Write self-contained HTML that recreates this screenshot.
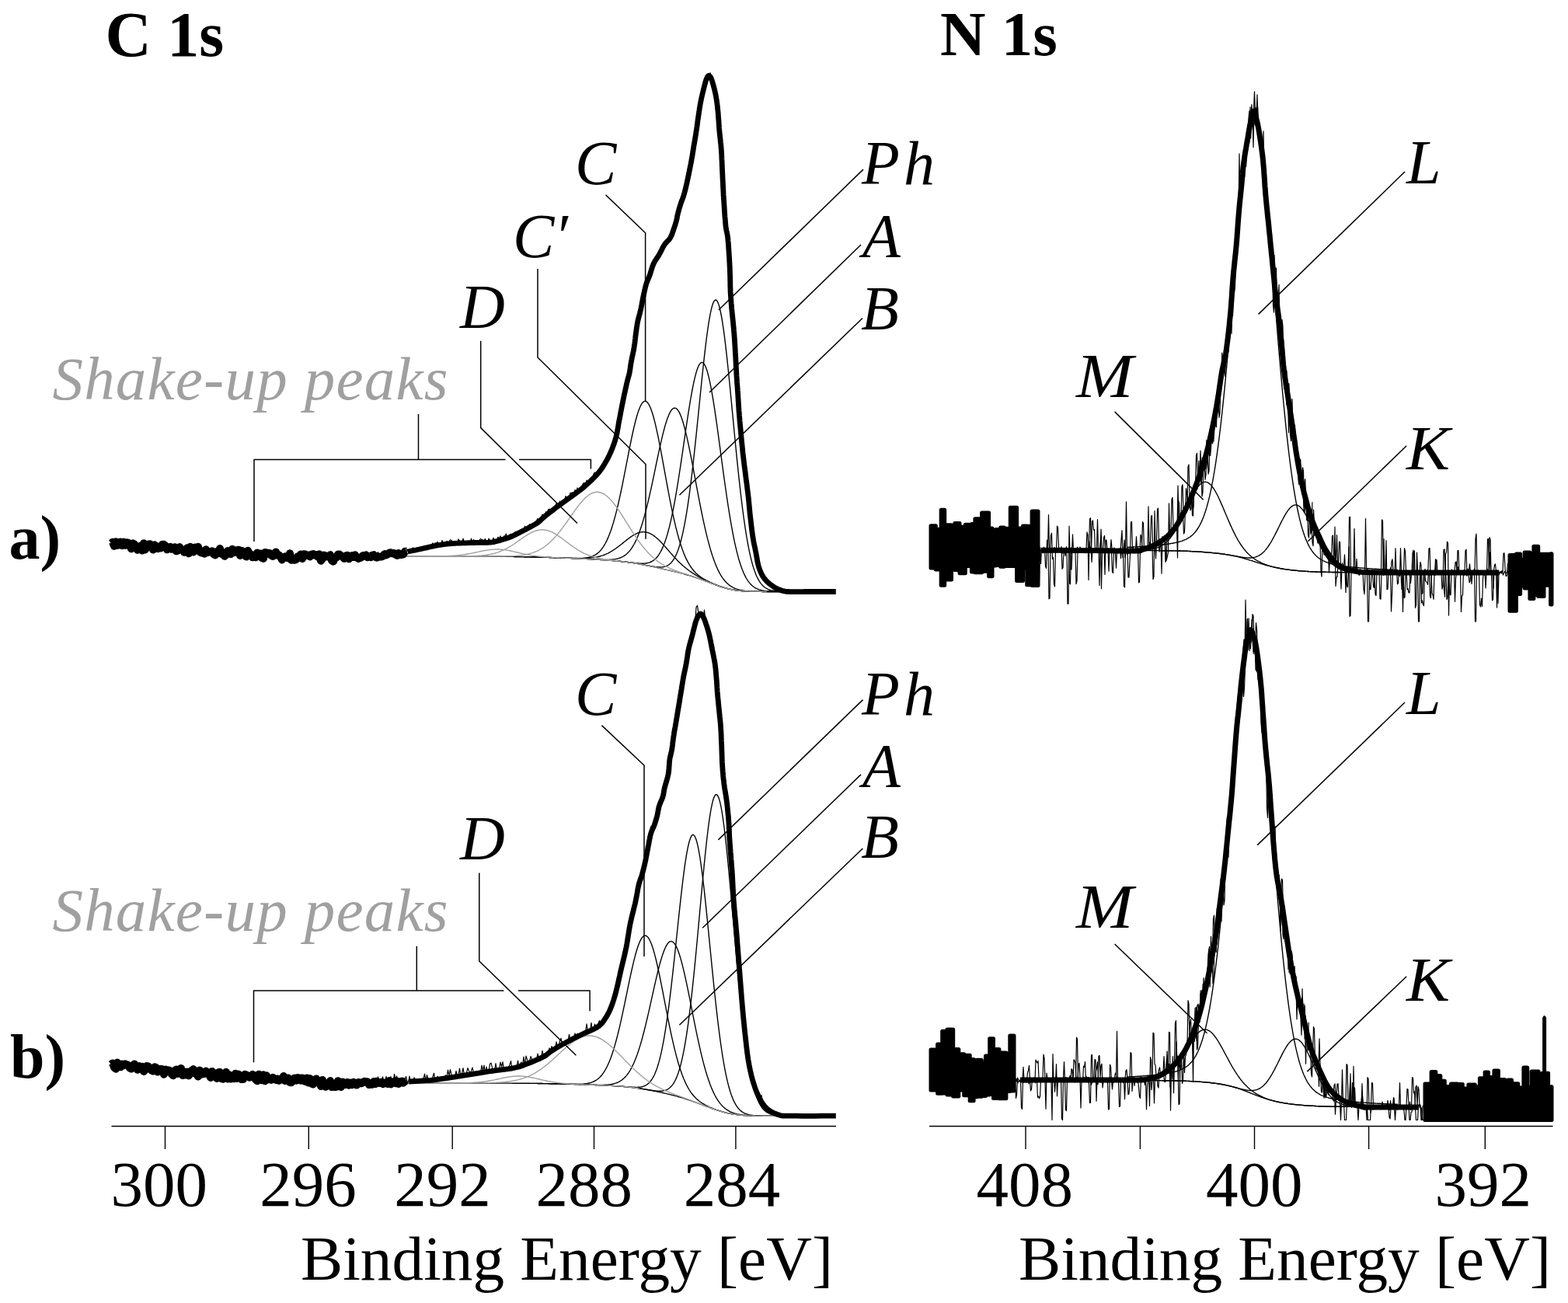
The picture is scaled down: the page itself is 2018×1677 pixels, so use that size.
<!DOCTYPE html>
<html><head><meta charset="utf-8"><title>XPS C 1s and N 1s spectra</title>
<style>html,body{margin:0;padding:0;background:#fff;}svg{display:block;}
text{font-family:"Liberation Serif","Times New Roman",serif;}</style></head>
<body><svg width="2018" height="1677" viewBox="0 0 2018 1677">
<rect width="2018" height="1677" fill="#fff"/>
<text x="135.5" y="71.5" font-size="82" font-weight="bold" font-style="normal" fill="#000">C 1s</text>
<text x="1210" y="71" font-size="81" font-weight="bold" font-style="normal" fill="#000">N 1s</text>
<text x="11.5" y="718.5" font-size="80" font-weight="bold" font-style="normal" fill="#000">a)</text>
<text x="13" y="1387" font-size="80" font-weight="bold" font-style="normal" fill="#000">b)</text>
<text x="142.6" y="1551.5" font-size="83" font-weight="normal" font-style="normal" fill="#000">300</text>
<text x="334.2" y="1551.5" font-size="83" font-weight="normal" font-style="normal" fill="#000">296</text>
<text x="507.3" y="1551.5" font-size="83" font-weight="normal" font-style="normal" fill="#000">292</text>
<text x="689.6" y="1551.5" font-size="83" font-weight="normal" font-style="normal" fill="#000">288</text>
<text x="879.8" y="1551.5" font-size="83" font-weight="normal" font-style="normal" fill="#000">284</text>
<text x="1256.6" y="1551.5" font-size="83" font-weight="normal" font-style="normal" fill="#000">408</text>
<text x="1551.9" y="1551.5" font-size="83" font-weight="normal" font-style="normal" fill="#000">400</text>
<text x="1846.6" y="1551.5" font-size="83" font-weight="normal" font-style="normal" fill="#000">392</text>
<text x="387" y="1646.5" font-size="81" font-weight="normal" font-style="normal" fill="#000" textLength="685" lengthAdjust="spacingAndGlyphs">Binding Energy [eV]</text>
<text x="1311" y="1646.5" font-size="81" font-weight="normal" font-style="normal" fill="#000" textLength="685" lengthAdjust="spacingAndGlyphs">Binding Energy [eV]</text>
<path d="M143.5 1449.5L1076 1449.5" fill="none" stroke="#000" stroke-width="1.4" stroke-linejoin="round" stroke-linecap="butt"/>
<path d="M1196 1449.5L1998.5 1449.5" fill="none" stroke="#000" stroke-width="1.4" stroke-linejoin="round" stroke-linecap="butt"/>
<path d="M212.5 1449.5L212.5 1479" fill="none" stroke="#000" stroke-width="1.4" stroke-linejoin="round" stroke-linecap="butt"/>
<path d="M397.3 1449.5L397.3 1479" fill="none" stroke="#000" stroke-width="1.4" stroke-linejoin="round" stroke-linecap="butt"/>
<path d="M582.2 1449.5L582.2 1479" fill="none" stroke="#000" stroke-width="1.4" stroke-linejoin="round" stroke-linecap="butt"/>
<path d="M764.5 1449.5L764.5 1479" fill="none" stroke="#000" stroke-width="1.4" stroke-linejoin="round" stroke-linecap="butt"/>
<path d="M946.9 1449.5L946.9 1479" fill="none" stroke="#000" stroke-width="1.4" stroke-linejoin="round" stroke-linecap="butt"/>
<path d="M1320 1449.5L1320 1479" fill="none" stroke="#000" stroke-width="1.4" stroke-linejoin="round" stroke-linecap="butt"/>
<path d="M1467.4 1449.5L1467.4 1479" fill="none" stroke="#000" stroke-width="1.4" stroke-linejoin="round" stroke-linecap="butt"/>
<path d="M1614.5 1449.5L1614.5 1479" fill="none" stroke="#000" stroke-width="1.4" stroke-linejoin="round" stroke-linecap="butt"/>
<path d="M1761.6 1449.5L1761.6 1479" fill="none" stroke="#000" stroke-width="1.4" stroke-linejoin="round" stroke-linecap="butt"/>
<path d="M1911.3 1449.5L1911.3 1479" fill="none" stroke="#000" stroke-width="1.4" stroke-linejoin="round" stroke-linecap="butt"/>
<path d="M520 716L521 716L522 716L523 716L524 716L525 716L526 716L527 716L528 716L529 716L530 716L531 716L532 716L533 716L534 716L535 716L536 716L537 716L538 716L539 716L540 716L541 716L542 716L543 716L544 716L545 716L546 716L547 716L548 716L549 716L550 716L551 716L552 716L553 716L554 716L555 716L556 716L557 716L558 716L559 716L560 716L561 716L562 716L563 716L564 716L565 716L566 716L567 716L568 716L569 716L570 716L571 716L572 716L573 716L574 716L575 716L576 716L577 716L578 716L579 716L580 716L581 716L582 716L583 716L584 716L585 716L586 716L587 716L588 716L589 716L590 716L591 716L592 716L593 716L594 716L595 716L596 716L597 716L598 716L599 716L600 716L601 716L602 716L603 716L604 716L605 716L606 716L607 716L608 716L609 716L610 716L611 716L612 716L613 716.1L614 716.1L615 716.1L616 716.1L617 716.1L618 716.1L619 716.1L620 716.1L621 716.1L622 716.1L623 716.1L624 716.1L625 716.1L626 716.1L627 716.1L628 716.1L629 716.1L630 716.1L631 716.1L632 716.1L633 716.2L634 716.2L635 716.2L636 716.2L637 716.2L638 716.2L639 716.2L640 716.2L641 716.2L642 716.2L643 716.2L644 716.2L645 716.3L646 716.3L647 716.3L648 716.3L649 716.3L650 716.3L651 716.3L652 716.3L653 716.3L654 716.3L655 716.4L656 716.4L657 716.4L658 716.4L659 716.4L660 716.4L661 716.4L662 716.5L663 716.5L664 716.5L665 716.5L666 716.5L667 716.5L668 716.5L669 716.6L670 716.6L671 716.6L672 716.6L673 716.6L674 716.6L675 716.7L676 716.7L677 716.7L678 716.7L679 716.7L680 716.8L681 716.8L682 716.8L683 716.8L684 716.8L685 716.9L686 716.9L687 716.9L688 716.9L689 717L690 717L691 717L692 717L693 717.1L694 717.1L695 717.1L696 717.1L697 717.2L698 717.2L699 717.2L700 717.3L701 717.3L702 717.3L703 717.4L704 717.4L705 717.4L706 717.4L707 717.5L708 717.5L709 717.5L710 717.6L711 717.6L712 717.6L713 717.7L714 717.7L715 717.7L716 717.8L717 717.8L718 717.8L719 717.9L720 717.9L721 717.9L722 718L723 718L724 718.1L725 718.1L726 718.1L727 718.2L728 718.2L729 718.2L730 718.3L731 718.3L732 718.4L733 718.4L734 718.4L735 718.5L736 718.5L737 718.6L738 718.6L739 718.7L740 718.7L741 718.8L742 718.8L743 718.8L744 718.9L745 718.9L746 719L747 719L748 719.1L749 719.1L750 719.2L751 719.2L752 719.3L753 719.3L754 719.4L755 719.4L756 719.5L757 719.5L758 719.6L759 719.6L760 719.7L761 719.8L762 719.8L763 719.9L764 719.9L765 720L766 720L767 720.1L768 720.2L769 720.2L770 720.3L771 720.3L772 720.4L773 720.5L774 720.5L775 720.6L776 720.6L777 720.7L778 720.8L779 720.8L780 720.9L781 721L782 721L783 721.1L784 721.2L785 721.3L786 721.3L787 721.4L788 721.5L789 721.6L790 721.6L791 721.7L792 721.8L793 721.9L794 722L795 722.1L796 722.2L797 722.3L798 722.4L799 722.5L800 722.6L801 722.7L802 722.8L803 722.9L804 723L805 723.2L806 723.3L807 723.4L808 723.5L809 723.7L810 723.8L811 723.9L812 724.1L813 724.2L814 724.4L815 724.5L816 724.7L817 724.9L818 725L819 725.2L820 725.4L821 725.5L822 725.7L823 725.9L824 726.1L825 726.3L826 726.5L827 726.7L828 726.9L829 727L830 727.2L831 727.5L832 727.7L833 727.9L834 728.1L835 728.3L836 728.5L837 728.7L838 728.9L839 729.1L840 729.3L841 729.6L842 729.8L843 730L844 730.2L845 730.4L846 730.7L847 730.9L848 731.1L849 731.3L850 731.6L851 731.8L852 732L853 732.2L854 732.5L855 732.7L856 732.9L857 733.1L858 733.4L859 733.6L860 733.8L861 734L862 734.3L863 734.5L864 734.7L865 735L866 735.2L867 735.4L868 735.7L869 735.9L870 736.1L871 736.4L872 736.6L873 736.9L874 737.1L875 737.4L876 737.6L877 737.9L878 738.1L879 738.4L880 738.7L881 738.9L882 739.2L883 739.5L884 739.8L885 740.1L886 740.3L887 740.6L888 740.9L889 741.2L890 741.5L891 741.9L892 742.2L893 742.5L894 742.8L895 743.2L896 743.5L897 743.8L898 744.2L899 744.5L900 744.9L901 745.2L902 745.6L903 746L904 746.3L905 746.7L906 747.1L907 747.5L908 747.9L909 748.2L910 748.6L911 749L912 749.4L913 749.8L914 750.2L915 750.5L916 750.9L917 751.3L918 751.7L919 752.1L920 752.4L921 752.8L922 753.2L923 753.5L924 753.9L925 754.2L926 754.5L927 754.9L928 755.2L929 755.5L930 755.8L931 756.1L932 756.4L933 756.7L934 757L935 757.2L936 757.5L937 757.7L938 758L939 758.2L940 758.4L941 758.6L942 758.8L943 759L944 759.2L945 759.3L946 759.5L947 759.7L948 759.8L949 759.9L950 760.1L951 760.2L952 760.3L953 760.4L954 760.5L955 760.6L956 760.7L957 760.7L958 760.8L959 760.9L960 760.9L961 761L962 761L963 761.1L964 761.1L965 761.2L966 761.2L967 761.2L968 761.3L969 761.3L970 761.3L971 761.3L972 761.4L973 761.4L974 761.4L975 761.4L976 761.4L977 761.4L978 761.4L979 761.4L980 761.4L981 761.5L982 761.5L983 761.5L984 761.5L985 761.5L986 761.5L987 761.5L988 761.5L989 761.5L990 761.5L991 761.5L992 761.5L993 761.5L994 761.5L995 761.5L996 761.5L997 761.5L998 761.5L999 761.5L1000 761.5L1001 761.5L1002 761.5L1003 761.5L1004 761.5L1005 761.5L1006 761.5L1007 761.5L1008 761.5L1009 761.5L1010 761.5L1011 761.5L1012 761.5L1013 761.5L1014 761.5L1015 761.5L1016 761.5L1017 761.5L1018 761.5L1019 761.5L1020 761.5L1021 761.5L1022 761.5L1023 761.5L1024 761.5L1025 761.5L1026 761.5L1027 761.5L1028 761.5L1029 761.5L1030 761.5L1031 761.5L1032 761.5L1033 761.5L1034 761.5L1035 761.5L1036 761.5L1037 761.5L1038 761.5L1039 761.5L1040 761.5L1041 761.5L1042 761.5L1043 761.5L1044 761.5L1045 761.5L1046 761.5L1047 761.5L1048 761.5L1049 761.5L1050 761.5L1051 761.5L1052 761.5L1053 761.5L1054 761.5L1055 761.5L1056 761.5L1057 761.5L1058 761.5L1059 761.5L1060 761.5L1061 761.5L1062 761.5L1063 761.5L1064 761.5L1065 761.5L1066 761.5L1067 761.5L1068 761.5L1069 761.5L1070 761.5L1071 761.5L1072 761.5L1073 761.5L1074 761.5L1075 761.5" fill="none" stroke="#000" stroke-width="1.4" stroke-linejoin="round" stroke-linecap="butt"/>
<path d="M789 721.6L790 721.6L791 721.7L792 721.8L793 721.9L794 722L795 722.1L796 722.2L797 722.3L798 722.4L799 722.5L800 722.6L801 722.7L802 722.8L803 722.9L804 723L805 723.2L806 723.3L807 723.4L808 723.5L809 723.7L810 723.8L811 723.9L812 724.1L813 724.2L814 724.4L815 724.5L816 724.7L817 724.9L818 725L819 725.2L820 725.4L821 725.5L822 725.7L823 725.9L824 726.1L825 726.3L826 726.4L827 726.6L828 726.8L829 727L830 727.2L831 727.4L832 727.6L833 727.8L834 728L835 728.2L836 728.3L837 728.5L838 728.7L839 728.9L840 729L841 729.2L842 729.3L843 729.5L844 729.6L845 729.7L846 729.8L847 729.9L848 730L849 730L850 730L851 729.9L852 729.9L853 729.8L854 729.6L855 729.4L856 729.1L857 728.8L858 728.4L859 727.9L860 727.3L861 726.6L862 725.8L863 724.9L864 723.9L865 722.8L866 721.4L867 720L868 718.3L869 716.5L870 714.4L871 712.2L872 709.7L873 707L874 704L875 700.8L876 697.2L877 693.4L878 689.3L879 684.9L880 680.2L881 675.1L882 669.7L883 663.9L884 657.8L885 651.4L886 644.6L887 637.5L888 630L889 622.2L890 614.1L891 605.8L892 597.1L893 588.2L894 579L895 569.6L896 560.1L897 550.4L898 540.5L899 530.7L900 520.7L901 510.8L902 501L903 491.2L904 481.7L905 472.3L906 463.1L907 454.3L908 445.8L909 437.7L910 430L911 422.8L912 416.2L913 410.1L914 404.6L915 399.8L916 395.7L917 392.3L918 389.6L919 387.6L920 386.4L921 386L922 386.4L923 387.5L924 389.4L925 392.1L926 395.5L927 399.6L928 404.5L929 410L930 416.1L931 422.9L932 430.2L933 438.1L934 446.4L935 455.1L936 464.3L937 473.8L938 483.5L939 493.5L940 503.7L941 514L942 524.4L943 534.9L944 545.3L945 555.7L946 566L947 576.2L948 586.3L949 596.1L950 605.7L951 615.1L952 624.2L953 633L954 641.5L955 649.7L956 657.5L957 665L958 672.1L959 678.9L960 685.4L961 691.5L962 697.2L963 702.6L964 707.6L965 712.4L966 716.8L967 720.9L968 724.7L969 728.2L970 731.4L971 734.4L972 737.1L973 739.7L974 742L975 744L976 745.9L977 747.7L978 749.2L979 750.6L980 751.9L981 753L982 754L983 755L984 755.8L985 756.5L986 757.1L987 757.7L988 758.2L989 758.6L990 759L991 759.4L992 759.7L993 759.9L994 760.1L995 760.3L996 760.5L997 760.7L998 760.8L999 760.9L1000 761L1001 761.1L1002 761.1L1003 761.2L1004 761.2L1005 761.3L1006 761.3L1007 761.3L1008 761.4L1009 761.4L1010 761.4L1011 761.4L1012 761.4L1013 761.5L1014 761.5L1015 761.5L1016 761.5L1017 761.5L1018 761.5L1019 761.5L1020 761.5L1021 761.5L1022 761.5L1023 761.5L1024 761.5L1025 761.5L1026 761.5L1027 761.5L1028 761.5L1029 761.5L1030 761.5L1031 761.5L1032 761.5L1033 761.5L1034 761.5L1035 761.5L1036 761.5L1037 761.5L1038 761.5L1039 761.5L1040 761.5L1041 761.5L1042 761.5L1043 761.5L1044 761.5L1045 761.5L1046 761.5L1047 761.5L1048 761.5L1049 761.5L1050 761.5L1051 761.5L1052 761.5L1053 761.5L1054 761.5" fill="none" stroke="#000" stroke-width="1.4" stroke-linejoin="round" stroke-linecap="butt"/>
<path d="M759 719.6L760 719.7L761 719.8L762 719.8L763 719.9L764 719.9L765 720L766 720L767 720.1L768 720.2L769 720.2L770 720.3L771 720.3L772 720.4L773 720.5L774 720.5L775 720.6L776 720.6L777 720.7L778 720.8L779 720.8L780 720.9L781 721L782 721L783 721.1L784 721.2L785 721.3L786 721.3L787 721.4L788 721.5L789 721.6L790 721.6L791 721.7L792 721.8L793 721.9L794 722L795 722.1L796 722.2L797 722.3L798 722.4L799 722.5L800 722.6L801 722.7L802 722.8L803 722.9L804 723L805 723.1L806 723.2L807 723.3L808 723.5L809 723.6L810 723.7L811 723.8L812 723.9L813 724.1L814 724.2L815 724.3L816 724.4L817 724.5L818 724.6L819 724.7L820 724.8L821 724.9L822 725L823 725.1L824 725.1L825 725.2L826 725.2L827 725.2L828 725.2L829 725.1L830 725.1L831 725L832 724.8L833 724.7L834 724.4L835 724.2L836 723.9L837 723.5L838 723L839 722.5L840 721.9L841 721.3L842 720.5L843 719.7L844 718.7L845 717.7L846 716.5L847 715.2L848 713.8L849 712.2L850 710.5L851 708.6L852 706.6L853 704.4L854 702L855 699.5L856 696.7L857 693.8L858 690.6L859 687.3L860 683.7L861 679.9L862 675.9L863 671.7L864 667.2L865 662.5L866 657.7L867 652.6L868 647.3L869 641.8L870 636.1L871 630.2L872 624.1L873 617.9L874 611.5L875 605L876 598.4L877 591.7L878 584.9L879 578.1L880 571.2L881 564.4L882 557.5L883 550.7L884 544L885 537.4L886 530.9L887 524.6L888 518.5L889 512.5L890 506.9L891 501.5L892 496.4L893 491.6L894 487.2L895 483.1L896 479.5L897 476.2L898 473.5L899 471.1L900 469.2L901 467.8L902 466.9L903 466.5L904 466.6L905 467.1L906 468.2L907 469.8L908 471.8L909 474.3L910 477.3L911 480.8L912 484.6L913 488.9L914 493.6L915 498.7L916 504.1L917 509.8L918 515.8L919 522.1L920 528.7L921 535.4L922 542.4L923 549.5L924 556.7L925 564.1L926 571.5L927 578.9L928 586.4L929 593.8L930 601.2L931 608.6L932 615.8L933 623L934 630L935 637L936 643.7L937 650.3L938 656.7L939 662.9L940 668.9L941 674.7L942 680.2L943 685.6L944 690.7L945 695.6L946 700.3L947 704.7L948 708.9L949 712.9L950 716.6L951 720.2L952 723.5L953 726.6L954 729.5L955 732.3L956 734.8L957 737.2L958 739.4L959 741.4L960 743.3L961 745L962 746.6L963 748.1L964 749.4L965 750.6L966 751.7L967 752.8L968 753.7L969 754.5L970 755.3L971 756L972 756.6L973 757.2L974 757.7L975 758.1L976 758.5L977 758.9L978 759.2L979 759.5L980 759.7L981 760L982 760.2L983 760.3L984 760.5L985 760.6L986 760.7L987 760.8L988 760.9L989 761L990 761.1L991 761.1L992 761.2L993 761.2L994 761.3L995 761.3L996 761.3L997 761.4L998 761.4L999 761.4L1000 761.4L1001 761.4L1002 761.4L1003 761.4L1004 761.5L1005 761.5L1006 761.5L1007 761.5L1008 761.5L1009 761.5L1010 761.5L1011 761.5L1012 761.5L1013 761.5L1014 761.5L1015 761.5L1016 761.5L1017 761.5L1018 761.5L1019 761.5L1020 761.5L1021 761.5L1022 761.5L1023 761.5L1024 761.5L1025 761.5L1026 761.5L1027 761.5L1028 761.5L1029 761.5L1030 761.5L1031 761.5L1032 761.5L1033 761.5L1034 761.5L1035 761.5L1036 761.5L1037 761.5L1038 761.5L1039 761.5L1040 761.5L1041 761.5L1042 761.5L1043 761.5L1044 761.5L1045 761.5L1046 761.5L1047 761.5L1048 761.5L1049 761.5" fill="none" stroke="#000" stroke-width="1.4" stroke-linejoin="round" stroke-linecap="butt"/>
<path d="M714 717.7L715 717.7L716 717.8L717 717.8L718 717.8L719 717.9L720 717.9L721 717.9L722 718L723 718L724 718.1L725 718.1L726 718.1L727 718.2L728 718.2L729 718.2L730 718.3L731 718.3L732 718.4L733 718.4L734 718.4L735 718.5L736 718.5L737 718.6L738 718.6L739 718.7L740 718.7L741 718.8L742 718.8L743 718.8L744 718.9L745 718.9L746 719L747 719L748 719.1L749 719.1L750 719.2L751 719.2L752 719.3L753 719.3L754 719.4L755 719.4L756 719.5L757 719.5L758 719.6L759 719.6L760 719.7L761 719.7L762 719.8L763 719.8L764 719.9L765 719.9L766 720L767 720L768 720.1L769 720.1L770 720.2L771 720.2L772 720.2L773 720.3L774 720.3L775 720.3L776 720.4L777 720.4L778 720.4L779 720.4L780 720.4L781 720.4L782 720.4L783 720.4L784 720.4L785 720.3L786 720.3L787 720.2L788 720.1L789 720L790 719.9L791 719.8L792 719.6L793 719.4L794 719.2L795 719L796 718.7L797 718.4L798 718L799 717.6L800 717.2L801 716.7L802 716.2L803 715.6L804 714.9L805 714.2L806 713.4L807 712.5L808 711.5L809 710.5L810 709.4L811 708.2L812 706.8L813 705.4L814 703.9L815 702.2L816 700.5L817 698.6L818 696.6L819 694.5L820 692.2L821 689.8L822 687.3L823 684.6L824 681.8L825 678.8L826 675.7L827 672.5L828 669.1L829 665.6L830 661.9L831 658.2L832 654.2L833 650.2L834 646L835 641.8L836 637.4L837 632.9L838 628.4L839 623.8L840 619.1L841 614.4L842 609.6L843 604.8L844 600L845 595.2L846 590.5L847 585.7L848 581.1L849 576.5L850 572L851 567.6L852 563.3L853 559.2L854 555.3L855 551.5L856 547.9L857 544.5L858 541.4L859 538.5L860 535.9L861 533.5L862 531.4L863 529.6L864 528L865 526.8L866 525.9L867 525.4L868 525.1L869 525.2L870 525.6L871 526.3L872 527.4L873 528.8L874 530.4L875 532.4L876 534.7L877 537.3L878 540.2L879 543.3L880 546.7L881 550.4L882 554.2L883 558.3L884 562.6L885 567.1L886 571.7L887 576.5L888 581.4L889 586.4L890 591.5L891 596.7L892 602L893 607.3L894 612.6L895 618L896 623.3L897 628.6L898 633.9L899 639.2L900 644.4L901 649.5L902 654.5L903 659.5L904 664.3L905 669.1L906 673.7L907 678.2L908 682.6L909 686.8L910 690.9L911 694.8L912 698.7L913 702.3L914 705.9L915 709.2L916 712.5L917 715.6L918 718.5L919 721.3L920 724L921 726.5L922 728.9L923 731.2L924 733.4L925 735.4L926 737.3L927 739.1L928 740.8L929 742.3L930 743.8L931 745.2L932 746.5L933 747.7L934 748.8L935 749.9L936 750.8L937 751.7L938 752.6L939 753.4L940 754.1L941 754.7L942 755.3L943 755.9L944 756.4L945 756.9L946 757.3L947 757.7L948 758.1L949 758.4L950 758.7L951 759L952 759.2L953 759.5L954 759.7L955 759.9L956 760L957 760.2L958 760.3L959 760.5L960 760.6L961 760.7L962 760.8L963 760.9L964 760.9L965 761L966 761.1L967 761.1L968 761.2L969 761.2L970 761.2L971 761.3L972 761.3L973 761.3L974 761.3L975 761.4L976 761.4L977 761.4L978 761.4L979 761.4L980 761.4L981 761.4L982 761.5L983 761.5L984 761.5L985 761.5L986 761.5L987 761.5L988 761.5L989 761.5L990 761.5L991 761.5L992 761.5L993 761.5L994 761.5L995 761.5L996 761.5L997 761.5L998 761.5L999 761.5L1000 761.5L1001 761.5L1002 761.5L1003 761.5L1004 761.5L1005 761.5L1006 761.5L1007 761.5L1008 761.5L1009 761.5L1010 761.5L1011 761.5L1012 761.5L1013 761.5L1014 761.5L1015 761.5L1016 761.5L1017 761.5L1018 761.5L1019 761.5L1020 761.5L1021 761.5L1022 761.5L1023 761.5L1024 761.5" fill="none" stroke="#000" stroke-width="1.4" stroke-linejoin="round" stroke-linecap="butt"/>
<path d="M683 716.8L684 716.8L685 716.9L686 716.9L687 716.9L688 716.9L689 717L690 717L691 717L692 717L693 717.1L694 717.1L695 717.1L696 717.1L697 717.2L698 717.2L699 717.2L700 717.3L701 717.3L702 717.3L703 717.4L704 717.4L705 717.4L706 717.4L707 717.5L708 717.5L709 717.5L710 717.6L711 717.6L712 717.6L713 717.7L714 717.7L715 717.7L716 717.8L717 717.8L718 717.8L719 717.9L720 717.9L721 717.9L722 718L723 718L724 718L725 718.1L726 718.1L727 718.1L728 718.2L729 718.2L730 718.2L731 718.3L732 718.3L733 718.3L734 718.4L735 718.4L736 718.4L737 718.5L738 718.5L739 718.5L740 718.5L741 718.5L742 718.5L743 718.5L744 718.5L745 718.5L746 718.5L747 718.5L748 718.5L749 718.4L750 718.4L751 718.3L752 718.2L753 718.1L754 718L755 717.9L756 717.7L757 717.5L758 717.3L759 717.1L760 716.8L761 716.5L762 716.1L763 715.7L764 715.2L765 714.7L766 714.2L767 713.6L768 712.9L769 712.1L770 711.3L771 710.4L772 709.4L773 708.3L774 707.1L775 705.8L776 704.4L777 702.9L778 701.2L779 699.5L780 697.6L781 695.6L782 693.4L783 691.1L784 688.6L785 686L786 683.3L787 680.4L788 677.3L789 674.1L790 670.7L791 667.1L792 663.4L793 659.6L794 655.6L795 651.4L796 647.1L797 642.7L798 638.1L799 633.5L800 628.7L801 623.8L802 618.8L803 613.8L804 608.7L805 603.6L806 598.4L807 593.3L808 588.1L809 583L810 577.9L811 572.9L812 568L813 563.2L814 558.5L815 554L816 549.7L817 545.5L818 541.5L819 537.8L820 534.3L821 531.1L822 528.2L823 525.6L824 523.2L825 521.2L826 519.6L827 518.2L828 517.2L829 516.6L830 516.4L831 516.4L832 516.9L833 517.7L834 518.9L835 520.4L836 522.3L837 524.5L838 527L839 529.9L840 533L841 536.5L842 540.2L843 544.2L844 548.4L845 552.8L846 557.4L847 562.2L848 567.2L849 572.3L850 577.5L851 582.8L852 588.2L853 593.7L854 599.2L855 604.7L856 610.2L857 615.7L858 621.1L859 626.5L860 631.9L861 637.1L862 642.3L863 647.4L864 652.4L865 657.2L866 661.9L867 666.5L868 670.9L869 675.2L870 679.3L871 683.2L872 687.1L873 690.7L874 694.2L875 697.5L876 700.7L877 703.7L878 706.6L879 709.3L880 711.9L881 714.4L882 716.7L883 718.9L884 720.9L885 722.9L886 724.7L887 726.4L888 728L889 729.5L890 730.9L891 732.3L892 733.5L893 734.7L894 735.8L895 736.9L896 737.9L897 738.8L898 739.7L899 740.5L900 741.3L901 742.1L902 742.8L903 743.5L904 744.2L905 744.8L906 745.4L907 746L908 746.5L909 747.1L910 747.6L911 748.1L912 748.6L913 749.1L914 749.6L915 750L916 750.5L917 750.9L918 751.4L919 751.8L920 752.2L921 752.6L922 753L923 753.4L924 753.7L925 754.1L926 754.5L927 754.8L928 755.1L929 755.5L930 755.8L931 756.1L932 756.4L933 756.7L934 756.9L935 757.2L936 757.5L937 757.7L938 758L939 758.2L940 758.4L941 758.6L942 758.8L943 759L944 759.2L945 759.3L946 759.5L947 759.7L948 759.8L949 759.9L950 760.1L951 760.2L952 760.3L953 760.4L954 760.5L955 760.6L956 760.7L957 760.7L958 760.8L959 760.9L960 760.9L961 761L962 761L963 761.1L964 761.1L965 761.2L966 761.2L967 761.2L968 761.3L969 761.3L970 761.3L971 761.3L972 761.4L973 761.4L974 761.4L975 761.4L976 761.4L977 761.4L978 761.4" fill="none" stroke="#000" stroke-width="1.4" stroke-linejoin="round" stroke-linecap="butt"/>
<path d="M661 716.4L662 716.5L663 716.5L664 716.5L665 716.5L666 716.5L667 716.5L668 716.5L669 716.6L670 716.6L671 716.6L672 716.6L673 716.6L674 716.6L675 716.7L676 716.7L677 716.7L678 716.7L679 716.7L680 716.8L681 716.8L682 716.8L683 716.8L684 716.8L685 716.9L686 716.9L687 716.9L688 716.9L689 717L690 717L691 717L692 717L693 717.1L694 717.1L695 717.1L696 717.1L697 717.2L698 717.2L699 717.2L700 717.3L701 717.3L702 717.3L703 717.3L704 717.4L705 717.4L706 717.4L707 717.5L708 717.5L709 717.5L710 717.6L711 717.6L712 717.6L713 717.7L714 717.7L715 717.7L716 717.8L717 717.8L718 717.8L719 717.9L720 717.9L721 717.9L722 718L723 718L724 718L725 718.1L726 718.1L727 718.1L728 718.2L729 718.2L730 718.2L731 718.3L732 718.3L733 718.3L734 718.4L735 718.4L736 718.4L737 718.4L738 718.5L739 718.5L740 718.5L741 718.5L742 718.5L743 718.6L744 718.6L745 718.6L746 718.6L747 718.6L748 718.6L749 718.6L750 718.6L751 718.6L752 718.5L753 718.5L754 718.5L755 718.4L756 718.4L757 718.3L758 718.3L759 718.2L760 718.1L761 718L762 717.9L763 717.8L764 717.6L765 717.5L766 717.3L767 717.2L768 717L769 716.7L770 716.5L771 716.3L772 716L773 715.7L774 715.4L775 715.1L776 714.8L777 714.4L778 714L779 713.6L780 713.2L781 712.7L782 712.3L783 711.8L784 711.2L785 710.7L786 710.1L787 709.5L788 708.9L789 708.3L790 707.6L791 707L792 706.3L793 705.6L794 704.8L795 704.1L796 703.3L797 702.6L798 701.8L799 701L800 700.2L801 699.4L802 698.6L803 697.8L804 697L805 696.2L806 695.4L807 694.6L808 693.8L809 693.1L810 692.3L811 691.6L812 690.9L813 690.2L814 689.6L815 688.9L816 688.3L817 687.8L818 687.3L819 686.8L820 686.4L821 686L822 685.6L823 685.3L824 685.1L825 684.9L826 684.8L827 684.7L828 684.6L829 684.6L830 684.7L831 684.9L832 685L833 685.3L834 685.6L835 685.9L836 686.4L837 686.8L838 687.3L839 687.9L840 688.5L841 689.2L842 689.9L843 690.7L844 691.5L845 692.3L846 693.2L847 694.1L848 695.1L849 696L850 697L851 698.1L852 699.1L853 700.2L854 701.3L855 702.4L856 703.5L857 704.7L858 705.8L859 707L860 708.1L861 709.3L862 710.4L863 711.6L864 712.7L865 713.8L866 715L867 716.1L868 717.2L869 718.2L870 719.3L871 720.4L872 721.4L873 722.4L874 723.4L875 724.4L876 725.3L877 726.3L878 727.2L879 728.1L880 729L881 729.8L882 730.6L883 731.5L884 732.2L885 733L886 733.8L887 734.5L888 735.2L889 735.9L890 736.6L891 737.3L892 737.9L893 738.6L894 739.2L895 739.8L896 740.4L897 741L898 741.6L899 742.1L900 742.7L901 743.2L902 743.8L903 744.3L904 744.8L905 745.3L906 745.8L907 746.3L908 746.8L909 747.3L910 747.7L911 748.2L912 748.7L913 749.1L914 749.6L915 750L916 750.5L917 750.9L918 751.3L919 751.7L920 752.1L921 752.5L922 752.9L923 753.3L924 753.7L925 754L926 754.4L927 754.7L928 755.1L929 755.4L930 755.7L931 756L932 756.3L933 756.6L934 756.9L935 757.2L936 757.4L937 757.7L938 757.9L939 758.2L940 758.4L941 758.6L942 758.8L943 759L944 759.2L945 759.3L946 759.5L947 759.6L948 759.8L949 759.9L950 760.1L951 760.2L952 760.3L953 760.4L954 760.5L955 760.6L956 760.7L957 760.7L958 760.8L959 760.9L960 760.9L961 761L962 761L963 761.1L964 761.1L965 761.2L966 761.2L967 761.2L968 761.3L969 761.3L970 761.3L971 761.3L972 761.4L973 761.4L974 761.4L975 761.4L976 761.4L977 761.4L978 761.4L979 761.4L980 761.4L981 761.5L982 761.5L983 761.5L984 761.5L985 761.5L986 761.5L987 761.5L988 761.5L989 761.5L990 761.5L991 761.5L992 761.5L993 761.5L994 761.5L995 761.5L996 761.5L997 761.5L998 761.5L999 761.5L1000 761.5L1001 761.5L1002 761.5L1003 761.5" fill="none" stroke="#000" stroke-width="1.4" stroke-linejoin="round" stroke-linecap="butt"/>
<path d="M551 716L552 716L553 716L554 716L555 716L556 716L557 716L558 716L559 716L560 716L561 716L562 716L563 716L564 716L565 716L566 716L567 716L568 716L569 716L570 716L571 716L572 716L573 716L574 716L575 716L576 716L577 716L578 716L579 716L580 716L581 716L582 716L583 716L584 716L585 716L586 716L587 716L588 716L589 716L590 716L591 716L592 716L593 716L594 716L595 716L596 716L597 716L598 716L599 716L600 716L601 716L602 716L603 716L604 716L605 716L606 716L607 716L608 716L609 716L610 716L611 716L612 716L613 716L614 716L615 716.1L616 716.1L617 716.1L618 716.1L619 716.1L620 716.1L621 716.1L622 716.1L623 716.1L624 716.1L625 716.1L626 716.1L627 716.1L628 716.1L629 716.1L630 716.1L631 716.1L632 716.1L633 716.1L634 716.1L635 716.1L636 716.1L637 716.1L638 716.1L639 716.1L640 716.1L641 716.1L642 716.1L643 716.1L644 716.1L645 716.1L646 716L647 716L648 716L649 716L650 716L651 716L652 715.9L653 715.9L654 715.9L655 715.9L656 715.8L657 715.8L658 715.7L659 715.7L660 715.6L661 715.6L662 715.5L663 715.4L664 715.4L665 715.3L666 715.2L667 715.1L668 715L669 714.9L670 714.8L671 714.7L672 714.5L673 714.4L674 714.2L675 714L676 713.9L677 713.7L678 713.5L679 713.2L680 713L681 712.8L682 712.5L683 712.2L684 711.9L685 711.6L686 711.2L687 710.9L688 710.5L689 710.1L690 709.7L691 709.3L692 708.8L693 708.3L694 707.8L695 707.2L696 706.7L697 706.1L698 705.5L699 704.8L700 704.2L701 703.5L702 702.7L703 702L704 701.2L705 700.4L706 699.5L707 698.6L708 697.7L709 696.8L710 695.8L711 694.8L712 693.8L713 692.8L714 691.7L715 690.6L716 689.4L717 688.2L718 687.1L719 685.8L720 684.6L721 683.3L722 682L723 680.7L724 679.4L725 678L726 676.7L727 675.3L728 673.9L729 672.5L730 671L731 669.6L732 668.2L733 666.8L734 665.3L735 663.9L736 662.5L737 661L738 659.6L739 658.2L740 656.8L741 655.4L742 654.1L743 652.7L744 651.4L745 650.1L746 648.9L747 647.7L748 646.5L749 645.3L750 644.2L751 643.1L752 642.1L753 641.1L754 640.2L755 639.3L756 638.5L757 637.7L758 637L759 636.3L760 635.7L761 635.2L762 634.7L763 634.3L764 634L765 633.7L766 633.5L767 633.4L768 633.3L769 633.3L770 633.3L771 633.5L772 633.7L773 634L774 634.3L775 634.7L776 635.2L777 635.7L778 636.3L779 637L780 637.7L781 638.5L782 639.4L783 640.3L784 641.2L785 642.3L786 643.3L787 644.4L788 645.6L789 646.8L790 648.1L791 649.4L792 650.7L793 652.1L794 653.5L795 654.9L796 656.3L797 657.8L798 659.3L799 660.9L800 662.4L801 664L802 665.5L803 667.1L804 668.7L805 670.3L806 671.9L807 673.5L808 675.1L809 676.7L810 678.3L811 679.9L812 681.5L813 683L814 684.6L815 686.1L816 687.7L817 689.2L818 690.7L819 692.1L820 693.6L821 695L822 696.4L823 697.8L824 699.1L825 700.5L826 701.8L827 703.1L828 704.3L829 705.5L830 706.7L831 707.9L832 709L833 710.1L834 711.2L835 712.3L836 713.3L837 714.3L838 715.2L839 716.2L840 717.1L841 718L842 718.8L843 719.7L844 720.5L845 721.2L846 722L847 722.7L848 723.4L849 724.1L850 724.8L851 725.4L852 726L853 726.6L854 727.2L855 727.8L856 728.3L857 728.9L858 729.4L859 729.9L860 730.4L861 730.8L862 731.3L863 731.7L864 732.1L865 732.6L866 733L867 733.4L868 733.8L869 734.1L870 734.5L871 734.9L872 735.2L873 735.6L874 735.9L875 736.3L876 736.6L877 737L878 737.3L879 737.6L880 738L881 738.3L882 738.6L883 738.9L884 739.3L885 739.6L886 739.9L887 740.3L888 740.6L889 740.9L890 741.3L891 741.6L892 741.9L893 742.3L894 742.6L895 743L896 743.3L897 743.7L898 744.1L899 744.4L900 744.8L901 745.1L902 745.5L903 745.9L904 746.3L905 746.7L906 747L907 747.4L908 747.8L909 748.2L910 748.6L911 749L912 749.4L913 749.7L914 750.1L915 750.5L916 750.9L917 751.3L918 751.7L919 752L920 752.4L921 752.8L922 753.1L923 753.5L924 753.9L925 754.2L926 754.5L927 754.9L928 755.2L929 755.5L930 755.8L931 756.1L932 756.4L933 756.7L934 757L935 757.2L936 757.5L937 757.7L938 758L939 758.2L940 758.4L941 758.6L942 758.8L943 759L944 759.2L945 759.3L946 759.5L947 759.7L948 759.8L949 759.9L950 760.1L951 760.2L952 760.3L953 760.4L954 760.5L955 760.6L956 760.7L957 760.7L958 760.8L959 760.9L960 760.9L961 761L962 761L963 761.1L964 761.1L965 761.2L966 761.2L967 761.2L968 761.3L969 761.3L970 761.3L971 761.3L972 761.4L973 761.4L974 761.4L975 761.4L976 761.4L977 761.4L978 761.4L979 761.4L980 761.4L981 761.5L982 761.5L983 761.5L984 761.5L985 761.5L986 761.5L987 761.5" fill="none" stroke="#a0a0a0" stroke-width="1.4" stroke-linejoin="round" stroke-linecap="butt"/>
<path d="M520 716L521 716L522 716L523 716L524 716L525 716L526 716L527 716L528 716L529 716L530 716L531 716L532 716L533 716L534 716L535 716L536 716L537 716L538 716L539 716L540 716L541 716L542 716L543 716L544 716L545 716L546 716L547 716L548 716L549 716L550 716L551 716L552 716L553 716L554 716L555 716L556 716L557 716L558 716L559 716L560 716L561 716L562 716L563 716L564 716L565 716L566 716L567 716L568 716L569 716L570 716L571 716L572 716L573 716L574 716L575 716L576 716L577 716L578 716L579 716L580 716L581 716L582 716L583 716L584 716L585 716L586 716L587 716L588 716L589 716L590 716L591 716L592 716L593 715.9L594 715.9L595 715.9L596 715.9L597 715.9L598 715.9L599 715.9L600 715.9L601 715.9L602 715.8L603 715.8L604 715.8L605 715.8L606 715.8L607 715.7L608 715.7L609 715.7L610 715.6L611 715.6L612 715.5L613 715.5L614 715.4L615 715.4L616 715.3L617 715.2L618 715.2L619 715.1L620 715L621 714.9L622 714.8L623 714.7L624 714.6L625 714.4L626 714.3L627 714.2L628 714L629 713.8L630 713.6L631 713.5L632 713.2L633 713L634 712.8L635 712.6L636 712.3L637 712L638 711.7L639 711.4L640 711.1L641 710.8L642 710.4L643 710L644 709.6L645 709.2L646 708.8L647 708.4L648 707.9L649 707.4L650 706.9L651 706.4L652 705.9L653 705.4L654 704.8L655 704.2L656 703.6L657 703L658 702.4L659 701.8L660 701.1L661 700.5L662 699.8L663 699.1L664 698.4L665 697.7L666 697L667 696.3L668 695.6L669 694.9L670 694.2L671 693.5L672 692.8L673 692.1L674 691.4L675 690.7L676 690.1L677 689.4L678 688.8L679 688.2L680 687.6L681 687L682 686.4L683 685.9L684 685.4L685 684.9L686 684.5L687 684.1L688 683.7L689 683.3L690 683L691 682.7L692 682.5L693 682.3L694 682.1L695 681.9L696 681.9L697 681.8L698 681.8L699 681.8L700 681.9L701 682L702 682.1L703 682.3L704 682.6L705 682.8L706 683.1L707 683.5L708 683.8L709 684.3L710 684.7L711 685.2L712 685.7L713 686.2L714 686.8L715 687.4L716 688L717 688.6L718 689.3L719 689.9L720 690.6L721 691.3L722 692.1L723 692.8L724 693.5L725 694.3L726 695L727 695.8L728 696.6L729 697.3L730 698.1L731 698.8L732 699.6L733 700.3L734 701.1L735 701.8L736 702.5L737 703.3L738 704L739 704.7L740 705.3L741 706L742 706.7L743 707.3L744 707.9L745 708.5L746 709.1L747 709.7L748 710.2L749 710.8L750 711.3L751 711.8L752 712.3L753 712.7L754 713.2L755 713.6L756 714L757 714.4L758 714.8L759 715.2L760 715.5L761 715.9L762 716.2L763 716.5L764 716.8L765 717.1L766 717.3L767 717.6L768 717.8L769 718.1L770 718.3L771 718.5L772 718.7L773 718.9L774 719.1L775 719.3L776 719.5L777 719.6L778 719.8L779 719.9L780 720.1L781 720.2L782 720.4L783 720.5L784 720.6L785 720.7L786 720.9L787 721L788 721.1L789 721.2L790 721.3L791 721.5L792 721.6L793 721.7L794 721.8L795 721.9L796 722L797 722.1L798 722.2L799 722.4L800 722.5L801 722.6L802 722.7L803 722.8L804 723L805 723.1L806 723.2L807 723.4L808 723.5L809 723.6L810 723.8L811 723.9L812 724.1L813 724.2L814 724.4L815 724.5L816 724.7L817 724.8L818 725L819 725.2L820 725.4L821 725.5L822 725.7L823 725.9L824 726.1L825 726.3L826 726.5L827 726.7L828 726.8L829 727L830 727.2L831 727.4L832 727.7L833 727.9L834 728.1L835 728.3L836 728.5L837 728.7L838 728.9L839 729.1L840 729.3L841 729.6L842 729.8L843 730L844 730.2L845 730.4L846 730.7L847 730.9L848 731.1L849 731.3L850 731.6L851 731.8L852 732L853 732.2L854 732.5L855 732.7L856 732.9L857 733.1L858 733.4L859 733.6L860 733.8L861 734L862 734.3L863 734.5L864 734.7L865 735L866 735.2L867 735.4L868 735.7L869 735.9L870 736.1L871 736.4L872 736.6L873 736.9L874 737.1L875 737.4L876 737.6L877 737.9L878 738.1L879 738.4L880 738.7" fill="none" stroke="#a0a0a0" stroke-width="1.4" stroke-linejoin="round" stroke-linecap="butt"/>
<path d="M520 716L521 716L522 716L523 716L524 716L525 716L526 716L527 716L528 716L529 716L530 716L531 716L532 716L533 716L534 716L535 716L536 716L537 716L538 716L539 716L540 716L541 716L542 716L543 716L544 716L545 716L546 716L547 716L548 716L549 716L550 716L551 716L552 716L553 716L554 716L555 716L556 716L557 716L558 715.9L559 715.9L560 715.9L561 715.9L562 715.9L563 715.9L564 715.9L565 715.9L566 715.9L567 715.8L568 715.8L569 715.8L570 715.8L571 715.8L572 715.7L573 715.7L574 715.7L575 715.6L576 715.6L577 715.6L578 715.5L579 715.5L580 715.4L581 715.4L582 715.3L583 715.3L584 715.2L585 715.1L586 715L587 714.9L588 714.9L589 714.8L590 714.7L591 714.6L592 714.4L593 714.3L594 714.2L595 714.1L596 713.9L597 713.8L598 713.7L599 713.5L600 713.3L601 713.2L602 713L603 712.8L604 712.6L605 712.4L606 712.3L607 712.1L608 711.9L609 711.6L610 711.4L611 711.2L612 711L613 710.8L614 710.6L615 710.4L616 710.2L617 709.9L618 709.7L619 709.5L620 709.3L621 709.1L622 708.9L623 708.7L624 708.5L625 708.4L626 708.2L627 708L628 707.9L629 707.7L630 707.6L631 707.5L632 707.4L633 707.3L634 707.2L635 707.1L636 707.1L637 707L638 707L639 707L640 707L641 707L642 707L643 707.1L644 707.1L645 707.2L646 707.3L647 707.4L648 707.5L649 707.6L650 707.8L651 707.9L652 708.1L653 708.3L654 708.4L655 708.6L656 708.8L657 709L658 709.2L659 709.4L660 709.7L661 709.9L662 710.1L663 710.3L664 710.6L665 710.8L666 711L667 711.3L668 711.5L669 711.7L670 712L671 712.2L672 712.4L673 712.6L674 712.9L675 713.1L676 713.3L677 713.5L678 713.7L679 713.9L680 714.1L681 714.3L682 714.4L683 714.6L684 714.8L685 714.9L686 715.1L687 715.2L688 715.4L689 715.5L690 715.6L691 715.8L692 715.9L693 716L694 716.1L695 716.2L696 716.3L697 716.4L698 716.5L699 716.6L700 716.7L701 716.8L702 716.8L703 716.9L704 717L705 717.1L706 717.1L707 717.2L708 717.2L709 717.3L710 717.4L711 717.4L712 717.5L713 717.5L714 717.6L715 717.6L716 717.7L717 717.7L718 717.8L719 717.8L720 717.8L721 717.9L722 717.9L723 718L724 718L725 718.1L726 718.1L727 718.1L728 718.2L729 718.2L730 718.3L731 718.3L732 718.4L733 718.4L734 718.4L735 718.5L736 718.5L737 718.6L738 718.6L739 718.7L740 718.7L741 718.7L742 718.8L743 718.8L744 718.9L745 718.9L746 719L747 719L748 719.1L749 719.1L750 719.2L751 719.2L752 719.3L753 719.3L754 719.4L755 719.4L756 719.5L757 719.5L758 719.6L759 719.6L760 719.7L761 719.8L762 719.8L763 719.9L764 719.9L765 720L766 720L767 720.1L768 720.2L769 720.2L770 720.3L771 720.3L772 720.4L773 720.5L774 720.5L775 720.6L776 720.6L777 720.7L778 720.8L779 720.8L780 720.9L781 721L782 721L783 721.1L784 721.2L785 721.3L786 721.3L787 721.4L788 721.5L789 721.6L790 721.6L791 721.7L792 721.8L793 721.9L794 722L795 722.1" fill="none" stroke="#a0a0a0" stroke-width="1.4" stroke-linejoin="round" stroke-linecap="butt"/>
<path d="M143 699.2L145 697.7L147 702.8L149 697.2L151 702L153 700.4L155 697.5L157 702.2L159 697.6L161 701.7L163 698.2L165 698.6L167 702.1L169 706.2L171 699.3L173 700.4L175 704.5L177 707.8L179 704.2L181 702.5L183 708.4L185 699.2L187 707.4L189 701.8L191 700.4L193 700.3L195 702.3L197 707.5L199 701.2L201 705.4L203 706.1L205 703.5L207 705.4L209 700.7L211 700.8L213 702.4L215 707.3L217 704.9L219 703.9L221 706.8L223 705.6L225 704.2L227 709.3L229 708.5L231 704.1L233 707.5L235 707.2L237 710.8L239 709.5L241 705.2L243 712.3L245 703.8L247 707L249 710.5L251 704.6L253 708.1L255 703.8L257 710.2L259 711.3L261 709.5L263 712.7L265 707.2L267 711.2L269 710.3L271 710.3L273 709.3L275 713.2L277 714.4L279 709.9L281 711.9L283 706L285 712.6L287 712.2L289 715.8L291 714.2L293 709L295 710.1L297 713.1L299 706.8L301 711.3L303 708.5L305 708.1L307 707.7L309 714.9L311 708.7L313 710L315 711.6L317 716.5L319 708.7L321 712.6L323 713.7L325 717.2L327 716.7L329 717.3L331 711.5L333 713L335 712.6L337 718L339 718.9L341 710.9L343 711.3L345 712L347 712.1L349 714.8L351 716L353 712.8L355 710.4L357 714.7L359 714.3L361 716.4L363 720.4L365 718L367 716.4L369 717.5L371 718.3L373 712.2L375 720.8L377 719.7L379 720.8L381 720.1L383 716.2L385 716.4L387 713.5L389 719L391 713.3L393 713.5L395 715L397 714.5L399 716.4L401 713.5L403 713L405 714.6L407 714.1L409 716.7L411 713.3L413 721.8L415 719.2L417 714.5L419 715.5L421 716.4L423 716.6L425 714.1L427 721.3L429 722.7L431 717.4L433 717.5L435 713.4L437 713.5L439 715.9L441 716.2L443 718.9L445 715.5L447 714.7L449 719.3L451 717.1L453 715.1L455 717L457 714.3L459 716.8L461 718.9L463 718.3L465 717.3L467 715.1L469 715.5L471 714.4L473 717.3L475 716L477 717.1L479 714.8L481 714.1L483 716.9L485 717.7L487 716.9L489 716.5L491 716.4L493 715.8L495 713.1L497 714.4L499 713.4L501 711.5L503 711.3L505 712.3L507 711.9L509 713.8L511 714.8L513 712L515 714.1L517 713.9L519 713.4L521 710L523 708.9" fill="none" stroke="#000" stroke-width="10" stroke-linejoin="round" stroke-linecap="butt"/>
<path d="M485 712.4L486.5 710.6L488 715.6L489.5 714L491 716.1L492.5 715.4L494 714.6L495.5 709.3L497 709.1L498.5 713L500 712L501.5 715.2L503 711.2L504.5 707.9L506 714.4L507.5 714.6L509 712.1L510.5 710.6L512 713.4L513.5 709.8L515 711.5L516.5 711.9L518 708.1L519.5 706.7L521 707L522.5 704.8L524 709.5L525.5 707.9L527 708.4L528.5 708L530 708.9L531.5 704.8L533 706.3L534.5 708.5L536 708.7L537.5 706.8L539 708.1L540.5 707.7L542 703.3L543.5 706.9L545 704.2L546.5 704.7L548 704.1L549.5 703.9L551 703.2L552.5 704.4L554 703.1L555.5 701.5L557 698.8L558.5 703.1L560 698.7L561.5 699.3L563 697.3L564.5 701.2L566 702.3L567.5 702.5L569 695.4L570.5 701.1L572 702.9L573.5 702.2L575 696.4L576.5 699.8L578 697L579.5 694.7L581 695.3L582.5 700.3L584 699.4L585.5 701.9L587 700.3L588.5 699.7L590 693.9L591.5 696.4L593 699.4L594.5 699.2L596 693.2L597.5 698.1L599 699L600.5 698.9L602 700.8L603.5 699.7L605 700.3L606.5 693.1L608 699.5L609.5 694.3L611 698.4L612.5 699L614 696L615.5 696.2L617 695.2L618.5 693.4L620 694.4L621.5 695L623 695.4L624.5 693.5L626 698.8L627.5 699.4L629 693L630.5 696.3L632 698.1L633.5 696.7L635 692.2L636.5 694.6L638 696.2L639.5 694L641 691.2L642.5 693.1L644 689.9L645.5 695.3L647 694.2L648.5 690L650 689.6L651.5 687.1L653 693.2L654.5 692.1L656 688L657.5 687.3L659 692.8L660.5 689.8L662 685.7L663.5 684.4L665 685.2L666.5 683.6L668 686.9L669.5 685.1L671 682.8L672.5 682.8L674 683.3L675.5 677.1L677 683L678.5 680.9L680 679.4L681.5 674.7L683 676.2L684.5 677.8L686 674.6L687.5 674.8L689 672.5L690.5 670.2L692 667.4L693.5 670.2L695 669.3L696.5 667.7L698 662L699.5 664.7L701 664.7L702.5 658.6L704 660L705.5 656.2L707 655L708.5 657.8L710 657.7L711.5 656.6L713 654L714.5 651.6L716 648.1L717.5 647.7L719 648.6L720.5 645L722 648.2L723.5 646.8L725 645.9L726.5 645.5L728 638.4L729.5 644.3L731 642.3L732.5 640.4L734 634.3L735.5 634.7L737 633.8L738.5 637.1L740 630.4L741.5 635.8L743 627.9L744.5 631.3L746 629.2L747.5 629.2L749 625.5L750.5 622.2L752 621.3L753.5 625.3L755 618L756.5 623L758 620.5L759.5 620.9L761 618.1L762.5 616.6L764 609.9L765.5 608L767 609.1L768.5 610.8L770 605.3L771.5 608.3L773 603.7L774.5 604L776 600L777.5 593.1L779 595.5L780.5 590.7L782 588.7L783.5 583.3L785 580.9L786.5 581.4L788 576.9L789.5 568.8L791 568.9L792.5 558L794 558L795.5 543.5L797 540L798.5 530.4L800 522.6L801.5 514.4L803 510.2L804.5 503L806 495.4L807.5 489.4L809 481.3L810.5 478.4L812 463.9L813.5 460.4L815 449.9L816.5 443.8L818 434L819.5 420.7L821 410.5L822.5 407.6L824 400.3L825.5 390.5L827 387.2L828.5 377.3L830 369.7L831.5 362.2L833 363.4L834.5 357.8L836 353.5L837.5 345.1L839 339.6L840.5 341.3L842 335.3L843.5 330.7L845 333.2L846.5 330.9L848 327.7L849.5 326L851 319.4L852.5 321.1L854 316.5L855.5 314.5L857 313.3L858.5 310.9L860 309.7L861.5 307.1L863 305.8L864.5 302.2L866 294.4L867.5 294L869 284L870.5 283.3L872 276.7L873.5 265.5L875 262.8L876.5 260.3L878 259.3L879.5 249.9L881 246.7L882.5 237L884 226L885.5 226L887 216.2L888.5 211.5L890 205.4L891.5 193.6L893 184.2L894.5 178.7L896 169.4L897.5 158.4L899 146.2L900.5 133.8L902 130.7L903.5 113.8L905 112.2L906.5 111.4L908 99.7L909.5 100L911 98.5L912.5 98.4L914 93.6L915.5 101.6L917 103.4L918.5 111L920 109.6L921.5 123.9L923 134.8L924.5 149.6L926 165.8L927.5 176.3L929 207.6L930.5 238.8L932 261L933.5 285.6L935 296.6L936.5 305.5L938 323.7L939.5 351.3L941 389.5L942.5 403.9L944 416.6L945.5 439.2L947 460.4L948.5 488.5L950 508.3L951.5 529.1L953 551.3L954.5 567.3L956 578.5L957.5 595.8L959 607.1L960.5 619.8L962 630.3L963.5 641.5L965 653.9L966.5 668.6L968 684.9L969.5 691.8L971 696.8L972.5 708.7L974 714.1L975.5 724.9L977 730.9L978.5 735.6L980 738.5L981.5 742.5L983 740.4L984.5 742.8L986 745.4L987.5 749.6L989 749.7" fill="none" stroke="#000" stroke-width="1.2" stroke-linejoin="round" stroke-linecap="butt"/>
<path d="M524.7 710L528.3 709.2L532 708.5L535.7 707.8L539.4 707L543.1 706.2L546.7 705.3L550.2 704.6L553.6 703.8L556.9 703.1L560 702.5L562.9 702L565.6 701.5L568 701.1L570.4 700.7L572.8 700.3L575.4 700L578 699.8L581 699.5L584.3 699.3L587.9 699.1L591.6 699L595.4 698.8L599.3 698.8L603.1 698.7L606.7 698.6L610 698.5L613.1 698.4L616.1 698.4L619 698.4L621.8 698.4L624.5 698.4L627.1 698.4L629.6 698.2L632 698L634.3 697.7L636.5 697.3L638.5 696.8L640.5 696.3L642.4 695.7L644.3 695.2L646.2 694.6L648 694L649.7 693.5L651.2 693.1L652.6 692.6L654 692.2L655.4 691.7L657.1 691L659.1 690.1L661.5 689L664.5 687.6L668 685.8L671.9 683.8L676 681.7L680 679.6L683.8 677.5L687.2 675.6L690 674L692.1 672.7L693.6 671.6L694.7 670.6L695.5 669.8L696.3 668.9L697.2 668L698.4 666.8L700 665.5L702 663.9L704.3 662.1L706.7 660.2L709.3 658.2L711.9 656.2L714.6 654.1L717.3 652.1L719.8 650.2L722.3 648.4L724.9 646.5L727.5 644.7L730.1 642.8L732.6 641L735.1 639.3L737.4 637.6L739.6 636L741.6 634.5L743.4 633.1L745.2 631.8L746.8 630.6L748.4 629.3L750 628L751.7 626.6L753.5 625L755.4 623.3L757.5 621.4L759.6 619.5L761.7 617.5L763.8 615.4L765.8 613.4L767.7 611.4L769.4 609.5L770.9 607.6L772.3 605.8L773.6 604.1L774.8 602.3L776 600.5L777.1 598.7L778.2 596.9L779.3 595L780.4 593.1L781.5 591.2L782.5 589.2L783.5 587.2L784.5 585.2L785.4 583.2L786.3 581.1L787.2 579L788.1 576.9L788.9 574.7L789.7 572.5L790.5 570.3L791.2 568.1L791.9 565.8L792.6 563.4L793.2 561L793.8 558.6L794.3 556.2L794.7 553.7L795.2 551.2L795.6 548.7L796 546L796.5 543.1L797.1 540L797.8 536.6L798.5 532.9L799.2 529L800 524.9L800.8 520.9L801.6 517L802.3 513.3L803 510L803.6 507L804.3 504.1L804.9 501.3L805.5 498.8L806 496.3L806.5 494.1L807 492L807.5 490L807.9 488.3L808.3 486.9L808.6 485.7L808.9 484.7L809.2 483.7L809.5 482.6L809.8 481.4L810.1 480L810.4 478.4L810.7 476.7L811 474.9L811.2 473L811.5 471.1L811.8 469.1L812.1 467.1L812.5 465L812.9 462.9L813.3 460.7L813.8 458.5L814.3 456.2L814.8 453.9L815.3 451.6L815.7 449.3L816.1 447L816.4 444.7L816.8 442.5L817.1 440.2L817.3 437.9L817.6 435.6L817.8 433.4L818.1 431.2L818.4 429.1L818.7 427L819 425L819.2 423.1L819.5 421.1L819.8 419.2L820.1 417.3L820.4 415.5L820.8 413.6L821.2 411.8L821.6 410L822.1 408.3L822.5 406.6L823 404.9L823.5 403.1L823.9 401.3L824.4 399.3L824.9 397.2L825.3 395L825.8 392.7L826.2 390.4L826.6 388.1L827.1 385.8L827.5 383.5L828 381.4L828.4 379.3L828.9 377.3L829.3 375.3L829.7 373.3L830.2 371.4L830.6 369.5L831.1 367.7L831.6 365.9L832.1 364.2L832.7 362.7L833.3 361.2L833.9 359.8L834.5 358.4L835.1 357L835.7 355.5L836.3 353.9L836.9 352.2L837.4 350.4L838 348.6L838.5 346.7L839.1 344.9L839.7 343.1L840.4 341.3L841.1 339.6L841.9 338L842.7 336.5L843.6 335L844.6 333.6L845.5 332.1L846.5 330.7L847.4 329.2L848.3 327.7L849.2 326.1L850.1 324.4L851 322.7L851.9 320.9L852.7 319.2L853.6 317.6L854.5 316L855.4 314.6L856.3 313.3L857.3 312.3L858.2 311.3L859.1 310.3L860.1 309.4L861 308.4L861.8 307.4L862.6 306.2L863.3 304.9L864 303.4L864.6 301.9L865.2 300.4L865.8 298.8L866.3 297.2L866.8 295.7L867.3 294.3L867.8 292.9L868.2 291.6L868.7 290.3L869.1 289L869.4 287.8L869.8 286.5L870.2 285.3L870.5 284L870.8 282.8L871.1 281.6L871.3 280.4L871.5 279.2L871.7 278L872 276.7L872.3 275.5L872.6 274.1L873 272.7L873.4 271.2L873.8 269.6L874.3 268L874.8 266.4L875.3 264.8L875.8 263.2L876.3 261.6L876.8 260.1L877.4 258.6L877.9 257.2L878.5 255.7L879 254.2L879.6 252.6L880.1 250.9L880.7 249L881.2 247L881.8 244.9L882.3 242.7L882.9 240.4L883.4 238L884 235.6L884.5 233L885.1 230.3L885.7 227.4L886.4 224.3L887 221.1L887.7 217.8L888.3 214.4L889 211.2L889.6 208.1L890.1 205.2L890.6 202.5L891 200.1L891.4 197.7L891.8 195.4L892.1 193.2L892.5 190.9L892.8 188.7L893.2 186.4L893.6 184.1L894 181.7L894.4 179.4L894.8 177.1L895.2 174.7L895.6 172.4L895.9 170L896.3 167.7L896.6 165.4L897 163L897.3 160.7L897.6 158.3L897.9 156L898.2 153.6L898.6 151.3L898.9 148.9L899.3 146.6L899.6 144.2L900 141.8L900.3 139.5L900.7 137.2L901.1 134.8L901.5 132.5L902 130.1L902.5 127.7L903 125.2L903.6 122.7L904.2 120.2L904.8 117.7L905.4 115.4L905.9 113.2L906.4 111.3L906.8 109.6L907.3 108L907.7 106.5L908 105.2L908.4 104L908.8 102.9L909.1 101.9L909.5 101L909.9 100.2L910.3 99.4L910.6 98.7L911 98.2L911.4 97.8L911.8 97.5L912.2 97.4L912.6 97.5L913 97.7L913.5 98.1L913.9 98.6L914.4 99.3L914.9 100.1L915.3 101.2L915.9 102.5L916.4 104L917 105.8L917.6 108L918.3 110.5L919 113.1L919.7 115.9L920.3 118.6L920.9 121.3L921.4 123.8L921.8 126.2L922.2 128.4L922.5 130.6L922.8 132.9L923.1 135.1L923.4 137.5L923.6 140L923.9 142.6L924.2 145.4L924.4 148.4L924.6 151.6L924.9 154.8L925.1 158L925.3 161.3L925.5 164.5L925.8 167.7L926.1 170.8L926.4 174L926.8 177.1L927.1 180.2L927.4 183.3L927.8 186.5L928 189.6L928.3 192.7L928.5 195.7L928.7 198.7L928.8 201.5L928.9 204.4L929.1 207.4L929.2 210.6L929.3 214L929.5 217.7L929.7 221.8L929.9 226.3L930.1 231L930.4 235.9L930.6 240.9L930.9 245.8L931.1 250.7L931.4 255.3L931.7 259.9L932 264.6L932.3 269.4L932.6 274.1L932.9 278.6L933.3 282.8L933.6 286.6L933.9 290L934.2 292.8L934.6 295L934.9 296.7L935.2 298.2L935.6 299.7L935.9 301.2L936.2 302.9L936.5 305L936.8 307.5L937 310.1L937.3 312.9L937.5 315.8L937.7 318.8L937.9 321.8L938.1 324.8L938.3 327.7L938.5 330.6L938.7 333.6L938.8 336.6L939 339.6L939.1 342.6L939.3 345.6L939.4 348.6L939.5 351.6L939.6 354.6L939.7 357.6L939.7 360.5L939.8 363.5L939.8 366.5L939.9 369.4L940 372.4L940.1 375.4L940.3 378.4L940.5 381.4L940.7 384.4L940.9 387.4L941.1 390.3L941.4 393.3L941.6 396.3L941.9 399.3L942.2 402.3L942.5 405.3L942.8 408.2L943.1 411.2L943.4 414.2L943.7 417.1L944 420.1L944.3 423.1L944.5 426L944.8 428.9L945 431.7L945.2 434.5L945.4 437.4L945.6 440.4L945.8 443.6L946 447L946.2 450.7L946.4 454.7L946.7 458.9L946.9 463.1L947.1 467.5L947.3 471.8L947.6 476L947.8 480L948 483.9L948.3 487.7L948.5 491.5L948.8 495.2L949.1 498.9L949.3 502.5L949.6 506L949.8 509.5L950 512.9L950.2 516.2L950.4 519.4L950.6 522.5L950.8 525.6L951 528.8L951.3 531.9L951.5 535L951.8 538.1L952 541.3L952.3 544.4L952.6 547.5L952.9 550.6L953.2 553.7L953.5 556.8L953.8 560L954.1 563.2L954.4 566.5L954.7 569.7L955 573L955.4 576.3L955.7 579.6L956 582.9L956.4 586.2L956.8 589.5L957.2 592.8L957.6 596.1L958 599.4L958.4 602.6L958.9 605.9L959.3 609.2L959.7 612.5L960.1 615.8L960.5 619.1L961 622.3L961.4 625.6L961.8 628.9L962.2 632.1L962.6 635.4L963 638.7L963.4 642L963.7 645.3L964 648.6L964.3 651.9L964.6 655.1L964.9 658.4L965.2 661.7L965.6 665L966 668.3L966.4 671.7L966.8 675.1L967.2 678.5L967.6 681.9L968 685.1L968.5 688.2L968.9 691.2L969.4 694L969.8 696.6L970.3 699.2L970.8 701.6L971.4 704L971.9 706.3L972.3 708.6L972.8 710.9L973.2 713.2L973.6 715.5L974 717.7L974.4 719.9L974.7 722L975.1 724.1L975.6 726.1L976.1 728L976.6 729.9L977.2 731.6L977.8 733.4L978.5 735L979.1 736.6L979.9 738.2L980.6 739.7L981.4 741.1L982.2 742.4L983.1 743.7L984 744.9L984.9 746L985.9 747.1L986.9 748.2L988 749.2L989.2 750.3L990.5 751.4L991.8 752.5L993.3 753.5L994.8 754.6L996.3 755.6L997.9 756.5L999.4 757.3L1001 758.1L1002.5 758.8L1003.9 759.3L1005.3 759.8L1006.7 760.3L1008.3 760.7L1010 761L1011.9 761.3L1014.2 761.5L1016.8 761.7L1019.5 761.7L1022.5 761.7L1025.7 761.7L1029 761.6L1032.6 761.6L1036.2 761.5L1040 761.5L1044.2 761.5L1049.1 761.5L1054.3 761.5L1059.5 761.5L1064.6 761.5L1069.1 761.5L1073 761.5L1075.8 761.5" fill="none" stroke="#000" stroke-width="6.8" stroke-linejoin="round" stroke-linecap="butt"/>
<text x="740" y="237" font-size="80" font-weight="normal" font-style="italic" fill="#000">C</text>
<text x="660" y="331" font-size="80" font-weight="normal" font-style="italic" fill="#000">C′</text>
<text x="592" y="422" font-size="80" font-weight="normal" font-style="italic" fill="#000">D</text>
<text x="1109" y="237" font-size="80" font-weight="normal" font-style="italic" fill="#000" textLength="94" lengthAdjust="spacing">Ph</text>
<text x="1110" y="331" font-size="80" font-weight="normal" font-style="italic" fill="#000">A</text>
<text x="1108" y="424" font-size="80" font-weight="normal" font-style="italic" fill="#000">B</text>
<text x="67.5" y="514" font-size="79" font-weight="normal" font-style="italic" fill="#a0a0a0" textLength="509" lengthAdjust="spacing">Shake-up peaks</text>
<path d="M779.5 250.8L830.6 299.8L830.6 516" fill="none" stroke="#000" stroke-width="1.5" stroke-linejoin="round" stroke-linecap="butt"/>
<path d="M692 346L692 460L831 597.5L831 693.8" fill="none" stroke="#000" stroke-width="1.5" stroke-linejoin="round" stroke-linecap="butt"/>
<path d="M618.7 438.8L618.7 550.6L743 673.5" fill="none" stroke="#000" stroke-width="1.5" stroke-linejoin="round" stroke-linecap="butt"/>
<path d="M1110.9 218.1L924.8 399" fill="none" stroke="#000" stroke-width="1.5" stroke-linejoin="round" stroke-linecap="butt"/>
<path d="M1108 315L913 505" fill="none" stroke="#000" stroke-width="1.5" stroke-linejoin="round" stroke-linecap="butt"/>
<path d="M1110 409.5L874.4 637.3" fill="none" stroke="#000" stroke-width="1.5" stroke-linejoin="round" stroke-linecap="butt"/>
<path d="M327 697L327 591.5L650.5 591.5" fill="none" stroke="#000" stroke-width="1.5" stroke-linejoin="round" stroke-linecap="butt"/>
<path d="M668 591.5L760.4 591.5L760.4 603.5" fill="none" stroke="#000" stroke-width="1.5" stroke-linejoin="round" stroke-linecap="butt"/>
<path d="M538.5 533L538.5 591.5" fill="none" stroke="#000" stroke-width="1.5" stroke-linejoin="round" stroke-linecap="butt"/>
<path d="M520 1394L521 1394L522 1394L523 1394L524 1394L525 1394L526 1394L527 1394L528 1394L529 1394L530 1394L531 1394L532 1394L533 1394L534 1394L535 1394L536 1394L537 1394L538 1394L539 1394L540 1394L541 1394L542 1394L543 1394L544 1394L545 1394L546 1394L547 1394L548 1394L549 1394L550 1394L551 1394L552 1394L553 1394L554 1394L555 1394L556 1394L557 1394L558 1394L559 1394L560 1394L561 1394L562 1394L563 1394L564 1394L565 1394L566 1394L567 1394L568 1394L569 1394L570 1394L571 1394L572 1394L573 1394L574 1394L575 1394L576 1394L577 1394L578 1394L579 1394L580 1394L581 1394L582 1394L583 1394L584 1394L585 1394L586 1394L587 1394L588 1394L589 1394L590 1394L591 1394L592 1394L593 1394L594 1394L595 1394L596 1394L597 1394L598 1394L599 1394L600 1394L601 1394L602 1394L603 1394L604 1394L605 1394L606 1394L607 1394L608 1394L609 1394L610 1394L611 1394L612 1394L613 1394L614 1394L615 1394L616 1394L617 1394L618 1394L619 1394L620 1394L621 1394L622 1394L623 1394L624 1394L625 1394L626 1394L627 1394L628 1394L629 1394L630 1394L631 1394L632 1394L633 1394L634 1394L635 1394L636 1394L637 1394L638 1394L639 1394L640 1394.1L641 1394.1L642 1394.1L643 1394.1L644 1394.1L645 1394.1L646 1394.1L647 1394.1L648 1394.1L649 1394.1L650 1394.1L651 1394.1L652 1394.1L653 1394.1L654 1394.1L655 1394.1L656 1394.1L657 1394.1L658 1394.1L659 1394.1L660 1394.2L661 1394.2L662 1394.2L663 1394.2L664 1394.2L665 1394.2L666 1394.2L667 1394.2L668 1394.2L669 1394.2L670 1394.2L671 1394.2L672 1394.2L673 1394.3L674 1394.3L675 1394.3L676 1394.3L677 1394.3L678 1394.3L679 1394.3L680 1394.3L681 1394.3L682 1394.3L683 1394.4L684 1394.4L685 1394.4L686 1394.4L687 1394.4L688 1394.4L689 1394.4L690 1394.4L691 1394.4L692 1394.5L693 1394.5L694 1394.5L695 1394.5L696 1394.5L697 1394.5L698 1394.5L699 1394.6L700 1394.6L701 1394.6L702 1394.6L703 1394.6L704 1394.6L705 1394.6L706 1394.7L707 1394.7L708 1394.7L709 1394.7L710 1394.7L711 1394.7L712 1394.8L713 1394.8L714 1394.8L715 1394.8L716 1394.9L717 1394.9L718 1394.9L719 1394.9L720 1394.9L721 1395L722 1395L723 1395L724 1395L725 1395.1L726 1395.1L727 1395.1L728 1395.1L729 1395.2L730 1395.2L731 1395.2L732 1395.3L733 1395.3L734 1395.3L735 1395.3L736 1395.4L737 1395.4L738 1395.4L739 1395.5L740 1395.5L741 1395.5L742 1395.6L743 1395.6L744 1395.6L745 1395.7L746 1395.7L747 1395.7L748 1395.8L749 1395.8L750 1395.9L751 1395.9L752 1395.9L753 1396L754 1396L755 1396L756 1396.1L757 1396.1L758 1396.2L759 1396.2L760 1396.2L761 1396.3L762 1396.3L763 1396.3L764 1396.4L765 1396.4L766 1396.5L767 1396.5L768 1396.5L769 1396.6L770 1396.6L771 1396.7L772 1396.7L773 1396.8L774 1396.8L775 1396.8L776 1396.9L777 1396.9L778 1397L779 1397L780 1397.1L781 1397.1L782 1397.1L783 1397.2L784 1397.2L785 1397.3L786 1397.3L787 1397.4L788 1397.5L789 1397.5L790 1397.6L791 1397.6L792 1397.7L793 1397.7L794 1397.8L795 1397.9L796 1397.9L797 1398L798 1398.1L799 1398.1L800 1398.2L801 1398.3L802 1398.4L803 1398.5L804 1398.6L805 1398.6L806 1398.7L807 1398.8L808 1398.9L809 1399L810 1399.1L811 1399.3L812 1399.4L813 1399.5L814 1399.6L815 1399.7L816 1399.8L817 1400L818 1400.1L819 1400.2L820 1400.4L821 1400.5L822 1400.7L823 1400.8L824 1401L825 1401.1L826 1401.3L827 1401.5L828 1401.6L829 1401.8L830 1402L831 1402.1L832 1402.3L833 1402.5L834 1402.7L835 1402.8L836 1403L837 1403.2L838 1403.4L839 1403.6L840 1403.8L841 1404L842 1404.2L843 1404.4L844 1404.6L845 1404.8L846 1405L847 1405.2L848 1405.4L849 1405.6L850 1405.8L851 1406.1L852 1406.3L853 1406.5L854 1406.7L855 1406.9L856 1407.2L857 1407.4L858 1407.6L859 1407.9L860 1408.1L861 1408.3L862 1408.6L863 1408.8L864 1409.1L865 1409.3L866 1409.6L867 1409.8L868 1410.1L869 1410.4L870 1410.6L871 1410.9L872 1411.2L873 1411.5L874 1411.7L875 1412L876 1412.3L877 1412.6L878 1412.9L879 1413.2L880 1413.6L881 1413.9L882 1414.2L883 1414.5L884 1414.8L885 1415.2L886 1415.5L887 1415.9L888 1416.2L889 1416.6L890 1416.9L891 1417.3L892 1417.6L893 1418L894 1418.3L895 1418.7L896 1419.1L897 1419.4L898 1419.8L899 1420.2L900 1420.6L901 1420.9L902 1421.3L903 1421.7L904 1422.1L905 1422.5L906 1422.8L907 1423.2L908 1423.6L909 1424L910 1424.3L911 1424.7L912 1425.1L913 1425.4L914 1425.8L915 1426.2L916 1426.5L917 1426.9L918 1427.2L919 1427.6L920 1427.9L921 1428.2L922 1428.6L923 1428.9L924 1429.2L925 1429.5L926 1429.8L927 1430.1L928 1430.4L929 1430.7L930 1431L931 1431.2L932 1431.5L933 1431.8L934 1432L935 1432.2L936 1432.5L937 1432.7L938 1432.9L939 1433.1L940 1433.3L941 1433.5L942 1433.7L943 1433.8L944 1434L945 1434.2L946 1434.3L947 1434.4L948 1434.6L949 1434.7L950 1434.8L951 1434.9L952 1435L953 1435.1L954 1435.2L955 1435.3L956 1435.4L957 1435.5L958 1435.5L959 1435.6L960 1435.6L961 1435.7L962 1435.7L963 1435.8L964 1435.8L965 1435.9L966 1435.9L967 1435.9L968 1436L969 1436L970 1436L971 1436L972 1436.1L973 1436.1L974 1436.1L975 1436.1L976 1436.1L977 1436.1L978 1436.1L979 1436.1L980 1436.1L981 1436.2L982 1436.2L983 1436.2L984 1436.2L985 1436.2L986 1436.2L987 1436.2L988 1436.2L989 1436.2L990 1436.2L991 1436.2L992 1436.2L993 1436.2L994 1436.2L995 1436.2L996 1436.2L997 1436.2L998 1436.2L999 1436.2L1000 1436.2L1001 1436.2L1002 1436.2L1003 1436.2L1004 1436.2L1005 1436.2L1006 1436.2L1007 1436.2L1008 1436.2L1009 1436.2L1010 1436.2L1011 1436.2L1012 1436.2L1013 1436.2L1014 1436.2L1015 1436.2L1016 1436.2L1017 1436.2L1018 1436.2L1019 1436.2L1020 1436.2L1021 1436.2L1022 1436.2L1023 1436.2L1024 1436.2L1025 1436.2L1026 1436.2L1027 1436.2L1028 1436.2L1029 1436.2L1030 1436.2L1031 1436.2L1032 1436.2L1033 1436.2L1034 1436.2L1035 1436.2L1036 1436.2L1037 1436.2L1038 1436.2L1039 1436.2L1040 1436.2L1041 1436.2L1042 1436.2L1043 1436.2L1044 1436.2L1045 1436.2L1046 1436.2L1047 1436.2L1048 1436.2L1049 1436.2L1050 1436.2L1051 1436.2L1052 1436.2L1053 1436.2L1054 1436.2L1055 1436.2L1056 1436.2L1057 1436.2L1058 1436.2L1059 1436.2L1060 1436.2L1061 1436.2L1062 1436.2L1063 1436.2L1064 1436.2L1065 1436.2L1066 1436.2L1067 1436.2L1068 1436.2L1069 1436.2L1070 1436.2L1071 1436.2L1072 1436.2L1073 1436.2L1074 1436.2L1075 1436.2" fill="none" stroke="#000" stroke-width="1.4" stroke-linejoin="round" stroke-linecap="butt"/>
<path d="M790 1397.6L791 1397.6L792 1397.7L793 1397.7L794 1397.8L795 1397.9L796 1397.9L797 1398L798 1398.1L799 1398.1L800 1398.2L801 1398.3L802 1398.4L803 1398.5L804 1398.6L805 1398.6L806 1398.7L807 1398.8L808 1398.9L809 1399L810 1399.1L811 1399.3L812 1399.4L813 1399.5L814 1399.6L815 1399.7L816 1399.8L817 1400L818 1400.1L819 1400.2L820 1400.4L821 1400.5L822 1400.7L823 1400.8L824 1401L825 1401.1L826 1401.3L827 1401.4L828 1401.6L829 1401.7L830 1401.9L831 1402.1L832 1402.2L833 1402.4L834 1402.6L835 1402.7L836 1402.9L837 1403L838 1403.2L839 1403.3L840 1403.5L841 1403.6L842 1403.8L843 1403.9L844 1404L845 1404.1L846 1404.2L847 1404.2L848 1404.3L849 1404.3L850 1404.3L851 1404.2L852 1404.1L853 1404L854 1403.9L855 1403.6L856 1403.4L857 1403L858 1402.6L859 1402.1L860 1401.5L861 1400.8L862 1400L863 1399.1L864 1398.1L865 1396.9L866 1395.6L867 1394.1L868 1392.4L869 1390.5L870 1388.4L871 1386.1L872 1383.5L873 1380.7L874 1377.6L875 1374.3L876 1370.6L877 1366.6L878 1362.3L879 1357.7L880 1352.7L881 1347.4L882 1341.7L883 1335.6L884 1329.1L885 1322.3L886 1315.1L887 1307.5L888 1299.5L889 1291.2L890 1282.5L891 1273.4L892 1264L893 1254.4L894 1244.4L895 1234.2L896 1223.8L897 1213.1L898 1202.3L899 1191.4L900 1180.5L901 1169.5L902 1158.5L903 1147.6L904 1136.8L905 1126.2L906 1115.9L907 1105.8L908 1096.1L909 1086.8L910 1077.9L911 1069.5L912 1061.7L913 1054.4L914 1047.9L915 1042L916 1036.8L917 1032.4L918 1028.8L919 1025.9L920 1024L921 1022.8L922 1022.6L923 1023.1L924 1024.6L925 1026.9L926 1030L927 1033.9L928 1038.7L929 1044.2L930 1050.4L931 1057.4L932 1065L933 1073.2L934 1082L935 1091.3L936 1101L937 1111.2L938 1121.7L939 1132.6L940 1143.7L941 1154.9L942 1166.3L943 1177.8L944 1189.4L945 1200.9L946 1212.3L947 1223.7L948 1234.9L949 1245.9L950 1256.7L951 1267.2L952 1277.5L953 1287.4L954 1297.1L955 1306.3L956 1315.2L957 1323.8L958 1332L959 1339.7L960 1347.1L961 1354.1L962 1360.7L963 1366.9L964 1372.8L965 1378.3L966 1383.4L967 1388.1L968 1392.6L969 1396.7L970 1400.5L971 1404L972 1407.2L973 1410.1L974 1412.8L975 1415.3L976 1417.5L977 1419.6L978 1421.4L979 1423.1L980 1424.6L981 1426L982 1427.2L983 1428.3L984 1429.2L985 1430.1L986 1430.9L987 1431.6L988 1432.2L989 1432.7L990 1433.2L991 1433.6L992 1433.9L993 1434.3L994 1434.5L995 1434.8L996 1435L997 1435.2L998 1435.3L999 1435.4L1000 1435.6L1001 1435.7L1002 1435.7L1003 1435.8L1004 1435.9L1005 1435.9L1006 1436L1007 1436L1008 1436L1009 1436.1L1010 1436.1L1011 1436.1L1012 1436.1L1013 1436.1L1014 1436.1L1015 1436.2L1016 1436.2L1017 1436.2L1018 1436.2L1019 1436.2L1020 1436.2L1021 1436.2L1022 1436.2L1023 1436.2L1024 1436.2L1025 1436.2L1026 1436.2L1027 1436.2L1028 1436.2L1029 1436.2L1030 1436.2L1031 1436.2L1032 1436.2L1033 1436.2L1034 1436.2L1035 1436.2L1036 1436.2L1037 1436.2L1038 1436.2L1039 1436.2L1040 1436.2L1041 1436.2L1042 1436.2L1043 1436.2L1044 1436.2L1045 1436.2L1046 1436.2L1047 1436.2L1048 1436.2L1049 1436.2L1050 1436.2L1051 1436.2L1052 1436.2L1053 1436.2L1054 1436.2" fill="none" stroke="#000" stroke-width="1.4" stroke-linejoin="round" stroke-linecap="butt"/>
<path d="M763 1396.3L764 1396.4L765 1396.4L766 1396.5L767 1396.5L768 1396.5L769 1396.6L770 1396.6L771 1396.7L772 1396.7L773 1396.8L774 1396.8L775 1396.8L776 1396.9L777 1396.9L778 1397L779 1397L780 1397.1L781 1397.1L782 1397.1L783 1397.2L784 1397.2L785 1397.3L786 1397.3L787 1397.4L788 1397.4L789 1397.5L790 1397.6L791 1397.6L792 1397.7L793 1397.7L794 1397.8L795 1397.9L796 1397.9L797 1398L798 1398.1L799 1398.1L800 1398.2L801 1398.3L802 1398.3L803 1398.4L804 1398.5L805 1398.6L806 1398.7L807 1398.7L808 1398.8L809 1398.9L810 1399L811 1399L812 1399.1L813 1399.2L814 1399.2L815 1399.3L816 1399.3L817 1399.3L818 1399.4L819 1399.4L820 1399.4L821 1399.3L822 1399.3L823 1399.2L824 1399.1L825 1398.9L826 1398.7L827 1398.5L828 1398.2L829 1397.8L830 1397.4L831 1396.9L832 1396.3L833 1395.6L834 1394.8L835 1394L836 1393L837 1391.8L838 1390.5L839 1389.1L840 1387.5L841 1385.7L842 1383.7L843 1381.5L844 1379L845 1376.4L846 1373.5L847 1370.3L848 1366.9L849 1363.1L850 1359.1L851 1354.8L852 1350.1L853 1345.1L854 1339.8L855 1334.2L856 1328.2L857 1321.9L858 1315.2L859 1308.2L860 1300.9L861 1293.3L862 1285.4L863 1277.2L864 1268.7L865 1260L866 1251.1L867 1242L868 1232.7L869 1223.3L870 1213.9L871 1204.3L872 1194.8L873 1185.3L874 1175.9L875 1166.7L876 1157.6L877 1148.8L878 1140.2L879 1132L880 1124.1L881 1116.7L882 1109.7L883 1103.3L884 1097.4L885 1092.1L886 1087.5L887 1083.5L888 1080.2L889 1077.7L890 1075.8L891 1074.7L892 1074.4L893 1074.9L894 1076.1L895 1078L896 1080.7L897 1084.1L898 1088.3L899 1093.1L900 1098.6L901 1104.7L902 1111.4L903 1118.7L904 1126.4L905 1134.6L906 1143.2L907 1152.2L908 1161.5L909 1171.1L910 1180.9L911 1190.8L912 1200.9L913 1211L914 1221.2L915 1231.3L916 1241.4L917 1251.4L918 1261.3L919 1270.9L920 1280.4L921 1289.7L922 1298.7L923 1307.4L924 1315.8L925 1323.9L926 1331.7L927 1339.1L928 1346.2L929 1353L930 1359.4L931 1365.5L932 1371.2L933 1376.6L934 1381.6L935 1386.4L936 1390.8L937 1394.9L938 1398.7L939 1402.2L940 1405.5L941 1408.5L942 1411.2L943 1413.8L944 1416.1L945 1418.2L946 1420.1L947 1421.9L948 1423.4L949 1424.9L950 1426.2L951 1427.3L952 1428.4L953 1429.3L954 1430.1L955 1430.9L956 1431.5L957 1432.1L958 1432.6L959 1433.1L960 1433.5L961 1433.8L962 1434.1L963 1434.4L964 1434.7L965 1434.9L966 1435.1L967 1435.2L968 1435.4L969 1435.5L970 1435.6L971 1435.7L972 1435.7L973 1435.8L974 1435.9L975 1435.9L976 1436L977 1436L978 1436L979 1436.1L980 1436.1L981 1436.1L982 1436.1L983 1436.1L984 1436.1L985 1436.1L986 1436.2L987 1436.2L988 1436.2L989 1436.2L990 1436.2L991 1436.2L992 1436.2L993 1436.2L994 1436.2L995 1436.2L996 1436.2L997 1436.2L998 1436.2L999 1436.2L1000 1436.2L1001 1436.2L1002 1436.2L1003 1436.2L1004 1436.2L1005 1436.2L1006 1436.2L1007 1436.2L1008 1436.2L1009 1436.2L1010 1436.2L1011 1436.2L1012 1436.2L1013 1436.2L1014 1436.2L1015 1436.2L1016 1436.2L1017 1436.2L1018 1436.2L1019 1436.2L1020 1436.2L1021 1436.2L1022 1436.2" fill="none" stroke="#000" stroke-width="1.4" stroke-linejoin="round" stroke-linecap="butt"/>
<path d="M709 1394.7L710 1394.7L711 1394.7L712 1394.8L713 1394.8L714 1394.8L715 1394.8L716 1394.9L717 1394.9L718 1394.9L719 1394.9L720 1394.9L721 1395L722 1395L723 1395L724 1395L725 1395.1L726 1395.1L727 1395.1L728 1395.1L729 1395.2L730 1395.2L731 1395.2L732 1395.3L733 1395.3L734 1395.3L735 1395.3L736 1395.4L737 1395.4L738 1395.4L739 1395.5L740 1395.5L741 1395.5L742 1395.6L743 1395.6L744 1395.6L745 1395.7L746 1395.7L747 1395.7L748 1395.8L749 1395.8L750 1395.8L751 1395.9L752 1395.9L753 1396L754 1396L755 1396L756 1396.1L757 1396.1L758 1396.1L759 1396.2L760 1396.2L761 1396.2L762 1396.2L763 1396.3L764 1396.3L765 1396.3L766 1396.4L767 1396.4L768 1396.4L769 1396.4L770 1396.4L771 1396.4L772 1396.4L773 1396.4L774 1396.4L775 1396.4L776 1396.4L777 1396.4L778 1396.3L779 1396.3L780 1396.2L781 1396.2L782 1396.1L783 1396L784 1395.9L785 1395.8L786 1395.6L787 1395.5L788 1395.3L789 1395.1L790 1394.8L791 1394.5L792 1394.2L793 1393.9L794 1393.5L795 1393.1L796 1392.6L797 1392.1L798 1391.5L799 1390.9L800 1390.2L801 1389.4L802 1388.6L803 1387.7L804 1386.8L805 1385.7L806 1384.6L807 1383.4L808 1382L809 1380.6L810 1379.1L811 1377.5L812 1375.7L813 1373.9L814 1371.9L815 1369.8L816 1367.6L817 1365.2L818 1362.7L819 1360.1L820 1357.4L821 1354.5L822 1351.5L823 1348.4L824 1345.1L825 1341.7L826 1338.2L827 1334.6L828 1330.8L829 1326.9L830 1323L831 1318.9L832 1314.7L833 1310.5L834 1306.1L835 1301.8L836 1297.3L837 1292.9L838 1288.4L839 1283.9L840 1279.3L841 1274.9L842 1270.4L843 1266L844 1261.6L845 1257.4L846 1253.2L847 1249.1L848 1245.2L849 1241.4L850 1237.8L851 1234.3L852 1231.1L853 1228L854 1225.2L855 1222.6L856 1220.3L857 1218.2L858 1216.4L859 1214.8L860 1213.6L861 1212.6L862 1211.9L863 1211.6L864 1211.5L865 1211.8L866 1212.3L867 1213.2L868 1214.4L869 1215.8L870 1217.6L871 1219.6L872 1222L873 1224.6L874 1227.4L875 1230.5L876 1233.9L877 1237.4L878 1241.2L879 1245.2L880 1249.3L881 1253.7L882 1258.1L883 1262.7L884 1267.4L885 1272.2L886 1277.1L887 1282.1L888 1287.1L889 1292.1L890 1297.2L891 1302.2L892 1307.3L893 1312.3L894 1317.3L895 1322.2L896 1327.1L897 1331.9L898 1336.6L899 1341.2L900 1345.7L901 1350.1L902 1354.4L903 1358.6L904 1362.7L905 1366.6L906 1370.4L907 1374L908 1377.6L909 1381L910 1384.2L911 1387.3L912 1390.3L913 1393.1L914 1395.9L915 1398.4L916 1400.9L917 1403.2L918 1405.4L919 1407.5L920 1409.5L921 1411.3L922 1413.1L923 1414.7L924 1416.3L925 1417.7L926 1419.1L927 1420.4L928 1421.6L929 1422.7L930 1423.7L931 1424.7L932 1425.6L933 1426.4L934 1427.2L935 1427.9L936 1428.6L937 1429.2L938 1429.8L939 1430.4L940 1430.9L941 1431.3L942 1431.7L943 1432.1L944 1432.5L945 1432.8L946 1433.1L947 1433.4L948 1433.7L949 1433.9L950 1434.1L951 1434.3L952 1434.5L953 1434.7L954 1434.8L955 1434.9L956 1435.1L957 1435.2L958 1435.3L959 1435.4L960 1435.5L961 1435.5L962 1435.6L963 1435.7L964 1435.7L965 1435.8L966 1435.8L967 1435.9L968 1435.9L969 1435.9L970 1436L971 1436L972 1436L973 1436L974 1436.1L975 1436.1L976 1436.1L977 1436.1L978 1436.1L979 1436.1L980 1436.1L981 1436.1L982 1436.2L983 1436.2L984 1436.2L985 1436.2L986 1436.2L987 1436.2L988 1436.2L989 1436.2L990 1436.2L991 1436.2L992 1436.2L993 1436.2L994 1436.2L995 1436.2L996 1436.2L997 1436.2L998 1436.2L999 1436.2L1000 1436.2L1001 1436.2L1002 1436.2L1003 1436.2L1004 1436.2L1005 1436.2L1006 1436.2L1007 1436.2L1008 1436.2L1009 1436.2L1010 1436.2L1011 1436.2L1012 1436.2L1013 1436.2L1014 1436.2L1015 1436.2L1016 1436.2L1017 1436.2L1018 1436.2L1019 1436.2L1020 1436.2" fill="none" stroke="#000" stroke-width="1.4" stroke-linejoin="round" stroke-linecap="butt"/>
<path d="M683 1394.4L684 1394.4L685 1394.4L686 1394.4L687 1394.4L688 1394.4L689 1394.4L690 1394.4L691 1394.4L692 1394.5L693 1394.5L694 1394.5L695 1394.5L696 1394.5L697 1394.5L698 1394.5L699 1394.6L700 1394.6L701 1394.6L702 1394.6L703 1394.6L704 1394.6L705 1394.6L706 1394.7L707 1394.7L708 1394.7L709 1394.7L710 1394.7L711 1394.7L712 1394.8L713 1394.8L714 1394.8L715 1394.8L716 1394.8L717 1394.9L718 1394.9L719 1394.9L720 1394.9L721 1395L722 1395L723 1395L724 1395L725 1395L726 1395.1L727 1395.1L728 1395.1L729 1395.1L730 1395.2L731 1395.2L732 1395.2L733 1395.2L734 1395.3L735 1395.3L736 1395.3L737 1395.3L738 1395.3L739 1395.3L740 1395.3L741 1395.3L742 1395.3L743 1395.3L744 1395.3L745 1395.3L746 1395.3L747 1395.3L748 1395.2L749 1395.2L750 1395.1L751 1395L752 1394.9L753 1394.8L754 1394.7L755 1394.6L756 1394.4L757 1394.2L758 1394L759 1393.8L760 1393.5L761 1393.2L762 1392.8L763 1392.4L764 1392L765 1391.5L766 1391L767 1390.4L768 1389.7L769 1389L770 1388.2L771 1387.3L772 1386.4L773 1385.3L774 1384.2L775 1383L776 1381.6L777 1380.2L778 1378.6L779 1377L780 1375.2L781 1373.3L782 1371.2L783 1369L784 1366.7L785 1364.3L786 1361.7L787 1358.9L788 1356L789 1353L790 1349.8L791 1346.4L792 1342.9L793 1339.3L794 1335.5L795 1331.6L796 1327.5L797 1323.4L798 1319.1L799 1314.7L800 1310.1L801 1305.6L802 1300.9L803 1296.1L804 1291.3L805 1286.5L806 1281.7L807 1276.8L808 1271.9L809 1267.1L810 1262.3L811 1257.6L812 1253L813 1248.5L814 1244.1L815 1239.8L816 1235.7L817 1231.8L818 1228L819 1224.5L820 1221.2L821 1218.2L822 1215.4L823 1212.9L824 1210.7L825 1208.8L826 1207.2L827 1206L828 1205L829 1204.4L830 1204.2L831 1204.2L832 1204.7L833 1205.4L834 1206.5L835 1207.9L836 1209.7L837 1211.7L838 1214.1L839 1216.7L840 1219.7L841 1222.9L842 1226.4L843 1230.1L844 1234L845 1238.2L846 1242.5L847 1247L848 1251.7L849 1256.5L850 1261.4L851 1266.4L852 1271.4L853 1276.5L854 1281.7L855 1286.9L856 1292.1L857 1297.2L858 1302.4L859 1307.5L860 1312.5L861 1317.5L862 1322.3L863 1327.1L864 1331.8L865 1336.4L866 1340.8L867 1345.1L868 1349.3L869 1353.4L870 1357.3L871 1361.1L872 1364.7L873 1368.2L874 1371.5L875 1374.7L876 1377.7L877 1380.6L878 1383.4L879 1386L880 1388.5L881 1390.8L882 1393.1L883 1395.2L884 1397.2L885 1399L886 1400.8L887 1402.5L888 1404.1L889 1405.6L890 1407L891 1408.3L892 1409.5L893 1410.7L894 1411.8L895 1412.8L896 1413.8L897 1414.7L898 1415.6L899 1416.5L900 1417.2L901 1418L902 1418.7L903 1419.4L904 1420L905 1420.7L906 1421.2L907 1421.8L908 1422.4L909 1422.9L910 1423.4L911 1423.9L912 1424.4L913 1424.8L914 1425.3L915 1425.7L916 1426.1L917 1426.5L918 1426.9L919 1427.3L920 1427.7L921 1428L922 1428.4L923 1428.7L924 1429.1L925 1429.4L926 1429.7L927 1430L928 1430.3L929 1430.6L930 1430.9L931 1431.2L932 1431.5L933 1431.7L934 1432L935 1432.2L936 1432.5L937 1432.7L938 1432.9L939 1433.1L940 1433.3L941 1433.5L942 1433.7L943 1433.8L944 1434L945 1434.2L946 1434.3L947 1434.4L948 1434.6L949 1434.7L950 1434.8L951 1434.9L952 1435L953 1435.1L954 1435.2L955 1435.3L956 1435.4L957 1435.5L958 1435.5L959 1435.6L960 1435.6L961 1435.7L962 1435.7L963 1435.8L964 1435.8L965 1435.9L966 1435.9L967 1435.9L968 1436L969 1436L970 1436L971 1436L972 1436.1L973 1436.1L974 1436.1L975 1436.1L976 1436.1L977 1436.1L978 1436.1" fill="none" stroke="#000" stroke-width="1.4" stroke-linejoin="round" stroke-linecap="butt"/>
<path d="M520 1394L521 1394L522 1394L523 1394L524 1394L525 1394L526 1394L527 1394L528 1394L529 1394L530 1394L531 1394L532 1394L533 1394L534 1394L535 1394L536 1394L537 1394L538 1394L539 1394L540 1394L541 1394L542 1394L543 1394L544 1394L545 1394L546 1394L547 1394L548 1394L549 1394L550 1394L551 1394L552 1394L553 1394L554 1394L555 1394L556 1394L557 1394L558 1394L559 1394L560 1394L561 1394L562 1394L563 1394L564 1394L565 1394L566 1394L567 1394L568 1394L569 1394L570 1394L571 1394L572 1394L573 1394L574 1394L575 1394L576 1394L577 1394L578 1394L579 1394L580 1394L581 1394L582 1394L583 1394L584 1394L585 1394L586 1394L587 1394L588 1394L589 1394L590 1394L591 1394L592 1394L593 1394L594 1394L595 1394L596 1394L597 1394L598 1394L599 1394L600 1394L601 1394L602 1394L603 1394L604 1394L605 1394L606 1394L607 1394L608 1393.9L609 1393.9L610 1393.9L611 1393.9L612 1393.9L613 1393.9L614 1393.9L615 1393.9L616 1393.9L617 1393.9L618 1393.9L619 1393.9L620 1393.9L621 1393.8L622 1393.8L623 1393.8L624 1393.8L625 1393.8L626 1393.8L627 1393.7L628 1393.7L629 1393.7L630 1393.7L631 1393.6L632 1393.6L633 1393.6L634 1393.5L635 1393.5L636 1393.5L637 1393.4L638 1393.4L639 1393.3L640 1393.3L641 1393.2L642 1393.1L643 1393.1L644 1393L645 1392.9L646 1392.9L647 1392.8L648 1392.7L649 1392.6L650 1392.5L651 1392.4L652 1392.3L653 1392.2L654 1392L655 1391.9L656 1391.8L657 1391.6L658 1391.5L659 1391.3L660 1391.1L661 1391L662 1390.8L663 1390.6L664 1390.3L665 1390.1L666 1389.9L667 1389.6L668 1389.4L669 1389.1L670 1388.8L671 1388.5L672 1388.2L673 1387.9L674 1387.6L675 1387.2L676 1386.9L677 1386.5L678 1386.1L679 1385.7L680 1385.3L681 1384.8L682 1384.4L683 1383.9L684 1383.4L685 1382.9L686 1382.4L687 1381.8L688 1381.3L689 1380.7L690 1380.1L691 1379.5L692 1378.9L693 1378.2L694 1377.6L695 1376.9L696 1376.2L697 1375.5L698 1374.8L699 1374L700 1373.3L701 1372.5L702 1371.7L703 1370.9L704 1370.1L705 1369.3L706 1368.4L707 1367.6L708 1366.7L709 1365.8L710 1365L711 1364.1L712 1363.2L713 1362.3L714 1361.3L715 1360.4L716 1359.5L717 1358.6L718 1357.7L719 1356.7L720 1355.8L721 1354.9L722 1354L723 1353L724 1352.1L725 1351.2L726 1350.3L727 1349.4L728 1348.5L729 1347.7L730 1346.8L731 1346L732 1345.1L733 1344.3L734 1343.6L735 1342.8L736 1342L737 1341.3L738 1340.6L739 1339.9L740 1339.3L741 1338.6L742 1338L743 1337.5L744 1336.9L745 1336.4L746 1335.9L747 1335.5L748 1335.1L749 1334.7L750 1334.4L751 1334.1L752 1333.8L753 1333.6L754 1333.4L755 1333.2L756 1333.1L757 1333L758 1333L759 1333L760 1333L761 1333.1L762 1333.2L763 1333.4L764 1333.6L765 1333.8L766 1334.1L767 1334.4L768 1334.7L769 1335.1L770 1335.5L771 1336L772 1336.5L773 1337L774 1337.5L775 1338.1L776 1338.7L777 1339.4L778 1340.1L779 1340.8L780 1341.5L781 1342.3L782 1343L783 1343.8L784 1344.7L785 1345.5L786 1346.4L787 1347.3L788 1348.2L789 1349.1L790 1350.1L791 1351L792 1352L793 1353L794 1353.9L795 1354.9L796 1356L797 1357L798 1358L799 1359L800 1360L801 1361.1L802 1362.1L803 1363.1L804 1364.2L805 1365.2L806 1366.2L807 1367.2L808 1368.2L809 1369.3L810 1370.3L811 1371.3L812 1372.3L813 1373.2L814 1374.2L815 1375.2L816 1376.1L817 1377.1L818 1378L819 1378.9L820 1379.9L821 1380.8L822 1381.6L823 1382.5L824 1383.4L825 1384.2L826 1385L827 1385.9L828 1386.7L829 1387.5L830 1388.2L831 1389L832 1389.7L833 1390.5L834 1391.2L835 1391.9L836 1392.6L837 1393.2L838 1393.9L839 1394.5L840 1395.2L841 1395.8L842 1396.4L843 1397L844 1397.5L845 1398.1L846 1398.7L847 1399.2L848 1399.7L849 1400.2L850 1400.7L851 1401.2L852 1401.7L853 1402.2L854 1402.6L855 1403.1L856 1403.5L857 1404L858 1404.4L859 1404.8L860 1405.2L861 1405.7L862 1406.1L863 1406.5L864 1406.9L865 1407.2L866 1407.6L867 1408L868 1408.4L869 1408.8L870 1409.1L871 1409.5L872 1409.9L873 1410.2L874 1410.6L875 1411L876 1411.4L877 1411.7L878 1412.1L879 1412.5L880 1412.8L881 1413.2L882 1413.6L883 1413.9L884 1414.3L885 1414.7L886 1415.1L887 1415.4L888 1415.8L889 1416.2L890 1416.6L891 1417L892 1417.3L893 1417.7L894 1418.1L895 1418.5L896 1418.9L897 1419.3L898 1419.6L899 1420L900 1420.4L901 1420.8L902 1421.2L903 1421.6L904 1422L905 1422.4L906 1422.7L907 1423.1L908 1423.5L909 1423.9L910 1424.3L911 1424.6L912 1425L913 1425.4L914 1425.8L915 1426.1L916 1426.5L917 1426.8L918 1427.2L919 1427.5L920 1427.9L921 1428.2L922 1428.5L923 1428.9L924 1429.2L925 1429.5L926 1429.8L927 1430.1L928 1430.4L929 1430.7L930 1431L931 1431.2L932 1431.5L933 1431.7L934 1432L935 1432.2L936 1432.5L937 1432.7L938 1432.9L939 1433.1L940 1433.3L941 1433.5L942 1433.7L943 1433.8L944 1434L945 1434.2L946 1434.3L947 1434.4L948 1434.6L949 1434.7L950 1434.8L951 1434.9L952 1435L953 1435.1L954 1435.2L955 1435.3L956 1435.4L957 1435.5L958 1435.5L959 1435.6L960 1435.6L961 1435.7L962 1435.7L963 1435.8L964 1435.8L965 1435.9L966 1435.9L967 1435.9L968 1436L969 1436L970 1436L971 1436L972 1436.1L973 1436.1L974 1436.1L975 1436.1L976 1436.1L977 1436.1L978 1436.1L979 1436.1L980 1436.1L981 1436.2L982 1436.2L983 1436.2L984 1436.2L985 1436.2L986 1436.2L987 1436.2L988 1436.2L989 1436.2L990 1436.2L991 1436.2L992 1436.2L993 1436.2L994 1436.2L995 1436.2L996 1436.2L997 1436.2L998 1436.2L999 1436.2L1000 1436.2L1001 1436.2L1002 1436.2L1003 1436.2L1004 1436.2L1005 1436.2L1006 1436.2" fill="none" stroke="#a0a0a0" stroke-width="1.4" stroke-linejoin="round" stroke-linecap="butt"/>
<path d="M520 1394L521 1394L522 1394L523 1394L524 1394L525 1394L526 1394L527 1394L528 1394L529 1394L530 1394L531 1394L532 1394L533 1394L534 1394L535 1394L536 1394L537 1394L538 1394L539 1394L540 1394L541 1394L542 1394L543 1394L544 1394L545 1394L546 1394L547 1394L548 1394L549 1394L550 1394L551 1394L552 1394L553 1394L554 1394L555 1394L556 1394L557 1394L558 1394L559 1394L560 1394L561 1394L562 1394L563 1394L564 1394L565 1394L566 1394L567 1394L568 1394L569 1394L570 1394L571 1394L572 1394L573 1394L574 1394L575 1394L576 1394L577 1394L578 1394L579 1394L580 1394L581 1394L582 1394L583 1394L584 1394L585 1394L586 1393.9L587 1393.9L588 1393.9L589 1393.9L590 1393.9L591 1393.9L592 1393.9L593 1393.9L594 1393.9L595 1393.8L596 1393.8L597 1393.8L598 1393.8L599 1393.8L600 1393.7L601 1393.7L602 1393.7L603 1393.6L604 1393.6L605 1393.6L606 1393.5L607 1393.5L608 1393.4L609 1393.4L610 1393.3L611 1393.3L612 1393.2L613 1393.1L614 1393L615 1392.9L616 1392.9L617 1392.8L618 1392.7L619 1392.6L620 1392.4L621 1392.3L622 1392.2L623 1392.1L624 1391.9L625 1391.8L626 1391.7L627 1391.5L628 1391.3L629 1391.2L630 1391L631 1390.8L632 1390.6L633 1390.4L634 1390.3L635 1390.1L636 1389.9L637 1389.6L638 1389.4L639 1389.2L640 1389L641 1388.8L642 1388.6L643 1388.4L644 1388.2L645 1387.9L646 1387.7L647 1387.5L648 1387.3L649 1387.1L650 1386.9L651 1386.7L652 1386.5L653 1386.4L654 1386.2L655 1386L656 1385.9L657 1385.7L658 1385.6L659 1385.5L660 1385.4L661 1385.3L662 1385.2L663 1385.1L664 1385.1L665 1385L666 1385L667 1385L668 1385L669 1385L670 1385L671 1385.1L672 1385.1L673 1385.2L674 1385.3L675 1385.4L676 1385.5L677 1385.6L678 1385.8L679 1385.9L680 1386.1L681 1386.2L682 1386.4L683 1386.6L684 1386.8L685 1387L686 1387.2L687 1387.4L688 1387.6L689 1387.9L690 1388.1L691 1388.3L692 1388.5L693 1388.8L694 1389L695 1389.2L696 1389.5L697 1389.7L698 1389.9L699 1390.2L700 1390.4L701 1390.6L702 1390.8L703 1391L704 1391.2L705 1391.4L706 1391.6L707 1391.8L708 1392L709 1392.2L710 1392.4L711 1392.5L712 1392.7L713 1392.9L714 1393L715 1393.1L716 1393.3L717 1393.4L718 1393.6L719 1393.7L720 1393.8L721 1393.9L722 1394L723 1394.1L724 1394.2L725 1394.3L726 1394.4L727 1394.5L728 1394.6L729 1394.6L730 1394.7L731 1394.8L732 1394.9L733 1394.9L734 1395L735 1395.1L736 1395.1L737 1395.2L738 1395.2L739 1395.3L740 1395.3L741 1395.4L742 1395.4L743 1395.5L744 1395.5L745 1395.6L746 1395.6L747 1395.7L748 1395.7L749 1395.8L750 1395.8L751 1395.8L752 1395.9L753 1395.9L754 1396L755 1396L756 1396.1L757 1396.1L758 1396.1L759 1396.2L760 1396.2L761 1396.3L762 1396.3L763 1396.3L764 1396.4L765 1396.4L766 1396.5L767 1396.5L768 1396.5L769 1396.6L770 1396.6L771 1396.7L772 1396.7L773 1396.8L774 1396.8L775 1396.8L776 1396.9L777 1396.9L778 1397L779 1397L780 1397.1L781 1397.1L782 1397.1L783 1397.2L784 1397.2L785 1397.3L786 1397.3L787 1397.4L788 1397.5L789 1397.5L790 1397.6L791 1397.6L792 1397.7L793 1397.7L794 1397.8L795 1397.9L796 1397.9L797 1398L798 1398.1L799 1398.1L800 1398.2L801 1398.3L802 1398.4L803 1398.5L804 1398.6L805 1398.6L806 1398.7L807 1398.8L808 1398.9L809 1399L810 1399.1L811 1399.3L812 1399.4L813 1399.5L814 1399.6L815 1399.7L816 1399.8L817 1400L818 1400.1L819 1400.2L820 1400.4L821 1400.5L822 1400.7L823 1400.8" fill="none" stroke="#a0a0a0" stroke-width="1.4" stroke-linejoin="round" stroke-linecap="butt"/>
<path d="M143 1370L145 1368.4L147 1373.8L149 1375.7L151 1367.6L153 1372.8L155 1373.3L157 1369.6L159 1371.3L161 1369.3L163 1370.2L165 1371L167 1374.7L169 1375.5L171 1371.3L173 1369.6L175 1373L177 1376.8L179 1372.1L181 1373.6L183 1372.7L185 1378.9L187 1376.6L189 1372L191 1372.6L193 1375.7L195 1377.5L197 1378.5L199 1373.2L201 1374.1L203 1379.6L205 1376.9L207 1375.8L209 1376.2L211 1382.8L213 1376.6L215 1379.3L217 1377.3L219 1378.1L221 1382.7L223 1384.2L225 1378L227 1376.4L229 1381.9L231 1376.8L233 1374.9L235 1384L237 1379.4L239 1383.5L241 1379.5L243 1384.4L245 1380.3L247 1377.5L249 1376.1L251 1381.6L253 1382.7L255 1385.5L257 1377.5L259 1382.9L261 1380.6L263 1382.1L265 1378.6L267 1380.2L269 1382.7L271 1386.9L273 1378.9L275 1382.8L277 1386.1L279 1387.9L281 1380.4L283 1379.8L285 1388.1L287 1388.6L289 1383.8L291 1379.7L293 1388.6L295 1383.3L297 1388.6L299 1386L301 1388.2L303 1381.7L305 1388.1L307 1382.6L309 1384.6L311 1389.1L313 1389.1L315 1382.8L317 1383.3L319 1385.3L321 1386.6L323 1385.4L325 1383L327 1384.3L329 1389.3L331 1391.2L333 1382.7L335 1388.1L337 1390.2L339 1383.2L341 1391.3L343 1384.3L345 1389.2L347 1388.9L349 1389.8L351 1386.8L353 1388L355 1389.8L357 1388.4L359 1390.9L361 1388.9L363 1389L365 1385L367 1391.1L369 1389.9L371 1387.5L373 1393L375 1393.3L377 1390.2L379 1387.6L381 1390.7L383 1387.1L385 1387.5L387 1390.7L389 1387.4L391 1391.1L393 1391.9L395 1387.4L397 1393.5L399 1388.1L401 1394.8L403 1395.4L405 1392.9L407 1388.4L409 1393.1L411 1392L413 1397.9L415 1389.9L417 1397.2L419 1398.8L421 1396.3L423 1397.2L425 1391.1L427 1399.1L429 1394.3L431 1399L433 1398.7L435 1391.2L437 1397.5L439 1399L441 1392.5L443 1393.9L445 1396L447 1393L449 1396.7L451 1393.5L453 1396.2L455 1392.8L457 1394.5L459 1396.6L461 1393L463 1393.2L465 1394.3L467 1393.3L469 1391.8L471 1392.5L473 1392.3L475 1396.1L477 1394.8L479 1395.8L481 1392.1L483 1395.1L485 1391.7L487 1393.7L489 1394.1L491 1392.7L493 1395.2L495 1393.5L497 1393.5L499 1395L501 1391L503 1395.4L505 1393.5L507 1392.2L509 1394.2L511 1391.4L513 1395L515 1392.8L517 1391.7L519 1393.6L521 1391.9L523 1390.5" fill="none" stroke="#000" stroke-width="10" stroke-linejoin="round" stroke-linecap="butt"/>
<path d="M485 1395.3L486.5 1385.8L488 1394L489.5 1393L491 1391.1L492.5 1385.8L494 1392.5L495.5 1393.6L497 1385.3L498.5 1391.1L500 1392.7L501.5 1387.8L503 1385.7L504.5 1393.3L506 1394.1L507.5 1382.3L509 1389.3L510.5 1384.9L512 1392.8L513.5 1390.4L515 1391.5L516.5 1391.5L518 1393.5L519.5 1392.2L521 1391.4L522.5 1385.3L524 1392.1L525.5 1392.3L527 1385L528.5 1392.3L530 1392.3L531.5 1390.6L533 1386.8L534.5 1389.1L536 1390L537.5 1391.4L539 1391.2L540.5 1389.6L542 1391.5L543.5 1388.1L545 1388.6L546.5 1382.1L548 1391.6L549.5 1383.7L551 1389.2L552.5 1389.6L554 1390.2L555.5 1390.6L557 1385.7L558.5 1381.2L560 1391.7L561.5 1388.6L563 1385.2L564.5 1391L566 1388.4L567.5 1387.3L569 1389.3L570.5 1386.9L572 1387.8L573.5 1383.8L575 1386.2L576.5 1377.1L578 1384.8L579.5 1376.5L581 1383.3L582.5 1384L584 1385.1L585.5 1384.8L587 1378.4L588.5 1386.2L590 1383.5L591.5 1375.2L593 1385.2L594.5 1381.5L596 1374.6L597.5 1383.9L599 1384.4L600.5 1380.7L602 1374.5L603.5 1378.2L605 1381.6L606.5 1378.3L608 1373.9L609.5 1381L611 1384.2L612.5 1381.4L614 1381.2L615.5 1381.3L617 1380L618.5 1381.1L620 1371L621.5 1378.2L623 1371.1L624.5 1381.6L626 1373L627.5 1379.4L629 1378.4L630.5 1369.3L632 1368.1L633.5 1374.4L635 1377.7L636.5 1378L638 1368.7L639.5 1377.9L641 1376L642.5 1375.5L644 1367L645.5 1373L647 1366.6L648.5 1377.8L650 1376.8L651.5 1375.6L653 1375.9L654.5 1374L656 1370.5L657.5 1365.6L659 1374.9L660.5 1374.1L662 1373.9L663.5 1373.8L665 1373.8L666.5 1365L668 1373.6L669.5 1369L671 1367L672.5 1371.9L674 1360.1L675.5 1371L677 1359L678.5 1363.6L680 1369L681.5 1366.4L683 1359.6L684.5 1362.9L686 1367.1L687.5 1365.7L689 1363.5L690.5 1364.2L692 1356.2L693.5 1362.8L695 1360.1L696.5 1361.5L698 1352.3L699.5 1359L701 1358.6L702.5 1356.4L704 1356.3L705.5 1356.1L707 1348.8L708.5 1353.1L710 1346.6L711.5 1350.1L713 1349.3L714.5 1350.5L716 1340.9L717.5 1347L719 1347.8L720.5 1339.3L722 1336.3L723.5 1344L725 1343.5L726.5 1342.5L728 1340.8L729.5 1340.1L731 1340.2L732.5 1331.4L734 1338.8L735.5 1337.4L737 1338L738.5 1336.7L740 1329.9L741.5 1334.7L743 1330.2L744.5 1332.6L746 1332.1L747.5 1331.9L749 1331.4L750.5 1331.1L752 1329.1L753.5 1328.4L755 1317.9L756.5 1326.7L758 1325.8L759.5 1326.2L761 1316.4L762.5 1326.5L764 1324.4L765.5 1318L767 1321L768.5 1323L770 1316.9L771.5 1313.6L773 1317.6L774.5 1315.9L776 1315.4L777.5 1312.8L779 1310.9L780.5 1307.8L782 1305.9L783.5 1302.9L785 1299.7L786.5 1292.1L788 1292.7L789.5 1284.4L791 1282.9L792.5 1276.7L794 1271.7L795.5 1263.5L797 1258.5L798.5 1250.9L800 1244.9L801.5 1237.7L803 1232.5L804.5 1219.7L806 1212.9L807.5 1204.2L809 1201.6L810.5 1192.1L812 1184.7L813.5 1177.1L815 1171.8L816.5 1164.2L818 1152.3L819.5 1153.6L821 1136.3L822.5 1137.9L824 1132L825.5 1126.1L827 1114.7L828.5 1117.5L830 1101.2L831.5 1102.5L833 1096.1L834.5 1082.1L836 1078.1L837.5 1063.9L839 1068.4L840.5 1065.5L842 1063.4L843.5 1058.1L845 1048.1L846.5 1045.7L848 1038.6L849.5 1033.9L851 1030.5L852.5 1025L854 1010.9L855.5 1013.2L857 1008.5L858.5 1000.7L860 995.7L861.5 979.6L863 972.4L864.5 967L866 955L867.5 935.1L869 935.7L870.5 925.3L872 918.9L873.5 908.4L875 900.2L876.5 884.4L878 881.2L879.5 872L881 860.9L882.5 855.5L884 848L885.5 831.2L887 834.7L888.5 825.3L890 822.2L891.5 811.1L893 807.3L894.5 804.3L896 781.5L897.5 779.4L899 789.9L900.5 790.4L902 787.4L903.5 793.2L905 794.8L906.5 785.2L908 799.9L909.5 806.4L911 810.2L912.5 816.1L914 822.6L915.5 831.2L917 838.4L918.5 829.7L920 854.2L921.5 867.1L923 887.2L924.5 903.7L926 918.3L927.5 934.2L929 969.3L930.5 993.7L932 1010L933.5 1020.1L935 1029.8L936.5 1041.3L938 1060.7L939.5 1082L941 1105.8L942.5 1126.5L944 1154.3L945.5 1174.1L947 1184.4L948.5 1207.9L950 1227.3L951.5 1246.1L953 1266.2L954.5 1274.6L956 1300.7L957.5 1318.2L959 1324.7L960.5 1344.6L962 1348.7L963.5 1367.4L965 1376.4L966.5 1382.1L968 1388.6L969.5 1392.7L971 1398L972.5 1402.2L974 1407.2L975.5 1408.2L977 1412.3L978.5 1411.5L980 1409.6L981.5 1419.4L983 1422.1L984.5 1421.9L986 1425.6L987.5 1427.6L989 1429.2" fill="none" stroke="#000" stroke-width="1.2" stroke-linejoin="round" stroke-linecap="butt"/>
<path d="M526.2 1392L534.5 1391.6L542.1 1391.1L548.7 1390.7L554.2 1390.3L558.7 1389.8L562.5 1389.4L565.9 1388.9L569.1 1388.4L572.6 1387.9L576.4 1387.3L581 1386.6L586.4 1385.8L592.3 1384.9L598.5 1383.9L605 1382.8L611.4 1381.8L617.7 1380.8L623.6 1379.8L629 1379L633.9 1378.3L638.5 1377.7L642.9 1377.2L647.1 1376.7L651 1376.2L654.7 1375.7L658.2 1375.1L661.5 1374.5L664.5 1373.8L667.1 1373.2L669.4 1372.5L671.5 1371.8L673.6 1371L675.6 1370.2L677.7 1369.4L680 1368.5L682.5 1367.5L685.1 1366.5L687.8 1365.4L690.5 1364.2L693.2 1363.1L695.7 1361.9L698 1360.8L700 1359.8L701.7 1358.8L703 1358L704 1357.1L705 1356.3L705.9 1355.5L707 1354.6L708.3 1353.6L709.9 1352.5L711.9 1351.3L714.2 1349.9L716.6 1348.4L719.2 1346.9L721.8 1345.4L724.5 1343.9L727.2 1342.4L729.7 1341L732.2 1339.7L734.7 1338.4L737.2 1337.1L739.6 1335.9L742.1 1334.6L744.6 1333.4L747.1 1332.2L749.6 1331L752.1 1329.8L754.8 1328.6L757.5 1327.5L760.1 1326.3L762.7 1325.2L765.1 1324L767.4 1322.8L769.4 1321.5L771.1 1320.2L772.6 1318.9L773.9 1317.6L775.1 1316.3L776.2 1314.9L777.2 1313.5L778.2 1311.9L779.3 1310.3L780.4 1308.6L781.5 1306.7L782.5 1304.9L783.5 1302.9L784.5 1300.9L785.4 1298.8L786.3 1296.6L787.2 1294.4L788 1292.2L788.8 1289.9L789.6 1287.5L790.3 1285.1L791 1282.6L791.8 1280.1L792.5 1277.4L793.2 1274.6L793.9 1271.7L794.7 1268.7L795.4 1265.5L796.1 1262.3L796.8 1259L797.6 1255.7L798.3 1252.3L799.1 1248.8L799.9 1245.3L800.8 1241.6L801.7 1237.9L802.6 1234.2L803.5 1230.4L804.4 1226.6L805.2 1222.8L806 1219.1L806.7 1215.4L807.3 1211.7L807.9 1207.9L808.5 1204.2L809.1 1200.5L809.7 1196.8L810.3 1193.1L811 1189.4L811.8 1185.7L812.7 1181.8L813.6 1178L814.6 1174.2L815.5 1170.4L816.4 1166.8L817.3 1163.3L818 1160L818.6 1156.9L819.2 1154L819.7 1151.2L820.2 1148.5L820.6 1146L821 1143.6L821.5 1141.2L822 1139L822.5 1136.9L823.1 1135.1L823.7 1133.3L824.3 1131.7L824.8 1130.1L825.4 1128.5L826 1126.8L826.5 1125L827 1123.1L827.5 1121.2L828 1119.3L828.5 1117.3L829 1115.3L829.5 1113.3L829.9 1111.2L830.4 1109.1L830.9 1107L831.3 1104.8L831.7 1102.5L832.2 1100.3L832.6 1098L833 1095.7L833.5 1093.5L833.9 1091.2L834.3 1088.9L834.8 1086.6L835.2 1084.2L835.6 1081.9L836.1 1079.6L836.5 1077.4L837 1075.3L837.5 1073.3L838.1 1071.5L838.6 1069.9L839.3 1068.4L839.9 1067L840.5 1065.6L841.2 1064.2L841.7 1062.9L842.3 1061.4L842.8 1059.9L843.3 1058.4L843.8 1056.9L844.2 1055.4L844.7 1053.9L845.1 1052.4L845.5 1050.9L845.9 1049.4L846.2 1047.9L846.5 1046.4L846.8 1044.9L847 1043.4L847.3 1042L847.6 1040.5L847.9 1039L848.3 1037.5L848.8 1036L849.4 1034.5L850 1033L850.6 1031.5L851.3 1030.1L851.9 1028.6L852.5 1027.1L853 1025.6L853.4 1024.2L853.7 1022.8L854 1021.4L854.2 1020L854.4 1018.6L854.7 1017.1L855 1015.5L855.4 1013.7L855.9 1011.7L856.5 1009.6L857.2 1007.4L857.9 1005.1L858.5 1002.8L859.2 1000.4L859.7 998.1L860.2 995.8L860.5 993.5L860.8 991.2L861 988.9L861.1 986.6L861.3 984.3L861.4 982.1L861.6 980L861.8 978L862.1 976.2L862.4 974.5L862.8 973L863.2 971.5L863.5 970L863.9 968.4L864.3 966.8L864.6 965L864.9 963.1L865.2 961L865.5 958.9L865.7 956.8L866 954.6L866.3 952.3L866.6 950.1L866.9 947.8L867.3 945.5L867.6 943.2L868 940.9L868.4 938.5L868.9 936.1L869.3 933.7L869.7 931.4L870.1 929L870.5 926.7L870.9 924.3L871.3 922L871.7 919.6L872 917.3L872.4 915L872.8 912.6L873.2 910.3L873.6 908L874 905.6L874.4 903.3L874.8 900.9L875.1 898.6L875.5 896.2L875.9 893.9L876.3 891.5L876.7 889.1L877.1 886.8L877.4 884.5L877.8 882.1L878.2 879.8L878.6 877.4L879 875L879.4 872.7L879.8 870.4L880.3 868L880.8 865.7L881.3 863.3L881.8 861L882.3 858.6L882.8 856.3L883.2 853.9L883.6 851.5L884 849.2L884.3 846.9L884.7 844.5L885 842.1L885.4 839.8L885.8 837.4L886.3 835.1L886.8 832.7L887.4 830.3L888.1 827.9L888.8 825.5L889.4 823.1L890.1 820.7L890.7 818.5L891.3 816.3L891.8 814.2L892.3 812.1L892.8 810.1L893.3 808.1L893.8 806.3L894.2 804.5L894.7 802.8L895.1 801.3L895.5 799.9L896 798.6L896.4 797.5L896.9 796.4L897.3 795.4L897.7 794.5L898.1 793.7L898.5 793L898.9 792.3L899.3 791.7L899.6 791.2L900 790.8L900.3 790.5L900.7 790.2L901 790.1L901.4 790L901.8 790.1L902.2 790.2L902.5 790.5L902.9 790.9L903.3 791.3L903.7 791.8L904.1 792.4L904.5 793L904.9 793.6L905.2 794.3L905.6 794.9L905.9 795.7L906.3 796.5L906.7 797.5L907.1 798.7L907.6 800L908.1 801.6L908.7 803.4L909.4 805.3L910.1 807.4L910.7 809.6L911.4 811.8L912 814.1L912.6 816.3L913.1 818.5L913.6 820.8L914.1 823.2L914.6 825.5L915 827.9L915.5 830.3L915.9 832.7L916.4 835.1L916.9 837.5L917.4 839.8L917.9 842.1L918.4 844.5L918.8 846.9L919.3 849.2L919.7 851.6L920.1 853.9L920.4 856.2L920.7 858.6L921 860.9L921.2 863.3L921.4 865.6L921.6 868L921.8 870.3L922 872.7L922.2 875.1L922.4 877.4L922.5 879.8L922.7 882.1L922.8 884.5L923 886.8L923.1 889.2L923.3 891.5L923.5 893.8L923.7 896.1L923.9 898.3L924.1 900.5L924.4 902.8L924.6 905.2L924.8 907.7L925.1 910.3L925.4 913.1L925.7 916.1L926 919.2L926.3 922.4L926.7 925.7L927 928.9L927.3 932.1L927.5 935.3L927.7 938.4L927.9 941.5L928.1 944.6L928.2 947.7L928.3 950.8L928.4 953.9L928.6 957L928.7 960L928.8 963L928.9 966L929 969L929.1 972L929.2 975L929.3 978L929.4 980.9L929.6 983.9L929.8 986.9L930 989.9L930.2 992.8L930.5 995.8L930.7 998.8L931 1001.7L931.4 1004.7L931.7 1007.7L932.1 1010.7L932.5 1013.7L933 1016.7L933.5 1019.6L934 1022.6L934.4 1025.6L934.9 1028.6L935.3 1031.6L935.7 1034.6L936 1037.6L936.3 1040.5L936.6 1043.5L936.9 1046.5L937.2 1049.4L937.5 1052.4L937.7 1055.4L937.9 1058.4L938.1 1061.4L938.2 1064.4L938.3 1067.3L938.5 1070.3L938.6 1073.3L938.7 1076.3L938.9 1079.3L939.1 1082.3L939.3 1085.3L939.5 1088.2L939.8 1091.2L940 1094.2L940.2 1097.1L940.5 1100.1L940.7 1103.1L940.9 1106L941.2 1108.9L941.4 1111.7L941.6 1114.5L941.8 1117.4L942.1 1120.4L942.3 1123.6L942.5 1127L942.7 1130.6L942.9 1134.5L943.1 1138.4L943.3 1142.5L943.5 1146.8L943.7 1151.1L944 1155.5L944.3 1160L944.7 1164.5L945 1169.1L945.5 1173.8L945.9 1178.6L946.4 1183.5L946.9 1188.6L947.3 1193.9L947.8 1199.3L948.3 1205L948.7 1211L949.2 1217.1L949.7 1223.4L950.2 1229.8L950.7 1236.2L951.2 1242.5L951.7 1248.8L952.2 1255.1L952.7 1261.4L953.2 1267.8L953.7 1274.2L954.2 1280.5L954.7 1286.7L955.2 1292.7L955.7 1298.4L956.2 1303.9L956.7 1309.2L957.2 1314.4L957.7 1319.4L958.2 1324.3L958.7 1329L959.2 1333.6L959.7 1338L960.2 1342.2L960.6 1346.2L961.1 1350.1L961.5 1353.8L962 1357.4L962.5 1360.9L963 1364.3L963.6 1367.8L964.2 1371.2L964.9 1374.6L965.6 1378L966.4 1381.3L967.1 1384.5L967.9 1387.6L968.7 1390.6L969.6 1393.5L970.5 1396.3L971.4 1399L972.3 1401.7L973.3 1404.2L974.3 1406.6L975.3 1409L976.4 1411.2L977.5 1413.4L978.6 1415.5L979.7 1417.4L980.8 1419.3L982 1421L983.2 1422.7L984.5 1424.3L985.9 1425.8L987.4 1427.2L989.1 1428.5L990.9 1429.8L992.9 1430.9L994.9 1432L997 1433L999.1 1433.8L1001.2 1434.6L1003.3 1435.2L1005.1 1435.7L1006.5 1436L1007.8 1436.1L1009.2 1436.2L1010.8 1436.2L1013.1 1436.2L1016 1436.2L1020 1436.2L1025.5 1436.2L1032.5 1436.3L1040.5 1436.3L1048.9 1436.3L1057.2 1436.2L1064.9 1436.2L1071.2 1436.2L1075.8 1436.2" fill="none" stroke="#000" stroke-width="6.8" stroke-linejoin="round" stroke-linecap="butt"/>
<text x="740" y="920" font-size="80" font-weight="normal" font-style="italic" fill="#000">C</text>
<text x="592" y="1105.5" font-size="80" font-weight="normal" font-style="italic" fill="#000">D</text>
<text x="1109" y="919.5" font-size="80" font-weight="normal" font-style="italic" fill="#000" textLength="94" lengthAdjust="spacing">Ph</text>
<text x="1110" y="1012.5" font-size="80" font-weight="normal" font-style="italic" fill="#000">A</text>
<text x="1108" y="1104" font-size="80" font-weight="normal" font-style="italic" fill="#000">B</text>
<text x="67.5" y="1198" font-size="79" font-weight="normal" font-style="italic" fill="#a0a0a0" textLength="509" lengthAdjust="spacing">Shake-up peaks</text>
<path d="M774.4 933.6L829 985L829 1231" fill="none" stroke="#000" stroke-width="1.5" stroke-linejoin="round" stroke-linecap="butt"/>
<path d="M616.8 1123.6L616.8 1237L741.4 1358.2" fill="none" stroke="#000" stroke-width="1.5" stroke-linejoin="round" stroke-linecap="butt"/>
<path d="M1110.5 900.6L924.4 1080.9" fill="none" stroke="#000" stroke-width="1.5" stroke-linejoin="round" stroke-linecap="butt"/>
<path d="M1108 996.9L904.2 1194.3" fill="none" stroke="#000" stroke-width="1.5" stroke-linejoin="round" stroke-linecap="butt"/>
<path d="M1110.3 1092L874.4 1319.2" fill="none" stroke="#000" stroke-width="1.5" stroke-linejoin="round" stroke-linecap="butt"/>
<path d="M326.5 1367.2L326.5 1274.9L648.4 1274.9" fill="none" stroke="#000" stroke-width="1.5" stroke-linejoin="round" stroke-linecap="butt"/>
<path d="M667 1274.9L759.1 1274.9L759.1 1301.2" fill="none" stroke="#000" stroke-width="1.5" stroke-linejoin="round" stroke-linecap="butt"/>
<path d="M536.3 1217.7L536.3 1274.9" fill="none" stroke="#000" stroke-width="1.5" stroke-linejoin="round" stroke-linecap="butt"/>
<path d="M1450 708.5L1451 708.5L1452 708.5L1453 708.5L1454 708.5L1455 708.5L1456 708.5L1457 708.5L1458 708.5L1459 708.5L1460 708.5L1461 708.5L1462 708.5L1463 708.5L1464 708.5L1465 708.5L1466 708.5L1467 708.5L1468 708.5L1469 708.5L1470 708.6L1471 708.6L1472 708.6L1473 708.6L1474 708.6L1475 708.6L1476 708.6L1477 708.6L1478 708.6L1479 708.6L1480 708.6L1481 708.6L1482 708.6L1483 708.6L1484 708.6L1485 708.6L1486 708.6L1487 708.6L1488 708.6L1489 708.6L1490 708.6L1491 708.6L1492 708.6L1493 708.7L1494 708.7L1495 708.7L1496 708.7L1497 708.7L1498 708.7L1499 708.7L1500 708.7L1501 708.7L1502 708.7L1503 708.7L1504 708.8L1505 708.8L1506 708.8L1507 708.8L1508 708.8L1509 708.8L1510 708.8L1511 708.9L1512 708.9L1513 708.9L1514 708.9L1515 708.9L1516 709L1517 709L1518 709L1519 709L1520 709.1L1521 709.1L1522 709.1L1523 709.2L1524 709.2L1525 709.2L1526 709.3L1527 709.3L1528 709.3L1529 709.4L1530 709.4L1531 709.5L1532 709.5L1533 709.6L1534 709.6L1535 709.7L1536 709.7L1537 709.8L1538 709.8L1539 709.9L1540 709.9L1541 710L1542 710.1L1543 710.1L1544 710.2L1545 710.2L1546 710.3L1547 710.4L1548 710.5L1549 710.5L1550 710.6L1551 710.7L1552 710.8L1553 710.8L1554 710.9L1555 711L1556 711.1L1557 711.2L1558 711.3L1559 711.4L1560 711.5L1561 711.6L1562 711.7L1563 711.8L1564 711.9L1565 712L1566 712.1L1567 712.2L1568 712.3L1569 712.4L1570 712.5L1571 712.7L1572 712.8L1573 712.9L1574 713.1L1575 713.2L1576 713.3L1577 713.5L1578 713.6L1579 713.8L1580 714L1581 714.1L1582 714.3L1583 714.5L1584 714.7L1585 714.9L1586 715.1L1587 715.3L1588 715.5L1589 715.7L1590 715.9L1591 716.1L1592 716.3L1593 716.6L1594 716.8L1595 717.1L1596 717.3L1597 717.6L1598 717.9L1599 718.1L1600 718.4L1601 718.7L1602 719L1603 719.3L1604 719.6L1605 719.9L1606 720.2L1607 720.5L1608 720.8L1609 721.1L1610 721.4L1611 721.7L1612 722L1613 722.4L1614 722.7L1615 723L1616 723.3L1617 723.6L1618 724L1619 724.3L1620 724.6L1621 724.9L1622 725.2L1623 725.5L1624 725.8L1625 726.1L1626 726.4L1627 726.7L1628 727L1629 727.3L1630 727.6L1631 727.9L1632 728.1L1633 728.4L1634 728.6L1635 728.9L1636 729.1L1637 729.4L1638 729.6L1639 729.8L1640 730.1L1641 730.3L1642 730.5L1643 730.7L1644 730.9L1645 731.1L1646 731.3L1647 731.5L1648 731.7L1649 731.8L1650 732L1651 732.2L1652 732.3L1653 732.5L1654 732.6L1655 732.8L1656 732.9L1657 733.1L1658 733.2L1659 733.3L1660 733.4L1661 733.6L1662 733.7L1663 733.8L1664 733.9L1665 734L1666 734.1L1667 734.2L1668 734.3L1669 734.4L1670 734.5L1671 734.6L1672 734.7L1673 734.8L1674 734.9L1675 734.9L1676 735L1677 735.1L1678 735.2L1679 735.2L1680 735.3L1681 735.4L1682 735.4L1683 735.5L1684 735.5L1685 735.6L1686 735.6L1687 735.7L1688 735.7L1689 735.8L1690 735.8L1691 735.9L1692 735.9L1693 736L1694 736L1695 736L1696 736.1L1697 736.1L1698 736.1L1699 736.2L1700 736.2L1701 736.2L1702 736.2L1703 736.3L1704 736.3L1705 736.3L1706 736.3L1707 736.4L1708 736.4L1709 736.4L1710 736.4L1711 736.4L1712 736.4L1713 736.4L1714 736.5L1715 736.5L1716 736.5L1717 736.5L1718 736.5L1719 736.5L1720 736.5L1721 736.5L1722 736.5L1723 736.5L1724 736.6L1725 736.6L1726 736.6L1727 736.6L1728 736.6L1729 736.6L1730 736.6L1731 736.6L1732 736.6L1733 736.6L1734 736.6L1735 736.6L1736 736.6L1737 736.6L1738 736.6L1739 736.6L1740 736.6L1741 736.6L1742 736.7L1743 736.7L1744 736.7L1745 736.7L1746 736.7L1747 736.7L1748 736.7L1749 736.7L1750 736.7L1751 736.7L1752 736.7L1753 736.7L1754 736.7L1755 736.7L1756 736.7L1757 736.7L1758 736.7L1759 736.7L1760 736.7L1761 736.7L1762 736.7L1763 736.7L1764 736.7L1765 736.7L1766 736.7L1767 736.7L1768 736.7L1769 736.7L1770 736.7L1771 736.7L1772 736.7L1773 736.7L1774 736.7L1775 736.7L1776 736.8L1777 736.8L1778 736.8L1779 736.8L1780 736.8L1781 736.8L1782 736.8L1783 736.8L1784 736.8L1785 736.8L1786 736.8L1787 736.8L1788 736.8L1789 736.8L1790 736.8L1791 736.8L1792 736.8L1793 736.8L1794 736.8L1795 736.8L1796 736.8L1797 736.8L1798 736.8L1799 736.8" fill="none" stroke="#000" stroke-width="1.4" stroke-linejoin="round" stroke-linecap="butt"/>
<path d="M1450 704.4L1451 704.4L1452 704.3L1453 704.3L1454 704.3L1455 704.2L1456 704.2L1457 704.1L1458 704L1459 704L1460 703.9L1461 703.9L1462 703.8L1463 703.8L1464 703.7L1465 703.7L1466 703.6L1467 703.5L1468 703.5L1469 703.4L1470 703.3L1471 703.3L1472 703.2L1473 703.1L1474 703.1L1475 703L1476 702.9L1477 702.8L1478 702.8L1479 702.7L1480 702.6L1481 702.5L1482 702.4L1483 702.4L1484 702.3L1485 702.2L1486 702.1L1487 702L1488 701.9L1489 701.8L1490 701.7L1491 701.6L1492 701.5L1493 701.4L1494 701.3L1495 701.2L1496 701.1L1497 700.9L1498 700.8L1499 700.7L1500 700.6L1501 700.4L1502 700.3L1503 700.2L1504 700L1505 699.9L1506 699.7L1507 699.5L1508 699.4L1509 699.2L1510 699L1511 698.8L1512 698.6L1513 698.4L1514 698.2L1515 698L1516 697.7L1517 697.5L1518 697.2L1519 696.9L1520 696.6L1521 696.3L1522 695.9L1523 695.5L1524 695.1L1525 694.7L1526 694.3L1527 693.8L1528 693.2L1529 692.7L1530 692L1531 691.4L1532 690.7L1533 689.9L1534 689.1L1535 688.2L1536 687.2L1537 686.1L1538 685L1539 683.8L1540 682.5L1541 681L1542 679.5L1543 677.8L1544 676.1L1545 674.2L1546 672.1L1547 669.9L1548 667.5L1549 665L1550 662.2L1551 659.3L1552 656.2L1553 652.9L1554 649.3L1555 645.6L1556 641.6L1557 637.3L1558 632.8L1559 628L1560 622.9L1561 617.6L1562 612L1563 606L1564 599.8L1565 593.3L1566 586.4L1567 579.2L1568 571.7L1569 563.9L1570 555.8L1571 547.3L1572 538.6L1573 529.5L1574 520.1L1575 510.4L1576 500.4L1577 490.1L1578 479.5L1579 468.7L1580 457.7L1581 446.4L1582 434.9L1583 423.2L1584 411.4L1585 399.4L1586 387.3L1587 375.1L1588 362.9L1589 350.6L1590 338.4L1591 326.2L1592 314.1L1593 302.1L1594 290.2L1595 278.6L1596 267.2L1597 256.1L1598 245.3L1599 234.9L1600 225L1601 215.4L1602 206.4L1603 198L1604 190.1L1605 182.9L1606 176.4L1607 170.5L1608 165.4L1609 161.1L1610 157.6L1611 154.9L1612 153.1L1613 152.1L1614 152L1615 152.8L1616 154.4L1617 156.9L1618 160.2L1619 164.3L1620 169.3L1621 175L1622 181.4L1623 188.6L1624 196.4L1625 204.9L1626 213.9L1627 223.5L1628 233.6L1629 244.1L1630 255.1L1631 266.4L1632 278L1633 289.9L1634 302.1L1635 314.4L1636 326.9L1637 339.4L1638 352.1L1639 364.8L1640 377.5L1641 390.1L1642 402.7L1643 415.2L1644 427.6L1645 439.8L1646 451.9L1647 463.7L1648 475.3L1649 486.7L1650 497.9L1651 508.8L1652 519.3L1653 529.6L1654 539.6L1655 549.3L1656 558.7L1657 567.7L1658 576.4L1659 584.8L1660 592.9L1661 600.6L1662 608L1663 615.1L1664 621.9L1665 628.3L1666 634.4L1667 640.3L1668 645.8L1669 651L1670 656L1671 660.7L1672 665.1L1673 669.3L1674 673.3L1675 677L1676 680.5L1677 683.7L1678 686.8L1679 689.7L1680 692.3L1681 694.9L1682 697.2L1683 699.4L1684 701.4L1685 703.3L1686 705.1L1687 706.7L1688 708.3L1689 709.7L1690 711L1691 712.3L1692 713.4L1693 714.5L1694 715.5L1695 716.4L1696 717.2L1697 718L1698 718.8L1699 719.4L1700 720.1L1701 720.7L1702 721.2L1703 721.8L1704 722.2L1705 722.7L1706 723.1L1707 723.5L1708 723.9L1709 724.2L1710 724.6L1711 724.9L1712 725.2L1713 725.5L1714 725.7L1715 726L1716 726.2L1717 726.5L1718 726.7L1719 726.9L1720 727.1L1721 727.3L1722 727.5L1723 727.6L1724 727.8L1725 728L1726 728.1L1727 728.3L1728 728.4L1729 728.6L1730 728.7L1731 728.9L1732 729L1733 729.1L1734 729.2L1735 729.4L1736 729.5L1737 729.6L1738 729.7L1739 729.8L1740 729.9L1741 730L1742 730.1L1743 730.2L1744 730.3L1745 730.4L1746 730.5L1747 730.6L1748 730.7L1749 730.8L1750 730.9L1751 731L1752 731L1753 731.1L1754 731.2L1755 731.3L1756 731.3L1757 731.4L1758 731.5L1759 731.6L1760 731.6L1761 731.7L1762 731.8L1763 731.8L1764 731.9L1765 732L1766 732L1767 732.1L1768 732.1L1769 732.2L1770 732.3L1771 732.3L1772 732.4L1773 732.4L1774 732.5L1775 732.5L1776 732.6L1777 732.6L1778 732.7L1779 732.7L1780 732.8L1781 732.8L1782 732.9L1783 732.9L1784 733L1785 733L1786 733.1L1787 733.1L1788 733.2L1789 733.2L1790 733.2L1791 733.3L1792 733.3L1793 733.4L1794 733.4L1795 733.4L1796 733.5L1797 733.5L1798 733.5L1799 733.6" fill="none" stroke="#000" stroke-width="1.4" stroke-linejoin="round" stroke-linecap="butt"/>
<path d="M1450 708.5L1451 708.5L1452 708.5L1453 708.5L1454 708.5L1455 708.5L1456 708.5L1457 708.5L1458 708.5L1459 708.4L1460 708.4L1461 708.4L1462 708.4L1463 708.4L1464 708.4L1465 708.4L1466 708.3L1467 708.3L1468 708.3L1469 708.2L1470 708.2L1471 708.1L1472 708.1L1473 708L1474 707.9L1475 707.9L1476 707.8L1477 707.7L1478 707.5L1479 707.4L1480 707.3L1481 707.1L1482 706.9L1483 706.7L1484 706.5L1485 706.3L1486 706L1487 705.7L1488 705.4L1489 705.1L1490 704.7L1491 704.3L1492 703.8L1493 703.3L1494 702.8L1495 702.2L1496 701.6L1497 700.9L1498 700.2L1499 699.5L1500 698.6L1501 697.8L1502 696.8L1503 695.8L1504 694.8L1505 693.7L1506 692.5L1507 691.2L1508 689.9L1509 688.6L1510 687.1L1511 685.6L1512 684L1513 682.4L1514 680.7L1515 679L1516 677.1L1517 675.3L1518 673.3L1519 671.4L1520 669.4L1521 667.3L1522 665.2L1523 663.1L1524 660.9L1525 658.8L1526 656.6L1527 654.4L1528 652.2L1529 650L1530 647.9L1531 645.7L1532 643.6L1533 641.6L1534 639.5L1535 637.6L1536 635.7L1537 633.9L1538 632.2L1539 630.5L1540 629L1541 627.6L1542 626.2L1543 625L1544 624L1545 623L1546 622.2L1547 621.5L1548 621L1549 620.6L1550 620.4L1551 620.3L1552 620.3L1553 620.6L1554 620.9L1555 621.4L1556 622.1L1557 622.9L1558 623.8L1559 624.9L1560 626.1L1561 627.5L1562 628.9L1563 630.5L1564 632.2L1565 634L1566 635.8L1567 637.8L1568 639.8L1569 642L1570 644.1L1571 646.4L1572 648.6L1573 650.9L1574 653.3L1575 655.6L1576 658L1577 660.4L1578 662.7L1579 665.1L1580 667.5L1581 669.8L1582 672.1L1583 674.4L1584 676.6L1585 678.8L1586 681L1587 683.1L1588 685.1L1589 687.1L1590 689.1L1591 691L1592 692.8L1593 694.6L1594 696.3L1595 697.9L1596 699.5L1597 701L1598 702.5L1599 703.9L1600 705.3L1601 706.6L1602 707.8L1603 709L1604 710.1L1605 711.2L1606 712.3L1607 713.3L1608 714.2L1609 715.1L1610 716L1611 716.8L1612 717.6L1613 718.3L1614 719L1615 719.7L1616 720.4L1617 721L1618 721.6L1619 722.1L1620 722.7L1621 723.2L1622 723.7L1623 724.2L1624 724.6L1625 725.1L1626 725.5L1627 725.9L1628 726.3L1629 726.7L1630 727L1631 727.4L1632 727.7L1633 728L1634 728.3L1635 728.6L1636 728.9L1637 729.2L1638 729.4L1639 729.7L1640 729.9L1641 730.2L1642 730.4L1643 730.6L1644 730.8L1645 731L1646 731.2L1647 731.4L1648 731.6L1649 731.8L1650 732L1651 732.1L1652 732.3L1653 732.5L1654 732.6L1655 732.8L1656 732.9L1657 733L1658 733.2L1659 733.3L1660 733.4L1661 733.6L1662 733.7L1663 733.8L1664 733.9L1665 734L1666 734.1L1667 734.2L1668 734.3L1669 734.4L1670 734.5L1671 734.6L1672 734.7L1673 734.8L1674 734.9L1675 734.9L1676 735L1677 735.1L1678 735.2L1679 735.2L1680 735.3L1681 735.4L1682 735.4L1683 735.5L1684 735.5L1685 735.6L1686 735.6L1687 735.7L1688 735.7L1689 735.8L1690 735.8L1691 735.9L1692 735.9L1693 736L1694 736L1695 736L1696 736.1L1697 736.1L1698 736.1L1699 736.2L1700 736.2L1701 736.2L1702 736.2L1703 736.3L1704 736.3L1705 736.3L1706 736.3L1707 736.4L1708 736.4L1709 736.4L1710 736.4L1711 736.4L1712 736.4L1713 736.4L1714 736.5L1715 736.5L1716 736.5L1717 736.5L1718 736.5L1719 736.5L1720 736.5L1721 736.5L1722 736.5L1723 736.5L1724 736.6L1725 736.6L1726 736.6L1727 736.6L1728 736.6L1729 736.6L1730 736.6L1731 736.6L1732 736.6L1733 736.6L1734 736.6L1735 736.6L1736 736.6L1737 736.6" fill="none" stroke="#000" stroke-width="1.4" stroke-linejoin="round" stroke-linecap="butt"/>
<path d="M1496 708.7L1497 708.7L1498 708.7L1499 708.7L1500 708.7L1501 708.7L1502 708.7L1503 708.7L1504 708.8L1505 708.8L1506 708.8L1507 708.8L1508 708.8L1509 708.8L1510 708.8L1511 708.9L1512 708.9L1513 708.9L1514 708.9L1515 708.9L1516 709L1517 709L1518 709L1519 709L1520 709.1L1521 709.1L1522 709.1L1523 709.2L1524 709.2L1525 709.2L1526 709.3L1527 709.3L1528 709.3L1529 709.4L1530 709.4L1531 709.5L1532 709.5L1533 709.6L1534 709.6L1535 709.7L1536 709.7L1537 709.8L1538 709.8L1539 709.9L1540 709.9L1541 710L1542 710.1L1543 710.1L1544 710.2L1545 710.2L1546 710.3L1547 710.4L1548 710.5L1549 710.5L1550 710.6L1551 710.7L1552 710.8L1553 710.8L1554 710.9L1555 711L1556 711.1L1557 711.2L1558 711.3L1559 711.4L1560 711.5L1561 711.6L1562 711.6L1563 711.8L1564 711.9L1565 712L1566 712.1L1567 712.2L1568 712.3L1569 712.4L1570 712.5L1571 712.7L1572 712.8L1573 712.9L1574 713L1575 713.2L1576 713.3L1577 713.5L1578 713.6L1579 713.8L1580 713.9L1581 714.1L1582 714.2L1583 714.4L1584 714.6L1585 714.7L1586 714.9L1587 715.1L1588 715.3L1589 715.4L1590 715.6L1591 715.8L1592 716L1593 716.2L1594 716.4L1595 716.5L1596 716.7L1597 716.9L1598 717.1L1599 717.2L1600 717.4L1601 717.5L1602 717.6L1603 717.7L1604 717.8L1605 717.9L1606 718L1607 718L1608 718L1609 718L1610 718L1611 717.9L1612 717.8L1613 717.6L1614 717.4L1615 717.2L1616 716.9L1617 716.5L1618 716.1L1619 715.7L1620 715.2L1621 714.6L1622 713.9L1623 713.2L1624 712.4L1625 711.6L1626 710.7L1627 709.7L1628 708.6L1629 707.4L1630 706.2L1631 704.9L1632 703.5L1633 702L1634 700.5L1635 698.9L1636 697.3L1637 695.5L1638 693.7L1639 691.9L1640 690L1641 688.1L1642 686.1L1643 684.1L1644 682.1L1645 680.1L1646 678L1647 676L1648 673.9L1649 671.9L1650 670L1651 668L1652 666.1L1653 664.3L1654 662.6L1655 660.9L1656 659.3L1657 657.8L1658 656.4L1659 655.2L1660 654L1661 653L1662 652.1L1663 651.4L1664 650.8L1665 650.3L1666 650L1667 649.9L1668 649.9L1669 650.1L1670 650.4L1671 650.9L1672 651.5L1673 652.3L1674 653.3L1675 654.4L1676 655.6L1677 656.9L1678 658.4L1679 660L1680 661.7L1681 663.5L1682 665.4L1683 667.3L1684 669.4L1685 671.5L1686 673.6L1687 675.8L1688 678L1689 680.3L1690 682.6L1691 684.8L1692 687.1L1693 689.4L1694 691.6L1695 693.8L1696 696L1697 698.2L1698 700.3L1699 702.3L1700 704.3L1701 706.2L1702 708.1L1703 709.9L1704 711.7L1705 713.3L1706 714.9L1707 716.5L1708 717.9L1709 719.3L1710 720.6L1711 721.9L1712 723L1713 724.1L1714 725.2L1715 726.1L1716 727L1717 727.9L1718 728.7L1719 729.4L1720 730.1L1721 730.7L1722 731.3L1723 731.8L1724 732.3L1725 732.7L1726 733.1L1727 733.5L1728 733.8L1729 734.1L1730 734.4L1731 734.7L1732 734.9L1733 735.1L1734 735.3L1735 735.4L1736 735.6L1737 735.7L1738 735.8L1739 735.9L1740 736L1741 736.1L1742 736.2L1743 736.3L1744 736.3L1745 736.4L1746 736.4L1747 736.4L1748 736.5L1749 736.5L1750 736.5L1751 736.6L1752 736.6L1753 736.6L1754 736.6L1755 736.6L1756 736.6L1757 736.7L1758 736.7L1759 736.7L1760 736.7L1761 736.7L1762 736.7L1763 736.7L1764 736.7L1765 736.7L1766 736.7L1767 736.7L1768 736.7L1769 736.7L1770 736.7L1771 736.7L1772 736.7L1773 736.7L1774 736.7L1775 736.7L1776 736.8L1777 736.8L1778 736.8L1779 736.8L1780 736.8L1781 736.8L1782 736.8L1783 736.8L1784 736.8L1785 736.8L1786 736.8L1787 736.8L1788 736.8L1789 736.8L1790 736.8L1791 736.8L1792 736.8L1793 736.8L1794 736.8L1795 736.8L1796 736.8L1797 736.8L1798 736.8L1799 736.8" fill="none" stroke="#000" stroke-width="1.4" stroke-linejoin="round" stroke-linecap="butt"/>
<path d="M1198 676.8L1204.3 676.8L1204.3 681.3L1211.2 681.3L1211.2 656.2L1215.7 656.2L1215.7 675.8L1224.5 675.8L1224.5 681.4L1228.8 681.4L1228.8 673.6L1235 673.6L1235 678.2L1242.3 678.2L1242.3 675.2L1250.5 675.2L1250.5 674.6L1254.9 674.6L1254.9 667.8L1263.6 667.8L1263.6 659.9L1272.6 659.9L1272.6 679.9L1277 679.9L1277 683.2L1281.5 683.2L1281.5 681.6L1287.7 681.6L1287.7 678.9L1292.3 678.9L1292.3 680.3L1300.3 680.3L1300.3 653.2L1308.6 653.2L1308.6 680.1L1316.5 680.1L1316.5 676.9L1321.7 676.9L1321.7 677.2L1328.1 677.2L1328.1 658.1L1336 658.1L1336 753.4L1328.1 753.4L1328.1 752.7L1321.7 752.7L1321.7 731.5L1316.5 731.5L1316.5 747.4L1308.6 747.4L1308.6 728.6L1300.3 728.6L1300.3 728.5L1292.3 728.5L1292.3 729.2L1287.7 729.2L1287.7 727.5L1281.5 727.5L1281.5 728L1277 728L1277 741.8L1272.6 741.8L1272.6 735.2L1263.6 735.2L1263.6 736.7L1254.9 736.7L1254.9 735.9L1250.5 735.9L1250.5 728.5L1242.3 728.5L1242.3 737.7L1235 737.7L1235 733.4L1228.8 733.4L1228.8 726L1224.5 726L1224.5 746.1L1215.7 746.1L1215.7 753.3L1211.2 753.3L1211.2 733.1L1204.3 733.1L1204.3 731.1L1198 731.1Z" fill="#000" stroke="#000" stroke-width="5" stroke-linejoin="round"/>
<path d="M1943 714.6L1951.4 714.6L1951.4 713.1L1956.6 713.1L1956.6 720.6L1962.1 720.6L1962.1 711.1L1968.9 711.1L1968.9 722.8L1973.9 722.8L1973.9 703.2L1979.7 703.2L1979.7 713.3L1987 713.3L1987 713.2L1995.6 713.2L1995.6 712.8L1997 712.8L1997 777.9L1995.6 777.9L1995.6 753.3L1987 753.3L1987 767.4L1979.7 767.4L1979.7 765.5L1973.9 765.5L1973.9 770.5L1968.9 770.5L1968.9 756.9L1962.1 756.9L1962.1 754L1956.6 754L1956.6 764.5L1951.4 764.5L1951.4 786.3L1943 786.3Z" fill="#000" stroke="#000" stroke-width="5" stroke-linejoin="round"/>
<path d="M1336 710.8L1337 706.3L1338 709.8L1339 707.2L1340 709.6L1341 706.7L1342 705.7L1343 707L1344 707.6L1345 707.7L1346 710.6L1347 706L1348 706.3L1349 707.2L1350 770.8L1351 770.1L1352 706L1353 708.2L1354 708.6L1355 708.6L1356 709.4L1357 704.3L1358 709.8L1359 709L1360 710.3L1361 709.7L1362 706.9L1363 709.8L1364 710.1L1365 707.1L1366 703.6L1367 732.3L1368 730.7L1369 706.7L1370 710.5L1371 715.6L1372 708.1L1373 708.5L1374 777.3L1375 776.9L1376 677.2L1377 711.3L1378 733.4L1379 732.6L1380 709.1L1381 709.8L1382 705.7L1383 708L1384 709.5L1385 751.7L1386 747.5L1387 710.1L1388 707.4L1389 709.8L1390 703.8L1391 709.3L1392 711.5L1393 708.2L1394 707.1L1395 710.9L1396 708.1L1397 711.8L1398 706.4L1399 684.9L1400 688.4L1401 746.5L1402 696.6L1403 709.2L1404 703.7L1405 723.4L1406 708.8L1407 710L1408 706.4L1409 711L1410 705L1411 711L1412 708.1L1413 706.3L1414 708.1L1415 753.4L1416 705.6L1417 681.1L1418 708.8L1419 710.2L1420 710.2L1421 707L1422 739.4L1423 695L1424 695.2L1425 708.1L1426 708.1L1427 735.2L1428 707.3L1429 710.2L1430 694.6L1431 705.8L1432 706.3L1433 710.4L1434 704.8L1435 710.1L1436 708.2L1437 709.9L1438 710L1439 712L1440 711.1L1441 710.4L1442 710.4L1443 694.9L1444 682.7L1445 717.8L1446 708L1447 694.8L1448 717.5L1449 708.5L1450 706.9L1451 708.8L1452 743.1L1453 742.9L1454 721.6L1455 707L1456 710.8L1457 706.9L1458 703.3L1459 708.9L1460 711.8L1461 707.2L1462 705.4L1463 711.3L1464 709.3L1465 705.5L1466 710.5L1467 709.6L1468 688.2L1469 690.4L1470 706.5L1471 705L1472 705.8L1473 704.6L1474 703.8L1475 708.6L1476 706L1477 704.7L1478 651.9L1479 704.9L1480 698.2L1481 701L1482 705.7L1483 704.1L1484 745.6L1485 742.4L1486 657.6L1487 701L1488 698.9L1489 697.6L1490 699.1L1491 698.9L1492 710.2L1493 703L1494 698.5L1495 738.2L1496 690.6L1497 693.8L1498 697.4L1499 692.5L1500 723.2L1501 721.4L1502 690.4L1503 688.2L1504 689.2L1505 688.3L1506 684.4L1507 685.6L1508 642.9L1509 640.3L1510 681.2L1511 678.5L1512 679.5L1513 676.8L1514 680.1L1515 683.4L1516 625L1517 669.7L1518 668.7L1519 668.5L1520 666.9L1521 626.3L1522 623.8L1523 660.8L1524 662.8L1525 659L1526 655.1L1527 655.1L1528 650.1L1529 600.7L1530 597.9L1531 643.1L1532 656.9L1533 654.1L1534 634.6L1535 655.5L1536 652.4L1537 627.7L1538 629.5L1539 624L1540 621.6L1541 621.6L1542 617L1543 616.1L1544 609.8L1545 580L1546 606.8L1547 638.9L1548 633.3L1549 596L1550 590.9L1551 617.4L1552 610.9L1553 582.9L1554 577.8L1555 610.1L1556 606.2L1557 563.4L1558 558.6L1559 561.4L1560 549.2L1561 546.8L1562 539.4L1563 539.4L1564 533.4L1565 523L1566 519.3L1567 513.1L1568 506.8L1569 537.5L1570 531.5L1571 486.6L1572 482.5L1573 457.9L1574 463L1575 477.4L1576 472.4L1577 455.1L1578 434.7L1579 424.2L1580 436L1581 431.8L1582 416.3L1583 411.5L1584 398L1585 429.2L1586 369L1587 362.9L1588 348.7L1589 337L1590 326.7L1591 329.5L1592 302.6L1593 293.3L1594 278.1L1595 197.8L1596 273.1L1597 258.7L1598 237.9L1599 224.7L1600 218.9L1601 210.4L1602 202.4L1603 193L1604 188L1605 182.2L1606 177.5L1607 170.5L1608 163.3L1609 137.9L1610 156.9L1611 150.8L1612 144.6L1613 189.5L1614 142.2L1615 143.2L1616 148L1617 152L1618 121.9L1619 160.6L1620 167.6L1621 163.3L1622 169L1623 187.7L1624 208.6L1625 214.5L1626 168.8L1627 226L1628 238.2L1629 254.5L1630 263.3L1631 273.6L1632 279.6L1633 273L1634 281.2L1635 313.9L1636 321.3L1637 331.4L1638 340.5L1639 352.1L1640 328.4L1641 374.3L1642 386.2L1643 380.1L1644 398.2L1645 402.7L1646 366.4L1647 418.8L1648 429.3L1649 441.1L1650 411.3L1651 420.4L1652 472.8L1653 479.4L1654 480.3L1655 493.1L1656 503.2L1657 503.7L1658 527L1659 531.6L1660 527.4L1661 535.2L1662 538.3L1663 513.6L1664 555.7L1665 557.8L1666 564.9L1667 567.6L1668 581.5L1669 585.5L1670 594.4L1671 596.5L1672 604L1673 609.3L1674 615.3L1675 619.3L1676 621.5L1677 628L1678 656.7L1679 660.4L1680 639.4L1681 644.4L1682 648.4L1683 652.6L1684 653.3L1685 655.1L1686 662.4L1687 668.2L1688 670.7L1689 698.1L1690 702.7L1691 675.3L1692 678.6L1693 678.7L1694 683.6L1695 691.9L1696 699.1L1697 686.8L1698 689.9L1699 697.8L1700 735.1L1701 742.1L1702 695.4L1703 703.5L1704 714.2L1705 709.7L1706 709.6L1707 711.6L1708 712.1L1709 713L1710 714.2L1711 716.4L1712 717L1713 716L1714 717.9L1715 719.5L1716 720.6L1717 721.1L1718 678.2L1719 754.5L1720 742.9L1721 742.5L1722 726.7L1723 730.1L1724 729L1725 731.3L1726 758L1727 729.3L1728 726.9L1729 731L1730 732.7L1731 731.6L1732 762.6L1733 733L1734 731.5L1735 731.1L1736 703.5L1737 793.3L1738 792.4L1739 734.3L1740 733.6L1741 731.1L1742 733.8L1743 680.3L1744 734.4L1745 734.9L1746 719.4L1747 737.7L1748 736.7L1749 736.6L1750 736.1L1751 737.4L1752 736.2L1753 737.8L1754 736.8L1755 758.2L1756 764.7L1757 737.9L1758 736.7L1759 738.1L1760 732.1L1761 737.7L1762 739.4L1763 758.8L1764 758.5L1765 738.5L1766 734.7L1767 733.7L1768 739.1L1769 737.2L1770 764.8L1771 766.6L1772 736L1773 738.9L1774 737.7L1775 735.8L1776 770.5L1777 771.2L1778 738.3L1779 736.5L1780 735.3L1781 693.4L1782 738.7L1783 737.1L1784 695.6L1785 758.7L1786 758.3L1787 736.6L1788 735.9L1789 736.6L1790 736.5L1791 722.8L1792 719.8L1793 737.9L1794 735.9L1795 737.1L1796 705.7L1797 737.5L1798 738.2L1799 736.3L1800 740.8L1801 735.8L1802 738.8L1803 738.1L1804 758.3L1805 759.4L1806 738.7L1807 769.6L1808 768.6L1809 737.5L1810 734L1811 758.6L1812 757.6L1813 762.8L1814 762.8L1815 737.4L1816 735.6L1817 736.4L1818 712.2L1819 708L1820 734.8L1821 735.5L1822 735.6L1823 739L1824 733.4L1825 738L1826 737.2L1827 733.5L1828 723.3L1829 727.5L1830 764.7L1831 763.3L1832 734.9L1833 739.6L1834 732.4L1835 738.3L1836 735.9L1837 735L1838 732.2L1839 706.1L1840 705.4L1841 740.2L1842 737L1843 763.5L1844 765.3L1845 771.2L1846 739.1L1847 740.4L1848 720.8L1849 720.5L1850 735.5L1851 735.3L1852 739.9L1853 735.1L1854 736.1L1855 738.8L1856 758.1L1857 754.9L1858 707.6L1859 706.8L1860 735.1L1861 742.5L1862 771.5L1863 769.1L1864 738L1865 737L1866 764.7L1867 765.9L1868 733.4L1869 734.5L1870 734.7L1871 736.2L1872 734.7L1873 724L1874 723L1875 737.1L1876 708.4L1877 708.7L1878 739.3L1879 737.7L1880 737.3L1881 738.1L1882 737.6L1883 738.2L1884 740.9L1885 737.7L1886 709L1887 707.1L1888 741.3L1889 732.2L1890 736.8L1891 749.8L1892 748.5L1893 736.1L1894 751.4L1895 739.3L1896 736.8L1897 735L1898 737.7L1899 693L1900 687.2L1901 739.6L1902 737.4L1903 735L1904 739.2L1905 735.8L1906 735.6L1907 736.6L1908 737.8L1909 737.8L1910 740.2L1911 737.4L1912 757L1913 737.9L1914 732.2L1915 735.9L1916 735.6L1917 691.5L1918 694.5L1919 736.7L1920 735.8L1921 738.7L1922 757.3L1923 736.5L1924 737.7L1925 739.7L1926 735.4L1927 735.3L1928 776.5L1929 735.9L1930 738L1931 736.5L1932 737L1933 734.8L1934 735.5L1935 712.3L1936 711.8L1937 731L1938 741.3L1939 741.4L1940 738.6L1941 734.6L1942 737.7" fill="none" stroke="#000" stroke-width="1.2" stroke-linejoin="round" stroke-linecap="butt"/>
<path d="M1336.5 705.9L1337.5 749L1338.5 704.3L1339.5 725.4L1340.5 707.3L1341.5 708.4L1342.5 711.8L1343.5 704.1L1344.5 706.9L1345.5 728.8L1346.5 731.4L1347.5 695L1348.5 705.4L1349.5 662.7L1350.5 709.2L1351.5 711.1L1352.5 688.7L1353.5 686.2L1354.5 719.4L1355.5 717.5L1356.5 751.9L1357.5 755L1358.5 708.2L1359.5 707.5L1360.5 677L1361.5 678.9L1362.5 703.5L1363.5 708.1L1364.5 708.6L1365.5 710.9L1366.5 707.4L1367.5 712.1L1368.5 710.1L1369.5 707.5L1370.5 707.6L1371.5 708.6L1372.5 703.7L1373.5 710.2L1374.5 707.7L1375.5 707L1376.5 750.2L1377.5 751.9L1378.5 704.9L1379.5 711.8L1380.5 687.8L1381.5 710.9L1382.5 708.8L1383.5 708.3L1384.5 707L1385.5 710.1L1386.5 704.2L1387.5 705.2L1388.5 705.5L1389.5 710.7L1390.5 709.2L1391.5 708.4L1392.5 707.7L1393.5 707.3L1394.5 707.7L1395.5 709.3L1396.5 709.5L1397.5 709.1L1398.5 708.4L1399.5 707L1400.5 708.7L1401.5 707.5L1402.5 668.1L1403.5 666.7L1404.5 710.5L1405.5 671L1406.5 670L1407.5 682.1L1408.5 681.6L1409.5 709.9L1410.5 709.1L1411.5 704.8L1412.5 668.6L1413.5 709.6L1414.5 712L1415.5 704.7L1416.5 696.5L1417.5 757.7L1418.5 709L1419.5 708.2L1420.5 692.3L1421.5 689.4L1422.5 708.9L1423.5 706.6L1424.5 707.8L1425.5 707.7L1426.5 711.9L1427.5 706.7L1428.5 709.8L1429.5 708.2L1430.5 709L1431.5 735.9L1432.5 737.5L1433.5 710L1434.5 709.3L1435.5 712.2L1436.5 731.1L1437.5 707.1L1438.5 710.9L1439.5 706.9L1440.5 707.2L1441.5 705.6L1442.5 718.7L1443.5 708.6L1444.5 707.6L1445.5 709.9L1446.5 754.4L1447.5 755.9L1448.5 705.8L1449.5 645.8L1450.5 713.6L1451.5 709.7L1452.5 712.3L1453.5 709.1L1454.5 713.5L1455.5 671.8L1456.5 671.3L1457.5 708.1L1458.5 709.4L1459.5 709.9L1460.5 709.4L1461.5 708L1462.5 690.6L1463.5 708.7L1464.5 705.2L1465.5 749.9L1466.5 749L1467.5 706.7L1468.5 704L1469.5 705L1470.5 671.6L1471.5 673.6L1472.5 707.7L1473.5 708L1474.5 704.1L1475.5 707.4L1476.5 703.4L1477.5 703.9L1478.5 704.2L1479.5 702.9L1480.5 702.5L1481.5 664.5L1482.5 663.4L1483.5 697.6L1484.5 700.2L1485.5 700.2L1486.5 701.3L1487.5 718.9L1488.5 698.3L1489.5 655.4L1490.5 654.2L1491.5 698.5L1492.5 698.9L1493.5 699.4L1494.5 698.6L1495.5 698.3L1496.5 693.5L1497.5 693.8L1498.5 691.8L1499.5 692.5L1500.5 719.3L1501.5 720L1502.5 715.6L1503.5 710.6L1504.5 647.9L1505.5 687.1L1506.5 683.9L1507.5 681.4L1508.5 688.5L1509.5 684.4L1510.5 681.8L1511.5 682.4L1512.5 681L1513.5 676.5L1514.5 676.3L1515.5 717.8L1516.5 643.9L1517.5 647.1L1518.5 671.9L1519.5 660.2L1520.5 666.7L1521.5 663L1522.5 661.8L1523.5 687.1L1524.5 684.7L1525.5 654.2L1526.5 628.7L1527.5 634.2L1528.5 654.4L1529.5 646.5L1530.5 648.1L1531.5 643.8L1532.5 639.1L1533.5 637.1L1534.5 663.2L1535.5 664.2L1536.5 624.2L1537.5 625.3L1538.5 626.4L1539.5 586L1540.5 583.3L1541.5 618.2L1542.5 615.9L1543.5 610.7L1544.5 608.7L1545.5 605.6L1546.5 604.5L1547.5 613L1548.5 598.1L1549.5 597.6L1550.5 591.2L1551.5 603.1L1552.5 588.2L1553.5 579.5L1554.5 576.1L1555.5 572.6L1556.5 570L1557.5 560.9L1558.5 562.6L1559.5 556.9L1560.5 552.6L1561.5 545.6L1562.5 538.1L1563.5 534.6L1564.5 527.1L1565.5 549.7L1566.5 503.8L1567.5 512.9L1568.5 504.8L1569.5 498.8L1570.5 492.5L1571.5 484.1L1572.5 474.1L1573.5 474.9L1574.5 470.3L1575.5 478.2L1576.5 474.1L1577.5 455.9L1578.5 445.5L1579.5 439.7L1580.5 434.1L1581.5 405.5L1582.5 433.5L1583.5 404.8L1584.5 389.3L1585.5 375.3L1586.5 406.7L1587.5 352.6L1588.5 377L1589.5 368L1590.5 319.5L1591.5 311.5L1592.5 305.2L1593.5 290L1594.5 270.7L1595.5 260.5L1596.5 253.3L1597.5 239.8L1598.5 232.7L1599.5 221.7L1600.5 210.4L1601.5 204.6L1602.5 196.4L1603.5 190.9L1604.5 186.5L1605.5 178.6L1606.5 173.2L1607.5 170.5L1608.5 164.1L1609.5 152.7L1610.5 152.9L1611.5 150.9L1612.5 145.1L1613.5 141.6L1614.5 117.8L1615.5 144.8L1616.5 153.7L1617.5 156.8L1618.5 159.9L1619.5 163L1620.5 167.8L1621.5 177.4L1622.5 181.2L1623.5 190L1624.5 196.7L1625.5 207.4L1626.5 219.8L1627.5 227.5L1628.5 247.6L1629.5 254.9L1630.5 269.7L1631.5 281L1632.5 287.7L1633.5 297L1634.5 307.9L1635.5 314.5L1636.5 326.8L1637.5 336.6L1638.5 392.7L1639.5 401.9L1640.5 364.7L1641.5 379.6L1642.5 344.9L1643.5 395.3L1644.5 398.5L1645.5 405.5L1646.5 416.8L1647.5 425.1L1648.5 432.9L1649.5 442.2L1650.5 455.4L1651.5 435.4L1652.5 446.1L1653.5 485.5L1654.5 490L1655.5 500.6L1656.5 502.7L1657.5 507.5L1658.5 556.8L1659.5 522.6L1660.5 558.9L1661.5 567.4L1662.5 543.7L1663.5 548.5L1664.5 555L1665.5 558.5L1666.5 547.2L1667.5 578.4L1668.5 585.4L1669.5 589.5L1670.5 594.8L1671.5 601.4L1672.5 619L1673.5 610.8L1674.5 620.3L1675.5 619.9L1676.5 601.5L1677.5 606.4L1678.5 651.7L1679.5 653.3L1680.5 643.9L1681.5 644.7L1682.5 647.6L1683.5 688L1684.5 692.1L1685.5 660.3L1686.5 667.3L1687.5 669.4L1688.5 667.7L1689.5 671L1690.5 656.2L1691.5 673.5L1692.5 681.6L1693.5 680.8L1694.5 681.4L1695.5 684L1696.5 688.4L1697.5 688.9L1698.5 695.5L1699.5 696.1L1700.5 695.2L1701.5 702.3L1702.5 700.4L1703.5 702.9L1704.5 703.2L1705.5 705.1L1706.5 706L1707.5 710.6L1708.5 715L1709.5 711.3L1710.5 737.1L1711.5 718.5L1712.5 718.5L1713.5 718.4L1714.5 690.4L1715.5 688.9L1716.5 720.3L1717.5 721.7L1718.5 723.3L1719.5 719.3L1720.5 688.7L1721.5 725.1L1722.5 725.2L1723.5 697.2L1724.5 697.4L1725.5 728.5L1726.5 730.6L1727.5 724.5L1728.5 729.8L1729.5 729.3L1730.5 713.8L1731.5 734.8L1732.5 730.9L1733.5 753.7L1734.5 755.9L1735.5 734.7L1736.5 665.6L1737.5 665.2L1738.5 733.8L1739.5 733.7L1740.5 735.2L1741.5 737.6L1742.5 735.8L1743.5 734.1L1744.5 731.8L1745.5 736.8L1746.5 737.1L1747.5 735.7L1748.5 739L1749.5 740.3L1750.5 732.8L1751.5 737.9L1752.5 737.2L1753.5 738L1754.5 739.4L1755.5 733.7L1756.5 736.9L1757.5 667.3L1758.5 728.8L1759.5 739.7L1760.5 800L1761.5 800L1762.5 734L1763.5 736L1764.5 739.2L1765.5 736.7L1766.5 738.4L1767.5 755.2L1768.5 756.4L1769.5 734.9L1770.5 739.3L1771.5 734.6L1772.5 736L1773.5 734.6L1774.5 734.6L1775.5 736.8L1776.5 737.9L1777.5 732.8L1778.5 668.9L1779.5 670.4L1780.5 740.6L1781.5 735.7L1782.5 733.8L1783.5 733L1784.5 735.6L1785.5 737.3L1786.5 736.3L1787.5 734.6L1788.5 736.3L1789.5 730.9L1790.5 787L1791.5 765.4L1792.5 736.3L1793.5 738L1794.5 738.9L1795.5 737.4L1796.5 739.1L1797.5 734.5L1798.5 751.8L1799.5 750.4L1800.5 734.4L1801.5 741.3L1802.5 705.5L1803.5 737.5L1804.5 737.2L1805.5 787.5L1806.5 736.8L1807.5 705.6L1808.5 709.3L1809.5 734.2L1810.5 739.5L1811.5 737.9L1812.5 739.1L1813.5 736.2L1814.5 741.4L1815.5 750.4L1816.5 739.9L1817.5 736.6L1818.5 736.5L1819.5 711.3L1820.5 709L1821.5 782.3L1822.5 778.6L1823.5 711L1824.5 734.5L1825.5 800L1826.5 800L1827.5 737.8L1828.5 737.2L1829.5 776L1830.5 772.8L1831.5 778.1L1832.5 779.6L1833.5 734.8L1834.5 747.5L1835.5 748.4L1836.5 749.7L1837.5 752.5L1838.5 735L1839.5 736.9L1840.5 767.6L1841.5 769.6L1842.5 735.3L1843.5 738L1844.5 736.6L1845.5 734.8L1846.5 739.3L1847.5 719.6L1848.5 738.1L1849.5 736.4L1850.5 737.1L1851.5 736L1852.5 738.3L1853.5 735.6L1854.5 739.1L1855.5 735.4L1856.5 738.6L1857.5 734.5L1858.5 759.2L1859.5 768.2L1860.5 713.1L1861.5 711.1L1862.5 697L1863.5 699.3L1864.5 792.1L1865.5 739.9L1866.5 738.3L1867.5 736.3L1868.5 733.1L1869.5 736.2L1870.5 738.8L1871.5 734.1L1872.5 774.3L1873.5 744.4L1874.5 737.7L1875.5 737.7L1876.5 729.6L1877.5 736.9L1878.5 736.3L1879.5 737.7L1880.5 787.5L1881.5 767.2L1882.5 765.6L1883.5 734.2L1884.5 733.6L1885.5 735.1L1886.5 736.2L1887.5 740.4L1888.5 739.3L1889.5 737.2L1890.5 734.6L1891.5 725.8L1892.5 736.9L1893.5 734.7L1894.5 737.7L1895.5 739L1896.5 735.9L1897.5 732.1L1898.5 800L1899.5 800L1900.5 734.3L1901.5 735L1902.5 734.2L1903.5 740.1L1904.5 778.5L1905.5 781L1906.5 770L1907.5 780.4L1908.5 744.5L1909.5 734.9L1910.5 739.6L1911.5 737.8L1912.5 738.2L1913.5 736.3L1914.5 694.1L1915.5 693.4L1916.5 732.8L1917.5 710.9L1918.5 737L1919.5 739.6L1920.5 772.8L1921.5 771.7L1922.5 734L1923.5 727.2L1924.5 726L1925.5 735.5L1926.5 782L1927.5 734.4L1928.5 734.8L1929.5 739L1930.5 736.6L1931.5 735.4L1932.5 738L1933.5 734.7L1934.5 740.1L1935.5 738.1L1936.5 735.4L1937.5 736.6L1938.5 737.9L1939.5 736.4L1940.5 725.3L1941.5 727.2L1942.5 737.1" fill="none" stroke="#000" stroke-width="1.2" stroke-linejoin="round" stroke-linecap="butt"/>
<path d="M1539.9 630.4L1540.9 629.5L1541.9 615.9L1542.9 593.1L1543.9 617.5L1544.9 592L1545.9 622.7L1546.9 615.6L1547.9 588.6L1548.9 598.4L1549.9 588.3L1550.9 588.1L1551.9 598.9L1552.9 566.4L1553.9 582.1L1554.9 573.9L1555.9 571.2L1556.9 553.8L1557.9 559L1558.9 556.5L1559.9 550.5L1560.9 549.1L1561.9 568.2L1562.9 551.8L1563.9 533.4L1564.9 516.6L1565.9 521.6L1566.9 515.6L1567.9 504.8L1568.9 486.1L1569.9 493.7L1570.9 497.8L1571.9 483.8L1572.9 484.4L1573.9 471.9L1574.9 467.5L1575.9 462.3L1576.9 459.1L1577.9 454.2L1578.9 448.9L1579.9 438.3L1580.9 453.2L1581.9 421.3L1582.9 411.8L1583.9 380.4L1584.9 388.5L1585.9 385.5L1586.9 377L1587.9 346.4L1588.9 349.9L1589.9 333.4L1590.9 296.2L1591.9 318.3L1592.9 310L1593.9 282L1594.9 273.2L1595.9 249.2L1596.9 248.2L1597.9 258.9L1598.9 226.4L1599.9 227.9L1600.9 208.6L1601.9 199.7L1602.9 190.8L1603.9 185.9L1604.9 175.6L1605.9 178.7L1606.9 153L1607.9 142.9L1608.9 161.5L1609.9 165.3L1610.9 134.5L1611.9 148.4L1612.9 144.8L1613.9 147.5L1614.9 160.1L1615.9 138.2L1616.9 141.5L1617.9 155.5L1618.9 171.1L1619.9 180.6L1620.9 161L1621.9 175.2L1622.9 169.6L1623.9 193.7L1624.9 186.1L1625.9 212.5L1626.9 219.7L1627.9 235.9L1628.9 251.8L1629.9 263.5L1630.9 254.5L1631.9 277.7L1632.9 293.2L1633.9 294.2L1634.9 311.7L1635.9 306.7L1636.9 329.5L1637.9 360.9L1638.9 355.2L1639.9 361.5L1640.9 372.4L1641.9 384.9L1642.9 390.2L1643.9 406.4L1644.9 378.2L1645.9 419.6L1646.9 420.5L1647.9 441.7L1648.9 439.9L1649.9 452.9L1650.9 458.6L1651.9 484.6L1652.9 478.1L1653.9 485.6L1654.9 498.4L1655.9 477.3L1656.9 514.5L1657.9 513.5L1658.9 493.5L1659.9 524.5L1660.9 532.1L1661.9 535.5L1662.9 527.4L1663.9 546L1664.9 559.5L1665.9 567.5L1666.9 576.7L1667.9 578.3L1668.9 585.8L1669.9 592.2L1670.9 598.5L1671.9 589.5L1672.9 608.5L1673.9 611.3L1674.9 620L1675.9 621.7L1676.9 608.5L1677.9 634.5L1678.9 637L1679.9 642.5L1680.9 644.3L1681.9 656.1L1682.9 670.4L1683.9 655L1684.9 662.2L1685.9 661.9L1686.9 663.1L1687.9 685.7L1688.9 646.3" fill="none" stroke="#000" stroke-width="1.2" stroke-linejoin="round" stroke-linecap="butt"/>
<path d="M1539.7 622.1L1540.7 624.2L1541.7 617L1542.7 617.9L1543.7 612.6L1544.7 608L1545.7 589.2L1546.7 602.3L1547.7 602.6L1548.7 594.6L1549.7 595.7L1550.7 601.8L1551.7 586L1552.7 602.4L1553.7 591.7L1554.7 562.9L1555.7 568.6L1556.7 559.1L1557.7 586.5L1558.7 573.4L1559.7 549.3L1560.7 570.9L1561.7 548.9L1562.7 535.8L1563.7 531.6L1564.7 548.6L1565.7 526.2L1566.7 499.6L1567.7 510.6L1568.7 489.4L1569.7 485.3L1570.7 481.3L1571.7 500.8L1572.7 454.2L1573.7 476.4L1574.7 463.4L1575.7 461.2L1576.7 484.2L1577.7 438.9L1578.7 443L1579.7 440.7L1580.7 450.5L1581.7 398L1582.7 410.5L1583.7 383.2L1584.7 373.8L1585.7 365.7L1586.7 349.8L1587.7 348.9L1588.7 319.7L1589.7 331.5L1590.7 321.8L1591.7 292.1L1592.7 296.7L1593.7 290.6L1594.7 284.5L1595.7 284.5L1596.7 234.7L1597.7 257.3L1598.7 232.5L1599.7 196.6L1600.7 210.8L1601.7 227.8L1602.7 198.4L1603.7 214.1L1604.7 188.3L1605.7 177.5L1606.7 184L1607.7 184.2L1608.7 163.4L1609.7 178L1610.7 143.5L1611.7 144.8L1612.7 146L1613.7 142L1614.7 139.3L1615.7 161.2L1616.7 146.3L1617.7 155.2L1618.7 137.7L1619.7 165.7L1620.7 164.2L1621.7 178.7L1622.7 188.9L1623.7 190.6L1624.7 197.9L1625.7 208.2L1626.7 237L1627.7 236.4L1628.7 255L1629.7 256.1L1630.7 251L1631.7 274.9L1632.7 289.3L1633.7 299.4L1634.7 329.5L1635.7 317.6L1636.7 328.4L1637.7 341L1638.7 349.4L1639.7 355.4L1640.7 365.1L1641.7 381.1L1642.7 382.4L1643.7 393.4L1644.7 423L1645.7 409.9L1646.7 438.3L1647.7 424.9L1648.7 450.2L1649.7 451.6L1650.7 480L1651.7 470.7L1652.7 500.2L1653.7 483.4L1654.7 491.6L1655.7 520.8L1656.7 504.1L1657.7 510.9L1658.7 518L1659.7 516.3L1660.7 534.4L1661.7 538.3L1662.7 535.5L1663.7 550.1L1664.7 557.7L1665.7 563.1L1666.7 562.8L1667.7 576.8L1668.7 568.9L1669.7 581.2L1670.7 614.1L1671.7 623.4L1672.7 598.6L1673.7 591L1674.7 614.2L1675.7 619L1676.7 624.4L1677.7 630.6L1678.7 637.3L1679.7 616.7L1680.7 643.5L1681.7 669.5L1682.7 651.1L1683.7 652.1L1684.7 655.9L1685.7 659.4L1686.7 687.3L1687.7 666.4L1688.7 654.7" fill="none" stroke="#000" stroke-width="1.2" stroke-linejoin="round" stroke-linecap="butt"/>
<path d="M1339.6 708.2L1352.8 708.2L1365.6 708.3L1377.9 708.4L1389.4 708.4L1400 708.5L1409.8 708.6L1419 708.7L1427.6 708.8L1435.6 708.9L1442.9 709L1449.5 709L1455.2 709L1460 709L1463.6 708.9L1465.8 708.9L1467 708.8L1467.6 708.8L1467.8 708.6L1468.1 708.3L1468.7 708L1470 707.5L1471.9 706.9L1474 706.2L1476.3 705.5L1478.7 704.6L1481.2 703.6L1483.7 702.5L1486.2 701.3L1488.6 700L1491 698.5L1493.4 697L1495.9 695.3L1498.4 693.5L1500.8 691.6L1503.2 689.6L1505.5 687.4L1507.7 685L1509.8 682.5L1511.8 679.8L1513.8 676.9L1515.7 673.9L1517.6 670.8L1519.4 667.6L1521.2 664.3L1523 661L1524.8 657.7L1526.5 654.3L1528.1 650.9L1529.8 647.4L1531.4 643.8L1533 640L1534.6 636.1L1536.3 632L1538 627.7L1539.7 623.1L1541.5 618.4L1543.2 613.6L1545 608.6L1546.6 603.7L1548.2 598.8L1549.7 594L1551.1 589.2L1552.4 584.5L1553.6 579.8L1554.8 575L1556 570.2L1557.1 565.5L1558.1 560.8L1559.2 556L1560.2 551.2L1561.2 546.5L1562.2 541.8L1563.1 537L1564 532.2L1564.8 527.5L1565.7 522.8L1566.5 518L1567.3 513.2L1568.1 508.3L1568.8 503.4L1569.5 498.5L1570.2 493.7L1570.9 488.9L1571.6 484.4L1572.3 480L1573 476L1573.8 472.4L1574.6 469L1575.3 465.6L1576.1 462.2L1576.8 458.6L1577.6 454.6L1578.3 450L1579 444.8L1579.7 439.2L1580.5 433.1L1581.2 426.9L1581.9 420.5L1582.5 414.1L1583.1 407.9L1583.7 402L1584.2 396.3L1584.6 390.7L1585 385.2L1585.4 379.7L1585.7 374.3L1586.1 368.8L1586.5 363.4L1586.9 358L1587.4 352.6L1587.9 347.2L1588.5 341.8L1589 336.4L1589.6 331.1L1590.2 325.7L1590.7 320.4L1591.2 315L1591.7 309.5L1592.1 304L1592.5 298.4L1592.9 292.8L1593.3 287.3L1593.7 282L1594.1 276.8L1594.5 272L1594.9 267.5L1595.3 263.2L1595.7 259.2L1596.1 255.3L1596.5 251.5L1596.9 247.7L1597.3 243.9L1597.7 240L1598.1 236L1598.4 232L1598.8 228L1599.2 224.1L1599.5 220.1L1599.9 216.1L1600.4 212L1600.9 208L1601.5 203.8L1602.1 199.5L1602.8 195.1L1603.6 190.8L1604.3 186.5L1605 182.4L1605.7 178.5L1606.3 175L1606.8 171.8L1607.3 168.9L1607.8 166.2L1608.2 163.7L1608.7 161.3L1609.1 159.1L1609.5 157L1610 155L1610.5 153L1610.9 150.9L1611.4 148.9L1611.9 147L1612.4 145.4L1612.9 144.1L1613.3 143.3L1613.8 143L1614.3 143.3L1614.7 144.1L1615.2 145.4L1615.7 147L1616.1 148.9L1616.6 150.9L1617 153L1617.5 155L1618 157L1618.4 159.1L1618.9 161.4L1619.4 163.7L1619.8 166.2L1620.3 168.9L1620.8 171.9L1621.3 175L1621.8 178.4L1622.4 182L1622.9 185.7L1623.5 189.7L1624 193.9L1624.6 198.2L1625.1 202.7L1625.6 207.3L1626 212.2L1626.5 217.3L1626.8 222.6L1627.2 228.1L1627.6 233.7L1627.9 239.3L1628.4 244.9L1628.8 250.3L1629.3 255.7L1629.8 261L1630.3 266.4L1630.9 271.7L1631.4 277.1L1632 282.5L1632.6 287.8L1633.1 293.2L1633.6 298.6L1634.2 303.9L1634.7 309.3L1635.2 314.7L1635.8 320.1L1636.3 325.5L1636.9 330.8L1637.4 336.2L1637.9 341.6L1638.5 347.2L1639 352.8L1639.6 358.3L1640.1 363.8L1640.6 369.1L1641.2 374.3L1641.7 379.1L1642.2 383.6L1642.8 387.9L1643.3 391.9L1643.9 395.8L1644.4 399.6L1645 403.4L1645.5 407.3L1646 411.3L1646.5 415.4L1646.9 419.6L1647.4 423.8L1647.8 428.1L1648.2 432.3L1648.7 436.6L1649.1 440.8L1649.5 445L1649.9 449.1L1650.3 453.2L1650.6 457.3L1651 461.3L1651.3 465.4L1651.7 469.6L1652.2 473.8L1652.7 478.2L1653.3 482.7L1654 487.4L1654.7 492.1L1655.4 496.9L1656.2 501.8L1657 506.7L1657.8 511.5L1658.5 516.3L1659.2 521.1L1659.9 525.8L1660.6 530.6L1661.4 535.4L1662.1 540.2L1662.8 544.9L1663.5 549.7L1664.2 554.5L1664.9 559.3L1665.6 564.1L1666.3 568.8L1666.9 573.6L1667.6 578.4L1668.3 583.2L1669.1 587.9L1669.9 592.7L1670.7 597.5L1671.6 602.3L1672.5 607.2L1673.5 612L1674.4 616.8L1675.4 621.5L1676.4 626.2L1677.5 630.8L1678.6 635.4L1679.8 639.9L1681 644.5L1682.2 648.9L1683.4 653.3L1684.7 657.5L1685.9 661.5L1687.1 665.2L1688.3 668.6L1689.4 671.7L1690.6 674.6L1691.7 677.4L1692.9 680L1694.1 682.6L1695.3 685.3L1696.6 688.1L1697.9 691L1699.2 694L1700.6 696.9L1702 699.9L1703.4 702.8L1704.9 705.7L1706.5 708.4L1708.1 711L1709.8 713.5L1711.5 715.9L1713.4 718.3L1715.2 720.6L1717.2 722.7L1719.1 724.7L1721.2 726.5L1723.3 728.1L1725.5 729.5L1727.7 730.6L1730 731.6L1732.4 732.4L1734.8 733.1L1737.3 733.7L1739.8 734.3L1742.4 734.8L1744.7 735.3L1746.4 735.6L1748 735.9L1749.8 736.1L1752 736.3L1755.1 736.4L1759.5 736.6L1765.3 736.7L1772.5 736.8L1780.6 736.9L1789.8 736.9L1799.8 737L1810.9 737L1822.9 737L1836 737L1850 737L1866.5 737L1886 737L1907.4 737L1929.3 737" fill="none" stroke="#000" stroke-width="7" stroke-linejoin="round" stroke-linecap="butt"/>
<text x="1810" y="235.6" font-size="80" font-weight="normal" font-style="italic" fill="#000">L</text>
<text x="1385" y="511" font-size="80" font-weight="normal" font-style="italic" fill="#000" textLength="73.5" lengthAdjust="spacingAndGlyphs">M</text>
<text x="1810" y="604.2" font-size="80" font-weight="normal" font-style="italic" fill="#000" textLength="56" lengthAdjust="spacingAndGlyphs">K</text>
<path d="M1808 221L1619.6 404.4" fill="none" stroke="#000" stroke-width="1.5" stroke-linejoin="round" stroke-linecap="butt"/>
<path d="M1434.6 529.9L1548.7 643.2" fill="none" stroke="#000" stroke-width="1.5" stroke-linejoin="round" stroke-linecap="butt"/>
<path d="M1810.2 573.7L1683.3 696.7" fill="none" stroke="#000" stroke-width="1.5" stroke-linejoin="round" stroke-linecap="butt"/>
<path d="M1450 1390.5L1451 1390.5L1452 1390.5L1453 1390.5L1454 1390.5L1455 1390.5L1456 1390.5L1457 1390.5L1458 1390.5L1459 1390.5L1460 1390.5L1461 1390.5L1462 1390.5L1463 1390.5L1464 1390.5L1465 1390.5L1466 1390.6L1467 1390.6L1468 1390.6L1469 1390.6L1470 1390.6L1471 1390.6L1472 1390.6L1473 1390.6L1474 1390.6L1475 1390.6L1476 1390.6L1477 1390.6L1478 1390.6L1479 1390.6L1480 1390.6L1481 1390.6L1482 1390.6L1483 1390.6L1484 1390.6L1485 1390.6L1486 1390.6L1487 1390.6L1488 1390.7L1489 1390.7L1490 1390.7L1491 1390.7L1492 1390.7L1493 1390.7L1494 1390.7L1495 1390.7L1496 1390.7L1497 1390.7L1498 1390.7L1499 1390.7L1500 1390.8L1501 1390.8L1502 1390.8L1503 1390.8L1504 1390.8L1505 1390.8L1506 1390.8L1507 1390.8L1508 1390.9L1509 1390.9L1510 1390.9L1511 1390.9L1512 1390.9L1513 1391L1514 1391L1515 1391L1516 1391L1517 1391L1518 1391.1L1519 1391.1L1520 1391.1L1521 1391.2L1522 1391.2L1523 1391.2L1524 1391.3L1525 1391.3L1526 1391.3L1527 1391.4L1528 1391.4L1529 1391.4L1530 1391.5L1531 1391.5L1532 1391.6L1533 1391.6L1534 1391.7L1535 1391.7L1536 1391.8L1537 1391.8L1538 1391.9L1539 1392L1540 1392L1541 1392.1L1542 1392.1L1543 1392.2L1544 1392.3L1545 1392.4L1546 1392.4L1547 1392.5L1548 1392.6L1549 1392.7L1550 1392.8L1551 1392.8L1552 1392.9L1553 1393L1554 1393.1L1555 1393.2L1556 1393.3L1557 1393.4L1558 1393.5L1559 1393.7L1560 1393.8L1561 1393.9L1562 1394L1563 1394.1L1564 1394.3L1565 1394.4L1566 1394.6L1567 1394.7L1568 1394.8L1569 1395L1570 1395.2L1571 1395.3L1572 1395.5L1573 1395.7L1574 1395.9L1575 1396.1L1576 1396.3L1577 1396.5L1578 1396.7L1579 1396.9L1580 1397.1L1581 1397.3L1582 1397.6L1583 1397.8L1584 1398.1L1585 1398.4L1586 1398.6L1587 1398.9L1588 1399.2L1589 1399.5L1590 1399.8L1591 1400.1L1592 1400.4L1593 1400.7L1594 1401L1595 1401.4L1596 1401.7L1597 1402.1L1598 1402.4L1599 1402.8L1600 1403.2L1601 1403.5L1602 1403.9L1603 1404.3L1604 1404.7L1605 1405.1L1606 1405.5L1607 1405.8L1608 1406.2L1609 1406.6L1610 1407L1611 1407.4L1612 1407.8L1613 1408.2L1614 1408.6L1615 1409L1616 1409.4L1617 1409.8L1618 1410.2L1619 1410.6L1620 1410.9L1621 1411.3L1622 1411.7L1623 1412L1624 1412.4L1625 1412.7L1626 1413.1L1627 1413.4L1628 1413.8L1629 1414.1L1630 1414.4L1631 1414.7L1632 1415L1633 1415.3L1634 1415.6L1635 1415.9L1636 1416.1L1637 1416.4L1638 1416.6L1639 1416.9L1640 1417.1L1641 1417.4L1642 1417.6L1643 1417.8L1644 1418L1645 1418.3L1646 1418.5L1647 1418.7L1648 1418.8L1649 1419L1650 1419.2L1651 1419.4L1652 1419.6L1653 1419.7L1654 1419.9L1655 1420L1656 1420.2L1657 1420.3L1658 1420.5L1659 1420.6L1660 1420.7L1661 1420.9L1662 1421L1663 1421.1L1664 1421.2L1665 1421.4L1666 1421.5L1667 1421.6L1668 1421.7L1669 1421.8L1670 1421.9L1671 1422L1672 1422.1L1673 1422.2L1674 1422.3L1675 1422.4L1676 1422.4L1677 1422.5L1678 1422.6L1679 1422.7L1680 1422.8L1681 1422.8L1682 1422.9L1683 1423L1684 1423L1685 1423.1L1686 1423.2L1687 1423.2L1688 1423.3L1689 1423.3L1690 1423.4L1691 1423.4L1692 1423.5L1693 1423.5L1694 1423.6L1695 1423.6L1696 1423.6L1697 1423.7L1698 1423.7L1699 1423.8L1700 1423.8L1701 1423.8L1702 1423.8L1703 1423.9L1704 1423.9L1705 1423.9L1706 1424L1707 1424L1708 1424L1709 1424L1710 1424L1711 1424.1L1712 1424.1L1713 1424.1L1714 1424.1L1715 1424.1L1716 1424.1L1717 1424.1L1718 1424.2L1719 1424.2L1720 1424.2L1721 1424.2L1722 1424.2L1723 1424.2L1724 1424.2L1725 1424.2L1726 1424.2L1727 1424.2L1728 1424.2L1729 1424.3L1730 1424.3L1731 1424.3L1732 1424.3L1733 1424.3L1734 1424.3L1735 1424.3L1736 1424.3L1737 1424.3L1738 1424.3L1739 1424.3L1740 1424.3L1741 1424.3L1742 1424.3L1743 1424.3L1744 1424.3L1745 1424.3L1746 1424.3L1747 1424.3L1748 1424.3L1749 1424.4L1750 1424.4L1751 1424.4L1752 1424.4L1753 1424.4L1754 1424.4L1755 1424.4L1756 1424.4L1757 1424.4L1758 1424.4L1759 1424.4L1760 1424.4L1761 1424.4L1762 1424.4L1763 1424.4L1764 1424.4L1765 1424.4L1766 1424.4L1767 1424.4L1768 1424.4L1769 1424.4L1770 1424.4L1771 1424.4L1772 1424.4L1773 1424.4L1774 1424.4L1775 1424.4L1776 1424.4L1777 1424.4L1778 1424.4L1779 1424.5L1780 1424.5L1781 1424.5L1782 1424.5L1783 1424.5L1784 1424.5L1785 1424.5L1786 1424.5L1787 1424.5L1788 1424.5L1789 1424.5L1790 1424.5L1791 1424.5L1792 1424.5L1793 1424.5L1794 1424.5L1795 1424.5L1796 1424.5L1797 1424.5L1798 1424.5L1799 1424.5" fill="none" stroke="#000" stroke-width="1.4" stroke-linejoin="round" stroke-linecap="butt"/>
<path d="M1450 1386.1L1451 1386.1L1452 1386L1453 1386L1454 1385.9L1455 1385.8L1456 1385.8L1457 1385.7L1458 1385.7L1459 1385.6L1460 1385.6L1461 1385.5L1462 1385.4L1463 1385.4L1464 1385.3L1465 1385.2L1466 1385.2L1467 1385.1L1468 1385L1469 1385L1470 1384.9L1471 1384.8L1472 1384.7L1473 1384.7L1474 1384.6L1475 1384.5L1476 1384.4L1477 1384.3L1478 1384.3L1479 1384.2L1480 1384.1L1481 1384L1482 1383.9L1483 1383.8L1484 1383.7L1485 1383.6L1486 1383.5L1487 1383.4L1488 1383.3L1489 1383.2L1490 1383.1L1491 1382.9L1492 1382.8L1493 1382.7L1494 1382.6L1495 1382.4L1496 1382.3L1497 1382.2L1498 1382L1499 1381.9L1500 1381.7L1501 1381.6L1502 1381.4L1503 1381.2L1504 1381.1L1505 1380.9L1506 1380.7L1507 1380.5L1508 1380.3L1509 1380.1L1510 1379.8L1511 1379.6L1512 1379.3L1513 1379.1L1514 1378.8L1515 1378.5L1516 1378.1L1517 1377.8L1518 1377.4L1519 1377L1520 1376.6L1521 1376.2L1522 1375.7L1523 1375.2L1524 1374.6L1525 1374L1526 1373.4L1527 1372.7L1528 1372L1529 1371.2L1530 1370.3L1531 1369.3L1532 1368.3L1533 1367.2L1534 1366.1L1535 1364.8L1536 1363.4L1537 1362L1538 1360.4L1539 1358.7L1540 1356.8L1541 1354.8L1542 1352.7L1543 1350.4L1544 1348L1545 1345.3L1546 1342.5L1547 1339.5L1548 1336.3L1549 1332.9L1550 1329.2L1551 1325.3L1552 1321.2L1553 1316.8L1554 1312.1L1555 1307.2L1556 1302L1557 1296.5L1558 1290.7L1559 1284.5L1560 1278.1L1561 1271.4L1562 1264.3L1563 1256.9L1564 1249.2L1565 1241.1L1566 1232.8L1567 1224.1L1568 1215L1569 1205.6L1570 1196L1571 1186L1572 1175.7L1573 1165.1L1574 1154.2L1575 1143.1L1576 1131.7L1577 1120.1L1578 1108.3L1579 1096.2L1580 1084L1581 1071.7L1582 1059.3L1583 1046.7L1584 1034.2L1585 1021.6L1586 1009L1587 996.4L1588 984L1589 971.6L1590 959.5L1591 947.5L1592 935.8L1593 924.4L1594 913.3L1595 902.7L1596 892.4L1597 882.7L1598 873.4L1599 864.8L1600 856.7L1601 849.3L1602 842.6L1603 836.7L1604 831.5L1605 827.1L1606 823.5L1607 820.8L1608 819L1609 818.1L1610 818L1611 818.8L1612 820.6L1613 823.2L1614 826.7L1615 831L1616 836.2L1617 842.2L1618 848.9L1619 856.3L1620 864.5L1621 873.3L1622 882.7L1623 892.6L1624 903.1L1625 914L1626 925.4L1627 937.1L1628 949.2L1629 961.5L1630 974.1L1631 986.8L1632 999.8L1633 1012.8L1634 1025.9L1635 1039.1L1636 1052.2L1637 1065.3L1638 1078.3L1639 1091.3L1640 1104.1L1641 1116.7L1642 1129.2L1643 1141.4L1644 1153.5L1645 1165.3L1646 1176.8L1647 1188.1L1648 1199L1649 1209.7L1650 1220L1651 1230L1652 1239.7L1653 1249.1L1654 1258.1L1655 1266.8L1656 1275.1L1657 1283.1L1658 1290.8L1659 1298.1L1660 1305.1L1661 1311.8L1662 1318.1L1663 1324.1L1664 1329.9L1665 1335.3L1666 1340.5L1667 1345.3L1668 1349.9L1669 1354.2L1670 1358.3L1671 1362.2L1672 1365.8L1673 1369.2L1674 1372.3L1675 1375.3L1676 1378.1L1677 1380.7L1678 1383.2L1679 1385.4L1680 1387.5L1681 1389.5L1682 1391.4L1683 1393.1L1684 1394.7L1685 1396.2L1686 1397.6L1687 1398.8L1688 1400L1689 1401.1L1690 1402.2L1691 1403.1L1692 1404L1693 1404.9L1694 1405.6L1695 1406.4L1696 1407L1697 1407.6L1698 1408.2L1699 1408.8L1700 1409.3L1701 1409.8L1702 1410.2L1703 1410.6L1704 1411L1705 1411.4L1706 1411.7L1707 1412.1L1708 1412.4L1709 1412.7L1710 1413L1711 1413.2L1712 1413.5L1713 1413.7L1714 1414L1715 1414.2L1716 1414.4L1717 1414.6L1718 1414.8L1719 1415L1720 1415.1L1721 1415.3L1722 1415.5L1723 1415.6L1724 1415.8L1725 1416L1726 1416.1L1727 1416.2L1728 1416.4L1729 1416.5L1730 1416.6L1731 1416.8L1732 1416.9L1733 1417L1734 1417.1L1735 1417.2L1736 1417.4L1737 1417.5L1738 1417.6L1739 1417.7L1740 1417.8L1741 1417.9L1742 1418L1743 1418.1L1744 1418.2L1745 1418.3L1746 1418.3L1747 1418.4L1748 1418.5L1749 1418.6L1750 1418.7L1751 1418.8L1752 1418.8L1753 1418.9L1754 1419L1755 1419.1L1756 1419.1L1757 1419.2L1758 1419.3L1759 1419.4L1760 1419.4L1761 1419.5L1762 1419.5L1763 1419.6L1764 1419.7L1765 1419.7L1766 1419.8L1767 1419.9L1768 1419.9L1769 1420L1770 1420L1771 1420.1L1772 1420.1L1773 1420.2L1774 1420.2L1775 1420.3L1776 1420.3L1777 1420.4L1778 1420.4L1779 1420.5L1780 1420.5L1781 1420.6L1782 1420.6L1783 1420.7L1784 1420.7L1785 1420.8L1786 1420.8L1787 1420.9L1788 1420.9L1789 1420.9L1790 1421L1791 1421L1792 1421.1L1793 1421.1L1794 1421.1L1795 1421.2L1796 1421.2L1797 1421.2L1798 1421.3L1799 1421.3" fill="none" stroke="#000" stroke-width="1.4" stroke-linejoin="round" stroke-linecap="butt"/>
<path d="M1450 1390.5L1451 1390.5L1452 1390.5L1453 1390.5L1454 1390.5L1455 1390.5L1456 1390.5L1457 1390.5L1458 1390.5L1459 1390.5L1460 1390.5L1461 1390.5L1462 1390.4L1463 1390.4L1464 1390.4L1465 1390.4L1466 1390.4L1467 1390.4L1468 1390.3L1469 1390.3L1470 1390.3L1471 1390.3L1472 1390.2L1473 1390.2L1474 1390.1L1475 1390L1476 1390L1477 1389.9L1478 1389.8L1479 1389.7L1480 1389.6L1481 1389.5L1482 1389.4L1483 1389.2L1484 1389.1L1485 1388.9L1486 1388.7L1487 1388.5L1488 1388.2L1489 1388L1490 1387.7L1491 1387.4L1492 1387.1L1493 1386.7L1494 1386.3L1495 1385.9L1496 1385.4L1497 1384.9L1498 1384.4L1499 1383.8L1500 1383.2L1501 1382.5L1502 1381.9L1503 1381.1L1504 1380.3L1505 1379.5L1506 1378.6L1507 1377.7L1508 1376.7L1509 1375.7L1510 1374.6L1511 1373.5L1512 1372.3L1513 1371.1L1514 1369.8L1515 1368.5L1516 1367.2L1517 1365.8L1518 1364.3L1519 1362.9L1520 1361.4L1521 1359.8L1522 1358.3L1523 1356.7L1524 1355.1L1525 1353.4L1526 1351.8L1527 1350.2L1528 1348.6L1529 1346.9L1530 1345.3L1531 1343.7L1532 1342.2L1533 1340.6L1534 1339.2L1535 1337.7L1536 1336.3L1537 1335L1538 1333.7L1539 1332.5L1540 1331.3L1541 1330.3L1542 1329.3L1543 1328.4L1544 1327.6L1545 1326.9L1546 1326.4L1547 1325.9L1548 1325.5L1549 1325.3L1550 1325.1L1551 1325.1L1552 1325.1L1553 1325.3L1554 1325.6L1555 1326.1L1556 1326.6L1557 1327.2L1558 1328L1559 1328.8L1560 1329.8L1561 1330.9L1562 1332L1563 1333.2L1564 1334.5L1565 1335.9L1566 1337.4L1567 1338.9L1568 1340.5L1569 1342.2L1570 1343.9L1571 1345.6L1572 1347.4L1573 1349.2L1574 1351L1575 1352.9L1576 1354.8L1577 1356.6L1578 1358.5L1579 1360.4L1580 1362.2L1581 1364.1L1582 1365.9L1583 1367.8L1584 1369.5L1585 1371.3L1586 1373.1L1587 1374.8L1588 1376.4L1589 1378.1L1590 1379.7L1591 1381.2L1592 1382.7L1593 1384.2L1594 1385.6L1595 1387L1596 1388.4L1597 1389.7L1598 1390.9L1599 1392.1L1600 1393.3L1601 1394.5L1602 1395.6L1603 1396.6L1604 1397.6L1605 1398.6L1606 1399.5L1607 1400.4L1608 1401.3L1609 1402.2L1610 1403L1611 1403.7L1612 1404.5L1613 1405.2L1614 1405.9L1615 1406.5L1616 1407.2L1617 1407.8L1618 1408.4L1619 1409L1620 1409.5L1621 1410L1622 1410.5L1623 1411L1624 1411.5L1625 1411.9L1626 1412.4L1627 1412.8L1628 1413.2L1629 1413.6L1630 1414L1631 1414.3L1632 1414.7L1633 1415L1634 1415.3L1635 1415.6L1636 1415.9L1637 1416.2L1638 1416.5L1639 1416.8L1640 1417L1641 1417.3L1642 1417.5L1643 1417.8L1644 1418L1645 1418.2L1646 1418.4L1647 1418.6L1648 1418.8L1649 1419L1650 1419.2L1651 1419.4L1652 1419.5L1653 1419.7L1654 1419.9L1655 1420L1656 1420.2L1657 1420.3L1658 1420.5L1659 1420.6L1660 1420.7L1661 1420.9L1662 1421L1663 1421.1L1664 1421.2L1665 1421.4L1666 1421.5L1667 1421.6L1668 1421.7L1669 1421.8L1670 1421.9L1671 1422L1672 1422.1L1673 1422.2L1674 1422.3L1675 1422.4L1676 1422.4L1677 1422.5L1678 1422.6L1679 1422.7L1680 1422.8L1681 1422.8L1682 1422.9L1683 1423L1684 1423L1685 1423.1L1686 1423.2L1687 1423.2L1688 1423.3L1689 1423.3L1690 1423.4L1691 1423.4L1692 1423.5L1693 1423.5L1694 1423.6L1695 1423.6L1696 1423.6L1697 1423.7L1698 1423.7L1699 1423.8L1700 1423.8L1701 1423.8L1702 1423.8L1703 1423.9L1704 1423.9L1705 1423.9L1706 1424L1707 1424L1708 1424L1709 1424L1710 1424L1711 1424.1L1712 1424.1L1713 1424.1L1714 1424.1L1715 1424.1L1716 1424.1L1717 1424.1L1718 1424.2L1719 1424.2L1720 1424.2L1721 1424.2L1722 1424.2L1723 1424.2L1724 1424.2L1725 1424.2L1726 1424.2L1727 1424.2L1728 1424.2L1729 1424.3L1730 1424.3L1731 1424.3L1732 1424.3L1733 1424.3L1734 1424.3L1735 1424.3L1736 1424.3L1737 1424.3" fill="none" stroke="#000" stroke-width="1.4" stroke-linejoin="round" stroke-linecap="butt"/>
<path d="M1496 1390.7L1497 1390.7L1498 1390.7L1499 1390.7L1500 1390.8L1501 1390.8L1502 1390.8L1503 1390.8L1504 1390.8L1505 1390.8L1506 1390.8L1507 1390.8L1508 1390.9L1509 1390.9L1510 1390.9L1511 1390.9L1512 1390.9L1513 1391L1514 1391L1515 1391L1516 1391L1517 1391L1518 1391.1L1519 1391.1L1520 1391.1L1521 1391.2L1522 1391.2L1523 1391.2L1524 1391.3L1525 1391.3L1526 1391.3L1527 1391.4L1528 1391.4L1529 1391.4L1530 1391.5L1531 1391.5L1532 1391.6L1533 1391.6L1534 1391.7L1535 1391.7L1536 1391.8L1537 1391.8L1538 1391.9L1539 1392L1540 1392L1541 1392.1L1542 1392.1L1543 1392.2L1544 1392.3L1545 1392.4L1546 1392.4L1547 1392.5L1548 1392.6L1549 1392.7L1550 1392.8L1551 1392.8L1552 1392.9L1553 1393L1554 1393.1L1555 1393.2L1556 1393.3L1557 1393.4L1558 1393.5L1559 1393.7L1560 1393.8L1561 1393.9L1562 1394L1563 1394.1L1564 1394.3L1565 1394.4L1566 1394.5L1567 1394.7L1568 1394.8L1569 1395L1570 1395.2L1571 1395.3L1572 1395.5L1573 1395.7L1574 1395.9L1575 1396L1576 1396.2L1577 1396.4L1578 1396.6L1579 1396.8L1580 1397.1L1581 1397.3L1582 1397.5L1583 1397.7L1584 1398L1585 1398.2L1586 1398.5L1587 1398.7L1588 1399L1589 1399.3L1590 1399.5L1591 1399.8L1592 1400L1593 1400.3L1594 1400.6L1595 1400.9L1596 1401.1L1597 1401.4L1598 1401.6L1599 1401.9L1600 1402.1L1601 1402.3L1602 1402.6L1603 1402.8L1604 1403L1605 1403.1L1606 1403.3L1607 1403.4L1608 1403.5L1609 1403.6L1610 1403.6L1611 1403.6L1612 1403.5L1613 1403.5L1614 1403.3L1615 1403.2L1616 1402.9L1617 1402.7L1618 1402.3L1619 1401.9L1620 1401.5L1621 1401L1622 1400.4L1623 1399.7L1624 1399L1625 1398.2L1626 1397.3L1627 1396.3L1628 1395.3L1629 1394.2L1630 1393L1631 1391.7L1632 1390.4L1633 1388.9L1634 1387.4L1635 1385.9L1636 1384.2L1637 1382.5L1638 1380.7L1639 1378.9L1640 1377.1L1641 1375.1L1642 1373.2L1643 1371.2L1644 1369.2L1645 1367.2L1646 1365.1L1647 1363.1L1648 1361.1L1649 1359.1L1650 1357.1L1651 1355.2L1652 1353.3L1653 1351.5L1654 1349.8L1655 1348.1L1656 1346.5L1657 1345L1658 1343.6L1659 1342.4L1660 1341.2L1661 1340.2L1662 1339.4L1663 1338.6L1664 1338L1665 1337.6L1666 1337.3L1667 1337.2L1668 1337.2L1669 1337.4L1670 1337.7L1671 1338.2L1672 1338.9L1673 1339.7L1674 1340.6L1675 1341.7L1676 1342.9L1677 1344.3L1678 1345.8L1679 1347.4L1680 1349.1L1681 1350.9L1682 1352.8L1683 1354.8L1684 1356.8L1685 1358.9L1686 1361.1L1687 1363.3L1688 1365.5L1689 1367.8L1690 1370.1L1691 1372.3L1692 1374.6L1693 1376.9L1694 1379.1L1695 1381.4L1696 1383.6L1697 1385.7L1698 1387.8L1699 1389.9L1700 1391.9L1701 1393.8L1702 1395.7L1703 1397.5L1704 1399.3L1705 1400.9L1706 1402.5L1707 1404.1L1708 1405.5L1709 1406.9L1710 1408.2L1711 1409.5L1712 1410.7L1713 1411.8L1714 1412.8L1715 1413.8L1716 1414.7L1717 1415.5L1718 1416.3L1719 1417L1720 1417.7L1721 1418.3L1722 1418.9L1723 1419.4L1724 1419.9L1725 1420.4L1726 1420.8L1727 1421.2L1728 1421.5L1729 1421.8L1730 1422.1L1731 1422.3L1732 1422.6L1733 1422.8L1734 1422.9L1735 1423.1L1736 1423.3L1737 1423.4L1738 1423.5L1739 1423.6L1740 1423.7L1741 1423.8L1742 1423.9L1743 1423.9L1744 1424L1745 1424L1746 1424.1L1747 1424.1L1748 1424.2L1749 1424.2L1750 1424.2L1751 1424.2L1752 1424.3L1753 1424.3L1754 1424.3L1755 1424.3L1756 1424.3L1757 1424.3L1758 1424.3L1759 1424.4L1760 1424.4L1761 1424.4L1762 1424.4L1763 1424.4L1764 1424.4L1765 1424.4L1766 1424.4L1767 1424.4L1768 1424.4L1769 1424.4L1770 1424.4L1771 1424.4L1772 1424.4L1773 1424.4L1774 1424.4L1775 1424.4L1776 1424.4L1777 1424.4L1778 1424.4L1779 1424.4L1780 1424.5L1781 1424.5L1782 1424.5L1783 1424.5L1784 1424.5L1785 1424.5L1786 1424.5L1787 1424.5L1788 1424.5L1789 1424.5L1790 1424.5L1791 1424.5L1792 1424.5L1793 1424.5L1794 1424.5L1795 1424.5L1796 1424.5L1797 1424.5L1798 1424.5L1799 1424.5" fill="none" stroke="#000" stroke-width="1.4" stroke-linejoin="round" stroke-linecap="butt"/>
<path d="M1198 1351L1206.6 1351L1206.6 1343.9L1212.7 1343.9L1212.7 1327.3L1219 1327.3L1219 1324.9L1226.7 1324.9L1226.7 1350.6L1233.8 1350.6L1233.8 1356.8L1240.7 1356.8L1240.7 1358.2L1248.2 1358.2L1248.2 1363.5L1253.1 1363.5L1253.1 1364.5L1257.3 1364.5L1257.3 1364.2L1263.2 1364.2L1263.2 1367.9L1268.5 1367.9L1268.5 1359.1L1273.7 1359.1L1273.7 1336.7L1278.5 1336.7L1278.5 1350.5L1285.9 1350.5L1285.9 1355L1294.9 1355L1294.9 1368.5L1299.8 1368.5L1299.8 1333.1L1305 1333.1L1305 1404L1299.8 1404L1299.8 1404.4L1294.9 1404.4L1294.9 1413.7L1285.9 1413.7L1285.9 1413.4L1278.5 1413.4L1278.5 1402.3L1273.7 1402.3L1273.7 1409.1L1268.5 1409.1L1268.5 1410.5L1263.2 1410.5L1263.2 1411.3L1257.3 1411.3L1257.3 1411.8L1253.1 1411.8L1253.1 1416.8L1248.2 1416.8L1248.2 1409.7L1240.7 1409.7L1240.7 1403L1233.8 1403L1233.8 1411.1L1226.7 1411.1L1226.7 1409.1L1219 1409.1L1219 1407.1L1212.7 1407.1L1212.7 1407.3L1206.6 1407.3L1206.6 1403L1198 1403Z" fill="#000" stroke="#000" stroke-width="5" stroke-linejoin="round"/>
<path d="M1834 1395L1842.1 1395L1842.1 1379.6L1847.8 1379.6L1847.8 1384.4L1853.8 1384.4L1853.8 1391.2L1859.3 1391.2L1859.3 1398.4L1867.5 1398.4L1867.5 1395.1L1875.6 1395.1L1875.6 1395.4L1882.3 1395.4L1882.3 1400.9L1889.9 1400.9L1889.9 1396.1L1898.3 1396.1L1898.3 1399.1L1904.4 1399.1L1904.4 1387.7L1911.1 1387.7L1911.1 1380L1915.5 1380L1915.5 1386.5L1922.9 1386.5L1922.9 1378L1928.4 1378L1928.4 1389.6L1936.5 1389.6L1936.5 1395.8L1940.9 1395.8L1940.9 1389.9L1945.5 1389.9L1945.5 1394.8L1953.8 1394.8L1953.8 1400L1960.9 1400L1960.9 1374.1L1965.7 1374.1L1965.7 1399.1L1971.1 1399.1L1971.1 1379.1L1980 1379.1L1980 1383.4L1984.7 1383.4L1984.7 1381.3L1992.6 1381.3L1992.6 1398.8L1997 1398.8L1997 1441.5L1992.6 1441.5L1992.6 1441.5L1984.7 1441.5L1984.7 1441.5L1980 1441.5L1980 1441.5L1971.1 1441.5L1971.1 1441.5L1965.7 1441.5L1965.7 1441.5L1960.9 1441.5L1960.9 1441.5L1953.8 1441.5L1953.8 1441.5L1945.5 1441.5L1945.5 1441.5L1940.9 1441.5L1940.9 1441.5L1936.5 1441.5L1936.5 1441.5L1928.4 1441.5L1928.4 1441.5L1922.9 1441.5L1922.9 1441.5L1915.5 1441.5L1915.5 1441.5L1911.1 1441.5L1911.1 1441.5L1904.4 1441.5L1904.4 1441.5L1898.3 1441.5L1898.3 1441.5L1889.9 1441.5L1889.9 1441.5L1882.3 1441.5L1882.3 1441.5L1875.6 1441.5L1875.6 1441.5L1867.5 1441.5L1867.5 1441.5L1859.3 1441.5L1859.3 1441.5L1853.8 1441.5L1853.8 1441.5L1847.8 1441.5L1847.8 1441.5L1842.1 1441.5L1842.1 1441.5L1834 1441.5Z" fill="#000" stroke="#000" stroke-width="5" stroke-linejoin="round"/>
<path d="M1985.1 1441.5L1985.1 1310Q1987.6 1304 1990.1 1310L1990.1 1441.5Z" fill="#000"/>
<path d="M1305 1388.2L1306 1388.3L1307 1388.1L1308 1392.2L1309 1388.4L1310 1393.9L1311 1391.3L1312 1391.4L1313 1391.9L1314 1390.5L1315 1388.7L1316 1389.7L1317 1373.3L1318 1390L1319 1391.7L1320 1391.7L1321 1393.3L1322 1387.3L1323 1389.4L1324 1394.9L1325 1387.2L1326 1393.5L1327 1391.5L1328 1390.5L1329 1390.2L1330 1389.8L1331 1386.9L1332 1391.3L1333 1364L1334 1366.4L1335 1367.9L1336 1365.5L1337 1387.7L1338 1390.6L1339 1391.7L1340 1389.5L1341 1392.3L1342 1388.6L1343 1357.1L1344 1362.1L1345 1392.8L1346 1427.3L1347 1381.2L1348 1389L1349 1389.6L1350 1392.6L1351 1390.9L1352 1389.1L1353 1393.3L1354 1441.5L1355 1356.5L1356 1391.6L1357 1392.3L1358 1392.7L1359 1385.7L1360 1389.7L1361 1391.5L1362 1390.9L1363 1390.7L1364 1388.8L1365 1390.7L1366 1390.9L1367 1388.4L1368 1388.6L1369 1387.5L1370 1389.7L1371 1391.2L1372 1386.4L1373 1391.4L1374 1387.1L1375 1391.7L1376 1391.7L1377 1384.3L1378 1390L1379 1375.6L1380 1376.9L1381 1392.1L1382 1363.8L1383 1364.9L1384 1369.2L1385 1391.5L1386 1386.6L1387 1390.8L1388 1369.4L1389 1368.5L1390 1388.3L1391 1425.9L1392 1389.7L1393 1389.1L1394 1386.4L1395 1386.3L1396 1391L1397 1389.5L1398 1385.1L1399 1389.3L1400 1386.5L1401 1386.7L1402 1388.4L1403 1388.8L1404 1396.4L1405 1394.5L1406 1390.2L1407 1388L1408 1386.7L1409 1363.3L1410 1364.4L1411 1417.3L1412 1389L1413 1395.7L1414 1359.2L1415 1358.5L1416 1386.7L1417 1371.3L1418 1369.2L1419 1399.9L1420 1392.4L1421 1391.8L1422 1390L1423 1387.8L1424 1392.1L1425 1387.3L1426 1389.6L1427 1392.4L1428 1389.6L1429 1386.2L1430 1389.7L1431 1389.6L1432 1393.4L1433 1388L1434 1392.3L1435 1382.8L1436 1380.9L1437 1387.2L1438 1388.3L1439 1388.9L1440 1389.9L1441 1390.3L1442 1389.1L1443 1392.1L1444 1390.1L1445 1391.7L1446 1393.5L1447 1389L1448 1388.8L1449 1378.1L1450 1376.7L1451 1389.7L1452 1408.7L1453 1407.6L1454 1392.1L1455 1354.6L1456 1355.7L1457 1404.5L1458 1390.7L1459 1386.4L1460 1397.5L1461 1389.8L1462 1392L1463 1390L1464 1393.2L1465 1390.6L1466 1388L1467 1386.6L1468 1389.1L1469 1390L1470 1389.3L1471 1388.1L1472 1388.3L1473 1392.7L1474 1389.8L1475 1388.7L1476 1386.1L1477 1387.3L1478 1390.5L1479 1389.6L1480 1388.8L1481 1388.4L1482 1402.7L1483 1391L1484 1329.3L1485 1329.7L1486 1369.1L1487 1371.4L1488 1384.1L1489 1387.4L1490 1397.8L1491 1400.1L1492 1380.1L1493 1385.1L1494 1383.2L1495 1381.6L1496 1383.2L1497 1379.7L1498 1359.5L1499 1380.6L1500 1375.8L1501 1377.1L1502 1353.1L1503 1381.2L1504 1369.6L1505 1369.2L1506 1399.1L1507 1376.9L1508 1369.1L1509 1389L1510 1386.2L1511 1371.9L1512 1372.5L1513 1365.8L1514 1340.5L1515 1366.2L1516 1365.2L1517 1421.5L1518 1420.5L1519 1363.4L1520 1360.2L1521 1355.1L1522 1359.8L1523 1354.3L1524 1355.4L1525 1351.7L1526 1349.3L1527 1348.6L1528 1347.6L1529 1287.7L1530 1291.8L1531 1338.3L1532 1337.9L1533 1335.3L1534 1336.1L1535 1331.1L1536 1328.1L1537 1324L1538 1336.7L1539 1318.9L1540 1315.3L1541 1293.9L1542 1292.3L1543 1304.5L1544 1302.8L1545 1297.8L1546 1299.5L1547 1291.2L1548 1289.4L1549 1286.8L1550 1277.9L1551 1278.3L1552 1269.7L1553 1265.5L1554 1260.9L1555 1228.5L1556 1221.1L1557 1244.6L1558 1238.5L1559 1232.9L1560 1231.6L1561 1266L1562 1259.3L1563 1214.2L1564 1207.7L1565 1203.6L1566 1195.9L1567 1188.7L1568 1179.4L1569 1170.9L1570 1165.7L1571 1168.5L1572 1186L1573 1137.1L1574 1134.1L1575 1164.8L1576 1159L1577 1105.7L1578 1096.2L1579 1086.1L1580 1078.1L1581 1103.3L1582 1056.1L1583 1048.9L1584 1035.7L1585 1025.4L1586 1012.8L1587 996.9L1588 985.7L1589 969.4L1590 957.7L1591 943.3L1592 933.9L1593 943.5L1594 930.3L1595 888.1L1596 893L1597 885.3L1598 876.3L1599 866.2L1600 834.5L1601 823.1L1602 841.4L1603 772.2L1604 826.4L1605 825.6L1606 816.9L1607 818.9L1608 813.7L1609 811.5L1610 807.1L1611 816.8L1612 790.6L1613 792.8L1614 825.8L1615 823.2L1616 861.4L1617 863.9L1618 843.5L1619 844.8L1620 853.6L1621 866.5L1622 875.8L1623 930.5L1624 943.2L1625 909.5L1626 926.7L1627 941.3L1628 936.1L1629 948.5L1630 977.5L1631 987.9L1632 994.1L1633 1004.8L1634 1014.8L1635 1026.2L1636 1055.4L1637 1056.9L1638 1072.1L1639 1085.1L1640 1098.8L1641 1063.6L1642 1118.5L1643 1122.7L1644 1132.4L1645 1136L1646 1143.1L1647 1150.2L1648 1198.2L1649 1156L1650 1164.5L1651 1203.1L1652 1208.6L1653 1166.3L1654 1211.1L1655 1214.9L1656 1204.2L1657 1211.2L1658 1247.4L1659 1224.6L1660 1233.3L1661 1237.7L1662 1223.9L1663 1228.2L1664 1248.4L1665 1259.6L1666 1262L1667 1270.7L1668 1272.1L1669 1311.8L1670 1278.9L1671 1287L1672 1279.3L1673 1285.6L1674 1309.9L1675 1332.2L1676 1272.5L1677 1309.8L1678 1301L1679 1304L1680 1325.7L1681 1326.2L1682 1325.6L1683 1334L1684 1338.2L1685 1340.7L1686 1344.8L1687 1349.7L1688 1355.5L1689 1354.8L1690 1357.7L1691 1358.1L1692 1362.6L1693 1367.4L1694 1375.5L1695 1373.7L1696 1371.1L1697 1373.8L1698 1336.8L1699 1369.2L1700 1379.4L1701 1385.4L1702 1384.7L1703 1388.6L1704 1413.1L1705 1393.6L1706 1412.8L1707 1410.4L1708 1397.3L1709 1397.1L1710 1398.5L1711 1401.7L1712 1404.8L1713 1403.6L1714 1404.7L1715 1406.8L1716 1407.9L1717 1397L1718 1394.9L1719 1409L1720 1409.9L1721 1395.4L1722 1394.6L1723 1410.6L1724 1409.9L1725 1416.5L1726 1412.1L1727 1413.9L1728 1413.4L1729 1417.6L1730 1415.7L1731 1419.5L1732 1417.9L1733 1369.7L1734 1370.8L1735 1417.7L1736 1415.6L1737 1420.5L1738 1381.9L1739 1420.1L1740 1419.9L1741 1423.8L1742 1372.4L1743 1423.5L1744 1420.6L1745 1421.1L1746 1422.6L1747 1425.5L1748 1441.5L1749 1423.6L1750 1424.4L1751 1421.8L1752 1427.7L1753 1394.6L1754 1423.5L1755 1424.5L1756 1425.8L1757 1425.6L1758 1423.6L1759 1441.5L1760 1386.6L1761 1388.6L1762 1423.5L1763 1424.8L1764 1432.1L1765 1427.7L1766 1423.9L1767 1428L1768 1425.6L1769 1426.3L1770 1426.6L1771 1423.9L1772 1426.7L1773 1427.2L1774 1424.5L1775 1426.3L1776 1424.5L1777 1426L1778 1423.8L1779 1418.1L1780 1423.2L1781 1425L1782 1422.1L1783 1423.3L1784 1427L1785 1422.9L1786 1416.4L1787 1423.9L1788 1437.8L1789 1439.9L1790 1426L1791 1427.4L1792 1424.8L1793 1421.7L1794 1413.3L1795 1425.8L1796 1425L1797 1426.3L1798 1421.6L1799 1424.9L1800 1424.7L1801 1421.5L1802 1422.9L1803 1425.4L1804 1426L1805 1423.8L1806 1423.7L1807 1429.4L1808 1441.5L1809 1441.5L1810 1423.9L1811 1401.4L1812 1402L1813 1422.7L1814 1441.5L1815 1441.5L1816 1431.4L1817 1431.2L1818 1426.2L1819 1424.6L1820 1425.5L1821 1426.1L1822 1399.3L1823 1397.1L1824 1424.2L1825 1398.4L1826 1402.4L1827 1425.1L1828 1422.8L1829 1441.5L1830 1441.5L1831 1423.7L1832 1423L1833 1424.9" fill="none" stroke="#000" stroke-width="1.2" stroke-linejoin="round" stroke-linecap="butt"/>
<path d="M1305.5 1392.4L1306.5 1386.4L1307.5 1413.4L1308.5 1409L1309.5 1387L1310.5 1389.1L1311.5 1390.6L1312.5 1392L1313.5 1388.8L1314.5 1426L1315.5 1427.4L1316.5 1390.2L1317.5 1393L1318.5 1392.7L1319.5 1389.7L1320.5 1391.4L1321.5 1391.5L1322.5 1380.4L1323.5 1377.7L1324.5 1371.3L1325.5 1390.5L1326.5 1404L1327.5 1401.8L1328.5 1388.1L1329.5 1390.8L1330.5 1388.7L1331.5 1388.9L1332.5 1393.9L1333.5 1388L1334.5 1390.2L1335.5 1412.3L1336.5 1410.8L1337.5 1413.8L1338.5 1411.3L1339.5 1390.7L1340.5 1391.4L1341.5 1388.8L1342.5 1390.1L1343.5 1390.1L1344.5 1389.8L1345.5 1392.3L1346.5 1391.4L1347.5 1389.1L1348.5 1387.6L1349.5 1387.3L1350.5 1388.2L1351.5 1387.6L1352.5 1391.6L1353.5 1390.8L1354.5 1388.4L1355.5 1389.9L1356.5 1388.6L1357.5 1405.1L1358.5 1392L1359.5 1369.7L1360.5 1410.8L1361.5 1389.4L1362.5 1389.5L1363.5 1389.6L1364.5 1390.3L1365.5 1388.2L1366.5 1439.9L1367.5 1441.5L1368.5 1387.4L1369.5 1366.7L1370.5 1390L1371.5 1428.1L1372.5 1429.7L1373.5 1387.7L1374.5 1388.7L1375.5 1391.2L1376.5 1390L1377.5 1387.3L1378.5 1388.9L1379.5 1387L1380.5 1388.3L1381.5 1387.9L1382.5 1390.6L1383.5 1392.9L1384.5 1389.5L1385.5 1335.1L1386.5 1337.4L1387.5 1388L1388.5 1389.2L1389.5 1392.4L1390.5 1388.5L1391.5 1387.8L1392.5 1389.9L1393.5 1392.6L1394.5 1372L1395.5 1373.5L1396.5 1366.5L1397.5 1392.4L1398.5 1390.6L1399.5 1387.7L1400.5 1391L1401.5 1394.8L1402.5 1419.5L1403.5 1419.1L1404.5 1357.9L1405.5 1357.7L1406.5 1389.7L1407.5 1390.3L1408.5 1387.1L1409.5 1388.9L1410.5 1378.5L1411.5 1374.7L1412.5 1366.8L1413.5 1386.5L1414.5 1390.3L1415.5 1391.7L1416.5 1392.8L1417.5 1392.7L1418.5 1388.2L1419.5 1387.2L1420.5 1390.2L1421.5 1391L1422.5 1388.2L1423.5 1388L1424.5 1393L1425.5 1390.8L1426.5 1428.1L1427.5 1427.1L1428.5 1370.2L1429.5 1372.3L1430.5 1390.4L1431.5 1401.9L1432.5 1390.5L1433.5 1392.9L1434.5 1389.5L1435.5 1389L1436.5 1388.3L1437.5 1327.4L1438.5 1388.1L1439.5 1391.4L1440.5 1424.4L1441.5 1423.7L1442.5 1388.1L1443.5 1389.6L1444.5 1391.2L1445.5 1389.9L1446.5 1389.6L1447.5 1414.7L1448.5 1391L1449.5 1390L1450.5 1388.1L1451.5 1394.1L1452.5 1388.9L1453.5 1392.2L1454.5 1389.7L1455.5 1390.8L1456.5 1388.9L1457.5 1391.9L1458.5 1391.5L1459.5 1388.6L1460.5 1391.8L1461.5 1390.6L1462.5 1388L1463.5 1390.7L1464.5 1389.8L1465.5 1399.6L1466.5 1411.3L1467.5 1413.4L1468.5 1385.7L1469.5 1387.6L1470.5 1386.9L1471.5 1387.5L1472.5 1390.5L1473.5 1396.5L1474.5 1390.7L1475.5 1427.8L1476.5 1397.2L1477.5 1387.7L1478.5 1386.9L1479.5 1423.5L1480.5 1360.7L1481.5 1364.6L1482.5 1388.3L1483.5 1389.1L1484.5 1388.2L1485.5 1419.8L1486.5 1387.3L1487.5 1383.7L1488.5 1384.5L1489.5 1385.5L1490.5 1382.5L1491.5 1376.9L1492.5 1373.7L1493.5 1381.8L1494.5 1381.4L1495.5 1383.9L1496.5 1385.2L1497.5 1382.4L1498.5 1392L1499.5 1392.6L1500.5 1380.9L1501.5 1362.3L1502.5 1364.6L1503.5 1373.6L1504.5 1328.3L1505.5 1329L1506.5 1429.2L1507.5 1377.2L1508.5 1376.1L1509.5 1359.6L1510.5 1406.7L1511.5 1367L1512.5 1316.2L1513.5 1313.6L1514.5 1368.4L1515.5 1359.2L1516.5 1392.1L1517.5 1361.5L1518.5 1374.3L1519.5 1375.9L1520.5 1359.5L1521.5 1394.6L1522.5 1391.1L1523.5 1351.8L1524.5 1380.4L1525.5 1360.1L1526.5 1357.4L1527.5 1348.3L1528.5 1337.5L1529.5 1341.5L1530.5 1340.4L1531.5 1317.3L1532.5 1311.5L1533.5 1334.5L1534.5 1333.2L1535.5 1392.3L1536.5 1327.1L1537.5 1324.9L1538.5 1321.2L1539.5 1296.2L1540.5 1350.9L1541.5 1348.3L1542.5 1311.8L1543.5 1306.6L1544.5 1300.6L1545.5 1298.2L1546.5 1296.5L1547.5 1294.5L1548.5 1285L1549.5 1284.3L1550.5 1277.5L1551.5 1273.5L1552.5 1266.5L1553.5 1263.3L1554.5 1239.1L1555.5 1231.2L1556.5 1218.3L1557.5 1243.2L1558.5 1205.3L1559.5 1233.8L1560.5 1228.7L1561.5 1182.8L1562.5 1178L1563.5 1211.4L1564.5 1203.1L1565.5 1199L1566.5 1190.3L1567.5 1183L1568.5 1175.8L1569.5 1169.4L1570.5 1161L1571.5 1147.5L1572.5 1143.2L1573.5 1133.1L1574.5 1128.9L1575.5 1117.6L1576.5 1113L1577.5 1101.7L1578.5 1060.4L1579.5 1051.2L1580.5 1070.7L1581.5 1061.7L1582.5 1053.2L1583.5 1038.3L1584.5 1030.5L1585.5 1020.9L1586.5 1032.7L1587.5 1020.2L1588.5 982.8L1589.5 961.4L1590.5 947L1591.5 940.1L1592.5 924.5L1593.5 919.6L1594.5 910.4L1595.5 897.8L1596.5 903.7L1597.5 878.7L1598.5 867.9L1599.5 858.2L1600.5 896.6L1601.5 885.6L1602.5 857.9L1603.5 824.7L1604.5 825.9L1605.5 796.2L1606.5 818.8L1607.5 816.3L1608.5 834.3L1609.5 834.8L1610.5 812L1611.5 813.4L1612.5 815L1613.5 819.7L1614.5 822.5L1615.5 825.7L1616.5 801.5L1617.5 810.2L1618.5 848.9L1619.5 851.3L1620.5 858.5L1621.5 870.6L1622.5 880.9L1623.5 888.9L1624.5 927.1L1625.5 917.9L1626.5 934L1627.5 946.8L1628.5 960.3L1629.5 973.6L1630.5 1039.9L1631.5 1052.5L1632.5 999.9L1633.5 1012.8L1634.5 1025.5L1635.5 1036.6L1636.5 1048.6L1637.5 1064.7L1638.5 1100.9L1639.5 1116.5L1640.5 1101.5L1641.5 1113.5L1642.5 1120.9L1643.5 1126.5L1644.5 1130.7L1645.5 1141.1L1646.5 1148.5L1647.5 1149.1L1648.5 1154.8L1649.5 1131L1650.5 1132.6L1651.5 1175.5L1652.5 1179.7L1653.5 1188.5L1654.5 1195.5L1655.5 1208.7L1656.5 1216.9L1657.5 1215.9L1658.5 1226.8L1659.5 1230.1L1660.5 1225.8L1661.5 1243.5L1662.5 1247.4L1663.5 1248.9L1664.5 1257.5L1665.5 1262.3L1666.5 1264.8L1667.5 1270.5L1668.5 1272.8L1669.5 1280.8L1670.5 1281.7L1671.5 1287.6L1672.5 1293.7L1673.5 1297.4L1674.5 1295.8L1675.5 1284.3L1676.5 1286.7L1677.5 1308L1678.5 1313.3L1679.5 1320.7L1680.5 1369.2L1681.5 1327.9L1682.5 1330.8L1683.5 1338.6L1684.5 1341.6L1685.5 1341.9L1686.5 1346.1L1687.5 1381.5L1688.5 1386L1689.5 1356L1690.5 1321.4L1691.5 1324.7L1692.5 1365L1693.5 1364.8L1694.5 1370.7L1695.5 1370.2L1696.5 1372.6L1697.5 1398.3L1698.5 1375.6L1699.5 1381.7L1700.5 1405.5L1701.5 1406L1702.5 1383.9L1703.5 1406.7L1704.5 1410.2L1705.5 1411L1706.5 1394.8L1707.5 1399.5L1708.5 1402.1L1709.5 1408.9L1710.5 1403.5L1711.5 1403.5L1712.5 1404.8L1713.5 1402L1714.5 1403.9L1715.5 1415.4L1716.5 1417.2L1717.5 1408.2L1718.5 1434.2L1719.5 1415.3L1720.5 1412.7L1721.5 1412.5L1722.5 1411.8L1723.5 1411.4L1724.5 1418.5L1725.5 1441.5L1726.5 1417.9L1727.5 1376.9L1728.5 1417.1L1729.5 1417.3L1730.5 1441.5L1731.5 1441.5L1732.5 1441.5L1733.5 1417.3L1734.5 1420.1L1735.5 1417.5L1736.5 1417.3L1737.5 1394L1738.5 1419.9L1739.5 1425.5L1740.5 1393.5L1741.5 1424.9L1742.5 1422.2L1743.5 1399.8L1744.5 1422.2L1745.5 1423L1746.5 1424.2L1747.5 1425.7L1748.5 1424.6L1749.5 1422L1750.5 1423.8L1751.5 1421.2L1752.5 1412L1753.5 1410.9L1754.5 1422.6L1755.5 1423.2L1756.5 1424.7L1757.5 1424.6L1758.5 1426.4L1759.5 1423.1L1760.5 1441.5L1761.5 1441.5L1762.5 1441.5L1763.5 1441.5L1764.5 1422.7L1765.5 1393.5L1766.5 1394L1767.5 1424.7L1768.5 1424.9L1769.5 1425.9L1770.5 1426.1L1771.5 1426.8L1772.5 1425.6L1773.5 1424.2L1774.5 1426.1L1775.5 1425.4L1776.5 1426.5L1777.5 1425L1778.5 1423L1779.5 1424.3L1780.5 1424.4L1781.5 1422.9L1782.5 1424.2L1783.5 1425.4L1784.5 1426.7L1785.5 1424.8L1786.5 1421.6L1787.5 1425.6L1788.5 1428.3L1789.5 1416.7L1790.5 1424.9L1791.5 1425.7L1792.5 1424.1L1793.5 1412.6L1794.5 1425.3L1795.5 1441.5L1796.5 1425.8L1797.5 1427L1798.5 1428.2L1799.5 1423.2L1800.5 1421.9L1801.5 1393.5L1802.5 1423.2L1803.5 1426.8L1804.5 1426.6L1805.5 1422.3L1806.5 1428.3L1807.5 1426L1808.5 1426.5L1809.5 1425L1810.5 1425.1L1811.5 1423.5L1812.5 1423.8L1813.5 1424L1814.5 1418.2L1815.5 1428.5L1816.5 1424.8L1817.5 1386.7L1818.5 1387.2L1819.5 1406.9L1820.5 1404.8L1821.5 1425.1L1822.5 1441.5L1823.5 1441.5L1824.5 1441.5L1825.5 1424L1826.5 1422.4L1827.5 1421.4L1828.5 1427.2L1829.5 1426L1830.5 1441.5L1831.5 1441.5L1832.5 1440.4L1833.5 1423.6" fill="none" stroke="#000" stroke-width="1.2" stroke-linejoin="round" stroke-linecap="butt"/>
<path d="M1535.2 1352.8L1536.2 1328L1537.2 1340.5L1538.2 1324.2L1539.2 1323.2L1540.2 1339.8L1541.2 1311.4L1542.2 1319.3L1543.2 1306.6L1544.2 1304.3L1545.2 1274.8L1546.2 1301L1547.2 1283.1L1548.2 1266.4L1549.2 1270.4L1550.2 1287L1551.2 1272.1L1552.2 1267.9L1553.2 1266.5L1554.2 1265.7L1555.2 1255.8L1556.2 1247.5L1557.2 1270.1L1558.2 1243.5L1559.2 1232.9L1560.2 1226.2L1561.2 1236L1562.2 1222.5L1563.2 1211.4L1564.2 1222.4L1565.2 1225.5L1566.2 1169.1L1567.2 1170.8L1568.2 1179.1L1569.2 1166.6L1570.2 1155L1571.2 1130.9L1572.2 1153L1573.2 1141.6L1574.2 1116.7L1575.2 1118.5L1576.2 1104.7L1577.2 1102.9L1578.2 1069.2L1579.2 1086.6L1580.2 1070.9L1581.2 1063.7L1582.2 1075L1583.2 1026.2L1584.2 1033.8L1585.2 1019.7L1586.2 1008.8L1587.2 1015.1L1588.2 996.5L1589.2 970.6L1590.2 938.9L1591.2 957.4L1592.2 929.8L1593.2 921.4L1594.2 930.6L1595.2 901.2L1596.2 892L1597.2 886.2L1598.2 872.6L1599.2 867.7L1600.2 856.8L1601.2 846.6L1602.2 840.3L1603.2 838.8L1604.2 843.5L1605.2 797.3L1606.2 836.3L1607.2 814.1L1608.2 810.9L1609.2 807.6L1610.2 809.7L1611.2 807.5L1612.2 826.7L1613.2 841.2L1614.2 825.3L1615.2 824.8L1616.2 828.1L1617.2 835.6L1618.2 864.3L1619.2 861.7L1620.2 875.9L1621.2 866.4L1622.2 863.3L1623.2 878.7L1624.2 903L1625.2 917.1L1626.2 929.6L1627.2 943.5L1628.2 964L1629.2 970.4L1630.2 980.1L1631.2 985.7L1632.2 997.1L1633.2 1003.4L1634.2 1018.3L1635.2 1037.3L1636.2 1049.3L1637.2 1062.2L1638.2 1056.9L1639.2 1089.3L1640.2 1080.9L1641.2 1111.9L1642.2 1101.7L1643.2 1128.4L1644.2 1120.9L1645.2 1138.8L1646.2 1126.3L1647.2 1153.5L1648.2 1149.5L1649.2 1159.9L1650.2 1190.5L1651.2 1173.1L1652.2 1179.1L1653.2 1186.6L1654.2 1178.4L1655.2 1198.4L1656.2 1205.4L1657.2 1216.1L1658.2 1224.8L1659.2 1231.1L1660.2 1253.5L1661.2 1240.7L1662.2 1243.5L1663.2 1231.2L1664.2 1265.8L1665.2 1245.2L1666.2 1264.8L1667.2 1268.4L1668.2 1279.3L1669.2 1281.6L1670.2 1281.3L1671.2 1285.3L1672.2 1289.4L1673.2 1292.4L1674.2 1299.6L1675.2 1303.1L1676.2 1307.1L1677.2 1306.6L1678.2 1316.8L1679.2 1294.4L1680.2 1325.4L1681.2 1314.8L1682.2 1333.5L1683.2 1351.9L1684.2 1315.8" fill="none" stroke="#000" stroke-width="1.2" stroke-linejoin="round" stroke-linecap="butt"/>
<path d="M1535.1 1345.5L1536.1 1321.9L1537.1 1325.5L1538.1 1297L1539.1 1335.3L1540.1 1313.8L1541.1 1315.4L1542.1 1307.1L1543.1 1308.6L1544.1 1315.1L1545.1 1278.8L1546.1 1279.6L1547.1 1274.2L1548.1 1293.2L1549.1 1258.5L1550.1 1283.5L1551.1 1277.5L1552.1 1267.1L1553.1 1273.7L1554.1 1264.3L1555.1 1250.6L1556.1 1251.3L1557.1 1244.8L1558.1 1249.8L1559.1 1250.5L1560.1 1229.4L1561.1 1221.9L1562.1 1218.4L1563.1 1214L1564.1 1205.5L1565.1 1218.6L1566.1 1215.2L1567.1 1184.2L1568.1 1180.8L1569.1 1160.5L1570.1 1167L1571.1 1154.3L1572.1 1169.3L1573.1 1141.1L1574.1 1132.8L1575.1 1140.7L1576.1 1114.4L1577.1 1103.5L1578.1 1119.4L1579.1 1085.2L1580.1 1097.2L1581.1 1062.3L1582.1 1053.4L1583.1 1042.7L1584.1 1035L1585.1 1024.6L1586.1 1014.6L1587.1 997.5L1588.1 998.9L1589.1 953.7L1590.1 956.8L1591.1 936L1592.1 912.2L1593.1 896.9L1594.1 931.6L1595.1 913.6L1596.1 893L1597.1 885.7L1598.1 871.7L1599.1 878.4L1600.1 870.3L1601.1 848.7L1602.1 848.2L1603.1 833.9L1604.1 826.8L1605.1 824.8L1606.1 820.3L1607.1 795.9L1608.1 837.6L1609.1 812.4L1610.1 827.2L1611.1 797.2L1612.1 817L1613.1 820.5L1614.1 823.7L1615.1 827L1616.1 830.6L1617.1 858.8L1618.1 859.3L1619.1 874.5L1620.1 856.3L1621.1 876.6L1622.1 876L1623.1 884.8L1624.1 913L1625.1 928L1626.1 916.9L1627.1 947.9L1628.1 951.5L1629.1 960.7L1630.1 977.7L1631.1 984.3L1632.1 995.2L1633.1 1028L1634.1 1020.2L1635.1 1034.4L1636.1 1046.6L1637.1 1082.3L1638.1 1097.4L1639.1 1083.5L1640.1 1101.7L1641.1 1107.4L1642.1 1119.7L1643.1 1128.6L1644.1 1133L1645.1 1152.4L1646.1 1145.7L1647.1 1147.1L1648.1 1154L1649.1 1152.9L1650.1 1153.7L1651.1 1171.6L1652.1 1186.8L1653.1 1187.7L1654.1 1198.6L1655.1 1197.6L1656.1 1211.3L1657.1 1212.1L1658.1 1213.1L1659.1 1251.4L1660.1 1229.5L1661.1 1223.2L1662.1 1249.2L1663.1 1249.9L1664.1 1253.9L1665.1 1259.1L1666.1 1243.5L1667.1 1270.1L1668.1 1256.8L1669.1 1277.7L1670.1 1280.4L1671.1 1286.1L1672.1 1283.1L1673.1 1290.9L1674.1 1298.4L1675.1 1302.4L1676.1 1313.6L1677.1 1309.4L1678.1 1292L1679.1 1337.1L1680.1 1307L1681.1 1324.4L1682.1 1332.8L1683.1 1351.1L1684.1 1335.3" fill="none" stroke="#000" stroke-width="1.2" stroke-linejoin="round" stroke-linecap="butt"/>
<path d="M1313 1390L1326.2 1390L1339.6 1390L1352.8 1390L1365.6 1390L1377.9 1390L1389.4 1390L1400 1390L1409.7 1390L1418.9 1390L1427.4 1390L1435.3 1390.1L1442.5 1390.1L1449.1 1390.1L1454.9 1390L1460 1390L1464 1390L1466.9 1389.9L1468.8 1389.9L1470.2 1389.9L1471.3 1389.8L1472.3 1389.6L1473.5 1389.4L1475.3 1389L1477.5 1388.6L1479.8 1388.1L1482.1 1387.6L1484.6 1387L1487 1386.3L1489.5 1385.5L1491.9 1384.5L1494.3 1383.3L1496.7 1381.9L1499.2 1380.3L1501.6 1378.6L1504.1 1376.8L1506.5 1374.8L1508.9 1372.7L1511.2 1370.4L1513.4 1368.1L1515.5 1365.7L1517.5 1363.2L1519.5 1360.6L1521.4 1357.8L1523.3 1355L1525.1 1351.9L1526.9 1348.7L1528.7 1345.2L1530.5 1341.5L1532.3 1337.5L1534 1333.3L1535.7 1328.9L1537.4 1324.5L1539 1319.9L1540.5 1315.4L1542 1310.8L1543.4 1306.2L1544.7 1301.5L1546 1296.8L1547.2 1292L1548.3 1287.2L1549.4 1282.3L1550.5 1277.5L1551.6 1272.7L1552.7 1267.9L1553.7 1263.2L1554.6 1258.4L1555.6 1253.6L1556.5 1248.8L1557.4 1244.1L1558.3 1239.3L1559.2 1234.5L1560.1 1229.7L1561 1224.9L1561.9 1220.2L1562.7 1215.4L1563.6 1210.6L1564.4 1205.8L1565.2 1201.1L1565.9 1196.3L1566.6 1191.5L1567.2 1186.8L1567.8 1182L1568.4 1177.2L1569 1172.5L1569.5 1167.7L1570.1 1163L1570.7 1158.2L1571.3 1153.5L1571.9 1148.9L1572.5 1144.4L1573.1 1139.8L1573.7 1135.1L1574.3 1130.3L1574.9 1125.3L1575.5 1120L1576.1 1114.3L1576.8 1108.3L1577.4 1102L1578 1095.6L1578.7 1089.1L1579.3 1082.8L1579.9 1076.5L1580.5 1070.6L1581.1 1064.9L1581.6 1059.4L1582.2 1054L1582.8 1048.7L1583.3 1043.4L1583.8 1038.2L1584.3 1032.9L1584.8 1027.6L1585.3 1022.2L1585.7 1016.9L1586.1 1011.5L1586.5 1006.1L1586.8 1000.8L1587.2 995.4L1587.6 990.1L1588 984.7L1588.4 979.3L1588.8 973.7L1589.2 968.1L1589.6 962.5L1590 957L1590.4 951.7L1590.8 946.6L1591.2 941.7L1591.6 937.2L1592 932.9L1592.4 928.8L1592.8 924.9L1593.3 921.1L1593.7 917.3L1594.1 913.5L1594.5 909.5L1594.9 905.5L1595.3 901.7L1595.6 897.9L1596 894.1L1596.4 890.2L1596.8 886.1L1597.2 881.8L1597.7 877.3L1598.3 872.3L1598.9 866.7L1599.6 860.8L1600.3 854.9L1601.1 849L1601.8 843.5L1602.4 838.6L1603 834.4L1603.5 831L1604 828.2L1604.5 825.9L1604.9 824L1605.3 822.3L1605.7 820.8L1606.1 819.4L1606.5 818L1606.9 816.6L1607.3 815.3L1607.6 814.1L1608 813L1608.4 812.2L1608.7 811.5L1609.1 811.1L1609.5 811L1609.9 811.1L1610.3 811.5L1610.8 812.2L1611.2 813L1611.6 814.1L1612.1 815.3L1612.5 816.6L1613 818L1613.5 819.4L1613.9 820.8L1614.4 822.3L1614.9 824L1615.4 825.9L1615.9 828.2L1616.4 831L1617 834.4L1617.6 838.5L1618.3 843.3L1619 848.5L1619.7 854.2L1620.5 860L1621.2 865.9L1621.8 871.8L1622.4 877.3L1622.9 882.7L1623.4 888L1623.8 893.4L1624.1 898.8L1624.5 904.2L1624.9 909.6L1625.2 914.9L1625.6 920.3L1626 925.7L1626.4 931L1626.8 936.4L1627.1 941.7L1627.5 947.1L1627.9 952.5L1628.3 957.8L1628.8 963.2L1629.3 968.6L1629.8 973.9L1630.4 979.3L1630.9 984.7L1631.5 990.1L1632.1 995.5L1632.6 1000.8L1633.1 1006.2L1633.6 1011.6L1634 1016.9L1634.4 1022.3L1634.8 1027.7L1635.1 1033L1635.5 1038.4L1635.9 1043.7L1636.3 1049.1L1636.7 1054.5L1637.1 1060.1L1637.5 1065.6L1637.9 1071.2L1638.3 1076.6L1638.7 1082L1639.1 1087.1L1639.5 1092L1639.9 1096.6L1640.3 1100.9L1640.6 1105.1L1641 1109.1L1641.4 1113L1641.8 1117L1642.3 1120.9L1642.8 1125L1643.4 1129.1L1644.1 1133.2L1644.9 1137.2L1645.7 1141.3L1646.5 1145.4L1647.3 1149.6L1648.1 1153.8L1648.9 1158.2L1649.6 1162.7L1650.4 1167.4L1651.1 1172.1L1651.8 1176.9L1652.5 1181.8L1653.2 1186.7L1653.9 1191.5L1654.6 1196.3L1655.3 1201.1L1656 1205.8L1656.7 1210.6L1657.4 1215.4L1658.1 1220.2L1658.8 1224.9L1659.6 1229.7L1660.4 1234.5L1661.3 1239.3L1662.1 1244.1L1663 1248.8L1664 1253.6L1664.9 1258.4L1665.9 1263.2L1666.9 1267.9L1668 1272.7L1669.1 1277.5L1670.2 1282.2L1671.4 1287L1672.6 1291.8L1673.8 1296.5L1675.1 1301.3L1676.3 1306L1677.5 1310.8L1678.7 1315.6L1679.9 1320.6L1681 1325.5L1682.2 1330.5L1683.4 1335.4L1684.6 1340.1L1685.8 1344.7L1687.1 1349L1688.4 1353.1L1689.8 1356.9L1691.2 1360.6L1692.6 1364.1L1694 1367.6L1695.5 1370.9L1697 1374.3L1698.5 1377.6L1700 1380.9L1701.6 1384.3L1703.1 1387.6L1704.7 1390.8L1706.4 1394L1708.1 1397L1709.9 1399.8L1711.9 1402.4L1714 1404.8L1716.1 1407.1L1718.4 1409.2L1720.7 1411.2L1723.2 1413L1725.7 1414.7L1728.3 1416.3L1731 1417.7L1733.8 1419L1736.8 1420.1L1739.9 1421.1L1743.1 1422L1746.3 1422.8L1749.5 1423.4L1752.7 1424L1755.8 1424.5L1757.5 1424.9L1757.3 1425.1L1756.4 1425.2L1755.8 1425.2L1756.8 1425.1L1760.3 1425.1L1767.7 1425L1780 1425L1799.5 1425L1826 1425" fill="none" stroke="#000" stroke-width="7" stroke-linejoin="round" stroke-linecap="butt"/>
<text x="1810" y="918.6" font-size="80" font-weight="normal" font-style="italic" fill="#000">L</text>
<text x="1385" y="1194" font-size="80" font-weight="normal" font-style="italic" fill="#000" textLength="73.5" lengthAdjust="spacingAndGlyphs">M</text>
<text x="1810" y="1288" font-size="80" font-weight="normal" font-style="italic" fill="#000" textLength="56" lengthAdjust="spacingAndGlyphs">K</text>
<path d="M1808 904L1618.2 1087.6" fill="none" stroke="#000" stroke-width="1.5" stroke-linejoin="round" stroke-linecap="butt"/>
<path d="M1434.6 1215L1553.5 1329.7" fill="none" stroke="#000" stroke-width="1.5" stroke-linejoin="round" stroke-linecap="butt"/>
<path d="M1810.2 1256.7L1682.3 1379.1" fill="none" stroke="#000" stroke-width="1.5" stroke-linejoin="round" stroke-linecap="butt"/>
</svg></body></html>
